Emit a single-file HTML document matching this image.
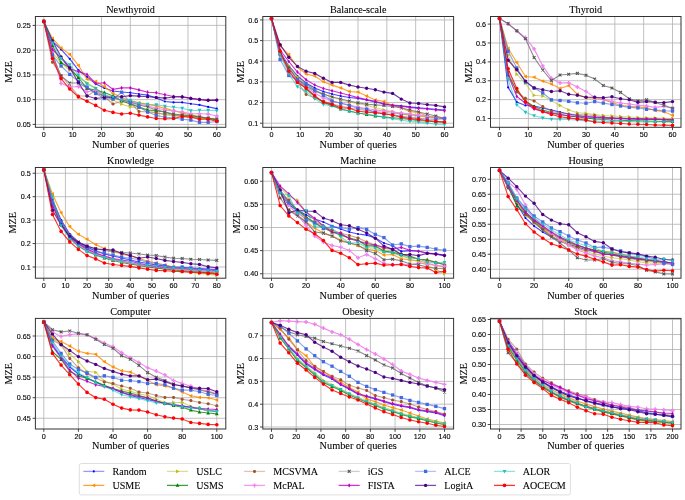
<!DOCTYPE html><html><head><meta charset="utf-8"><style>html,body{margin:0;padding:0;background:#fff;overflow:hidden}svg{display:block;will-change:transform}.s{font-family:"Liberation Sans",sans-serif;font-size:7.2px;fill:#000;stroke:#000;stroke-width:0.12px}.t{font-family:"Liberation Serif",serif;font-size:10.2px;fill:#000;stroke:#000;stroke-width:0.08px}.xl{font-size:10.3px}.lg{font-size:10.05px}</style></head><body>
<svg width="685" height="500" viewBox="0 0 685 500">
<rect width="685" height="500" fill="#fff"/>
<g>
<line x1="43.80" y1="16.5" x2="43.80" y2="127.3" stroke="#b0b0b0" stroke-width="0.8"/>
<line x1="72.63" y1="16.5" x2="72.63" y2="127.3" stroke="#b0b0b0" stroke-width="0.8"/>
<line x1="101.47" y1="16.5" x2="101.47" y2="127.3" stroke="#b0b0b0" stroke-width="0.8"/>
<line x1="130.30" y1="16.5" x2="130.30" y2="127.3" stroke="#b0b0b0" stroke-width="0.8"/>
<line x1="159.13" y1="16.5" x2="159.13" y2="127.3" stroke="#b0b0b0" stroke-width="0.8"/>
<line x1="187.97" y1="16.5" x2="187.97" y2="127.3" stroke="#b0b0b0" stroke-width="0.8"/>
<line x1="216.80" y1="16.5" x2="216.80" y2="127.3" stroke="#b0b0b0" stroke-width="0.8"/>
<line x1="35.4" y1="124.40" x2="225.8" y2="124.40" stroke="#b0b0b0" stroke-width="0.8"/>
<line x1="35.4" y1="99.65" x2="225.8" y2="99.65" stroke="#b0b0b0" stroke-width="0.8"/>
<line x1="35.4" y1="74.90" x2="225.8" y2="74.90" stroke="#b0b0b0" stroke-width="0.8"/>
<line x1="35.4" y1="50.15" x2="225.8" y2="50.15" stroke="#b0b0b0" stroke-width="0.8"/>
<line x1="35.4" y1="25.40" x2="225.8" y2="25.40" stroke="#b0b0b0" stroke-width="0.8"/>
<defs><clipPath id="c0"><rect x="35.4" y="16.5" width="190.4" height="110.8"/></clipPath></defs>
<g clip-path="url(#c0)">
<path d="M43.80 21.40 L52.45 41.50 L61.10 49.40 L69.75 58.80 L78.40 70.00 L87.05 77.00 L95.70 84.00 L104.35 88.00 L113.00 91.00 L121.65 92.00 L130.30 92.70 L138.95 94.00 L147.60 95.10 L156.25 98.00 L164.90 101.50 L173.55 102.40 L182.20 102.40 L190.85 103.80 L199.50 104.90 L208.15 106.90 L216.80 108.60" fill="none" stroke="#0000ff" stroke-opacity="0.7" stroke-width="1.15"/>
<circle cx="43.80" cy="21.40" r="1.10" fill="#0000ff"/>
<circle cx="52.45" cy="41.50" r="1.10" fill="#0000ff"/>
<circle cx="61.10" cy="49.40" r="1.10" fill="#0000ff"/>
<circle cx="69.75" cy="58.80" r="1.10" fill="#0000ff"/>
<circle cx="78.40" cy="70.00" r="1.10" fill="#0000ff"/>
<circle cx="87.05" cy="77.00" r="1.10" fill="#0000ff"/>
<circle cx="95.70" cy="84.00" r="1.10" fill="#0000ff"/>
<circle cx="104.35" cy="88.00" r="1.10" fill="#0000ff"/>
<circle cx="113.00" cy="91.00" r="1.10" fill="#0000ff"/>
<circle cx="121.65" cy="92.00" r="1.10" fill="#0000ff"/>
<circle cx="130.30" cy="92.70" r="1.10" fill="#0000ff"/>
<circle cx="138.95" cy="94.00" r="1.10" fill="#0000ff"/>
<circle cx="147.60" cy="95.10" r="1.10" fill="#0000ff"/>
<circle cx="156.25" cy="98.00" r="1.10" fill="#0000ff"/>
<circle cx="164.90" cy="101.50" r="1.10" fill="#0000ff"/>
<circle cx="173.55" cy="102.40" r="1.10" fill="#0000ff"/>
<circle cx="182.20" cy="102.40" r="1.10" fill="#0000ff"/>
<circle cx="190.85" cy="103.80" r="1.10" fill="#0000ff"/>
<circle cx="199.50" cy="104.90" r="1.10" fill="#0000ff"/>
<circle cx="208.15" cy="106.90" r="1.10" fill="#0000ff"/>
<circle cx="216.80" cy="108.60" r="1.10" fill="#0000ff"/>
<path d="M43.80 21.40 L52.45 38.50 L61.10 48.00 L69.75 54.40 L78.40 65.40 L87.05 79.20 L95.70 81.50 L104.35 86.50 L113.00 93.50 L121.65 97.25 L130.30 101.00 L138.95 102.67 L147.60 104.33 L156.25 106.00 L164.90 108.33 L173.55 110.67 L182.20 113.00 L190.85 114.75 L199.50 116.50 L208.15 118.25 L216.80 120.00" fill="none" stroke="#ff8c00" stroke-opacity="0.8" stroke-width="1.15"/>
<polygon points="41.70,21.40 45.27,19.51 45.27,23.29" fill="#ff8c00"/>
<polygon points="50.35,38.50 53.92,36.61 53.92,40.39" fill="#ff8c00"/>
<polygon points="59.00,48.00 62.57,46.11 62.57,49.89" fill="#ff8c00"/>
<polygon points="67.65,54.40 71.22,52.51 71.22,56.29" fill="#ff8c00"/>
<polygon points="76.30,65.40 79.87,63.51 79.87,67.29" fill="#ff8c00"/>
<polygon points="84.95,79.20 88.52,77.31 88.52,81.09" fill="#ff8c00"/>
<polygon points="93.60,81.50 97.17,79.61 97.17,83.39" fill="#ff8c00"/>
<polygon points="102.25,86.50 105.82,84.61 105.82,88.39" fill="#ff8c00"/>
<polygon points="110.90,93.50 114.47,91.61 114.47,95.39" fill="#ff8c00"/>
<polygon points="119.55,97.25 123.12,95.36 123.12,99.14" fill="#ff8c00"/>
<polygon points="128.20,101.00 131.77,99.11 131.77,102.89" fill="#ff8c00"/>
<polygon points="136.85,102.67 140.42,100.78 140.42,104.56" fill="#ff8c00"/>
<polygon points="145.50,104.33 149.07,102.44 149.07,106.22" fill="#ff8c00"/>
<polygon points="154.15,106.00 157.72,104.11 157.72,107.89" fill="#ff8c00"/>
<polygon points="162.80,108.33 166.37,106.44 166.37,110.22" fill="#ff8c00"/>
<polygon points="171.45,110.67 175.02,108.78 175.02,112.56" fill="#ff8c00"/>
<polygon points="180.10,113.00 183.67,111.11 183.67,114.89" fill="#ff8c00"/>
<polygon points="188.75,114.75 192.32,112.86 192.32,116.64" fill="#ff8c00"/>
<polygon points="197.40,116.50 200.97,114.61 200.97,118.39" fill="#ff8c00"/>
<polygon points="206.05,118.25 209.62,116.36 209.62,120.14" fill="#ff8c00"/>
<polygon points="214.70,120.00 218.27,118.11 218.27,121.89" fill="#ff8c00"/>
<path d="M43.80 21.40 L52.45 52.70 L61.10 63.00 L69.75 70.00 L78.40 77.00 L87.05 83.00 L95.70 88.00 L104.35 95.00 L113.00 100.00 L121.65 104.20 L130.30 106.90 L138.95 108.00 L147.60 110.00 L156.25 113.00 L164.90 115.00 L173.55 116.00 L182.20 117.00 L190.85 117.50 L199.50 118.00 L208.15 119.00 L216.80 120.00" fill="none" stroke="#bcbd22" stroke-opacity="0.6" stroke-width="1.15"/>
<polygon points="45.90,21.40 42.33,19.51 42.33,23.29" fill="#bcbd22"/>
<polygon points="54.55,52.70 50.98,50.81 50.98,54.59" fill="#bcbd22"/>
<polygon points="63.20,63.00 59.63,61.11 59.63,64.89" fill="#bcbd22"/>
<polygon points="71.85,70.00 68.28,68.11 68.28,71.89" fill="#bcbd22"/>
<polygon points="80.50,77.00 76.93,75.11 76.93,78.89" fill="#bcbd22"/>
<polygon points="89.15,83.00 85.58,81.11 85.58,84.89" fill="#bcbd22"/>
<polygon points="97.80,88.00 94.23,86.11 94.23,89.89" fill="#bcbd22"/>
<polygon points="106.45,95.00 102.88,93.11 102.88,96.89" fill="#bcbd22"/>
<polygon points="115.10,100.00 111.53,98.11 111.53,101.89" fill="#bcbd22"/>
<polygon points="123.75,104.20 120.18,102.31 120.18,106.09" fill="#bcbd22"/>
<polygon points="132.40,106.90 128.83,105.01 128.83,108.79" fill="#bcbd22"/>
<polygon points="141.05,108.00 137.48,106.11 137.48,109.89" fill="#bcbd22"/>
<polygon points="149.70,110.00 146.13,108.11 146.13,111.89" fill="#bcbd22"/>
<polygon points="158.35,113.00 154.78,111.11 154.78,114.89" fill="#bcbd22"/>
<polygon points="167.00,115.00 163.43,113.11 163.43,116.89" fill="#bcbd22"/>
<polygon points="175.65,116.00 172.08,114.11 172.08,117.89" fill="#bcbd22"/>
<polygon points="184.30,117.00 180.73,115.11 180.73,118.89" fill="#bcbd22"/>
<polygon points="192.95,117.50 189.38,115.61 189.38,119.39" fill="#bcbd22"/>
<polygon points="201.60,118.00 198.03,116.11 198.03,119.89" fill="#bcbd22"/>
<polygon points="210.25,119.00 206.68,117.11 206.68,120.89" fill="#bcbd22"/>
<polygon points="218.90,120.00 215.33,118.11 215.33,121.89" fill="#bcbd22"/>
<path d="M43.80 21.40 L52.45 45.50 L61.10 62.50 L69.75 68.00 L78.40 77.50 L87.05 88.50 L95.70 90.00 L104.35 92.50 L113.00 96.00 L121.65 101.00 L130.30 104.00 L138.95 107.00 L147.60 110.00 L156.25 110.60 L164.90 112.00 L173.55 114.70 L182.20 115.00 L190.85 115.50 L199.50 117.10 L208.15 118.00 L216.80 119.60" fill="none" stroke="#008000" stroke-opacity="0.75" stroke-width="1.15"/>
<polygon points="43.80,19.30 45.69,22.87 41.91,22.87" fill="#008000"/>
<polygon points="52.45,43.40 54.34,46.97 50.56,46.97" fill="#008000"/>
<polygon points="61.10,60.40 62.99,63.97 59.21,63.97" fill="#008000"/>
<polygon points="69.75,65.90 71.64,69.47 67.86,69.47" fill="#008000"/>
<polygon points="78.40,75.40 80.29,78.97 76.51,78.97" fill="#008000"/>
<polygon points="87.05,86.40 88.94,89.97 85.16,89.97" fill="#008000"/>
<polygon points="95.70,87.90 97.59,91.47 93.81,91.47" fill="#008000"/>
<polygon points="104.35,90.40 106.24,93.97 102.46,93.97" fill="#008000"/>
<polygon points="113.00,93.90 114.89,97.47 111.11,97.47" fill="#008000"/>
<polygon points="121.65,98.90 123.54,102.47 119.76,102.47" fill="#008000"/>
<polygon points="130.30,101.90 132.19,105.47 128.41,105.47" fill="#008000"/>
<polygon points="138.95,104.90 140.84,108.47 137.06,108.47" fill="#008000"/>
<polygon points="147.60,107.90 149.49,111.47 145.71,111.47" fill="#008000"/>
<polygon points="156.25,108.50 158.14,112.07 154.36,112.07" fill="#008000"/>
<polygon points="164.90,109.90 166.79,113.47 163.01,113.47" fill="#008000"/>
<polygon points="173.55,112.60 175.44,116.17 171.66,116.17" fill="#008000"/>
<polygon points="182.20,112.90 184.09,116.47 180.31,116.47" fill="#008000"/>
<polygon points="190.85,113.40 192.74,116.97 188.96,116.97" fill="#008000"/>
<polygon points="199.50,115.00 201.39,118.57 197.61,118.57" fill="#008000"/>
<polygon points="208.15,115.90 210.04,119.47 206.26,119.47" fill="#008000"/>
<polygon points="216.80,117.50 218.69,121.07 214.91,121.07" fill="#008000"/>
<path d="M43.80 21.40 L52.45 62.20 L61.10 75.50 L69.75 86.00 L78.40 96.00 L87.05 96.00 L95.70 90.50 L104.35 97.00 L113.00 104.00 L121.65 101.00 L130.30 103.00 L138.95 111.40 L147.60 112.00 L156.25 113.00 L164.90 114.00 L173.55 115.00 L182.20 116.00 L190.85 117.00 L199.50 118.00 L208.15 119.00 L216.80 120.00" fill="none" stroke="#a0522d" stroke-opacity="0.5" stroke-width="1.15"/>
<polygon points="45.28,22.01 44.41,22.88 43.19,22.88 42.32,22.01 42.32,20.79 43.19,19.92 44.41,19.92 45.28,20.79" fill="#a0522d"/>
<polygon points="53.93,62.81 53.06,63.68 51.84,63.68 50.97,62.81 50.97,61.59 51.84,60.72 53.06,60.72 53.93,61.59" fill="#a0522d"/>
<polygon points="62.58,76.11 61.71,76.98 60.49,76.98 59.62,76.11 59.62,74.89 60.49,74.02 61.71,74.02 62.58,74.89" fill="#a0522d"/>
<polygon points="71.23,86.61 70.36,87.48 69.14,87.48 68.27,86.61 68.27,85.39 69.14,84.52 70.36,84.52 71.23,85.39" fill="#a0522d"/>
<polygon points="79.88,96.61 79.01,97.48 77.79,97.48 76.92,96.61 76.92,95.39 77.79,94.52 79.01,94.52 79.88,95.39" fill="#a0522d"/>
<polygon points="88.53,96.61 87.66,97.48 86.44,97.48 85.57,96.61 85.57,95.39 86.44,94.52 87.66,94.52 88.53,95.39" fill="#a0522d"/>
<polygon points="97.18,91.11 96.31,91.98 95.09,91.98 94.22,91.11 94.22,89.89 95.09,89.02 96.31,89.02 97.18,89.89" fill="#a0522d"/>
<polygon points="105.83,97.61 104.96,98.48 103.74,98.48 102.87,97.61 102.87,96.39 103.74,95.52 104.96,95.52 105.83,96.39" fill="#a0522d"/>
<polygon points="114.48,104.61 113.61,105.48 112.39,105.48 111.52,104.61 111.52,103.39 112.39,102.52 113.61,102.52 114.48,103.39" fill="#a0522d"/>
<polygon points="123.13,101.61 122.26,102.48 121.04,102.48 120.17,101.61 120.17,100.39 121.04,99.52 122.26,99.52 123.13,100.39" fill="#a0522d"/>
<polygon points="131.78,103.61 130.91,104.48 129.69,104.48 128.82,103.61 128.82,102.39 129.69,101.52 130.91,101.52 131.78,102.39" fill="#a0522d"/>
<polygon points="140.43,112.01 139.56,112.88 138.34,112.88 137.47,112.01 137.47,110.79 138.34,109.92 139.56,109.92 140.43,110.79" fill="#a0522d"/>
<polygon points="149.08,112.61 148.21,113.48 146.99,113.48 146.12,112.61 146.12,111.39 146.99,110.52 148.21,110.52 149.08,111.39" fill="#a0522d"/>
<polygon points="157.73,113.61 156.86,114.48 155.64,114.48 154.77,113.61 154.77,112.39 155.64,111.52 156.86,111.52 157.73,112.39" fill="#a0522d"/>
<polygon points="166.38,114.61 165.51,115.48 164.29,115.48 163.42,114.61 163.42,113.39 164.29,112.52 165.51,112.52 166.38,113.39" fill="#a0522d"/>
<polygon points="175.03,115.61 174.16,116.48 172.94,116.48 172.07,115.61 172.07,114.39 172.94,113.52 174.16,113.52 175.03,114.39" fill="#a0522d"/>
<polygon points="183.68,116.61 182.81,117.48 181.59,117.48 180.72,116.61 180.72,115.39 181.59,114.52 182.81,114.52 183.68,115.39" fill="#a0522d"/>
<polygon points="192.33,117.61 191.46,118.48 190.24,118.48 189.37,117.61 189.37,116.39 190.24,115.52 191.46,115.52 192.33,116.39" fill="#a0522d"/>
<polygon points="200.98,118.61 200.11,119.48 198.89,119.48 198.02,118.61 198.02,117.39 198.89,116.52 200.11,116.52 200.98,117.39" fill="#a0522d"/>
<polygon points="209.63,119.61 208.76,120.48 207.54,120.48 206.67,119.61 206.67,118.39 207.54,117.52 208.76,117.52 209.63,118.39" fill="#a0522d"/>
<polygon points="218.28,120.61 217.41,121.48 216.19,121.48 215.32,120.61 215.32,119.39 216.19,118.52 217.41,118.52 218.28,119.39" fill="#a0522d"/>
<path d="M43.80 21.40 L52.45 52.00 L61.10 83.40 L69.75 87.00 L78.40 86.50 L87.05 91.80 L95.70 90.00 L104.35 95.00 L113.00 98.00 L121.65 100.00 L130.30 102.00 L138.95 104.00 L147.60 106.00 L156.25 108.00 L164.90 110.00 L173.55 111.00 L182.20 112.00 L190.85 113.70 L199.50 113.70 L208.15 114.00 L216.80 116.00" fill="none" stroke="#ee82ee" stroke-opacity="0.9" stroke-width="1.15"/>
<polygon points="43.08,19.40 44.52,19.40 44.52,20.68 45.80,20.68 45.80,22.12 44.52,22.12 44.52,23.40 43.08,23.40 43.08,22.12 41.80,22.12 41.80,20.68 43.08,20.68" fill="#ee82ee"/>
<polygon points="51.73,50.00 53.17,50.00 53.17,51.28 54.45,51.28 54.45,52.72 53.17,52.72 53.17,54.00 51.73,54.00 51.73,52.72 50.45,52.72 50.45,51.28 51.73,51.28" fill="#ee82ee"/>
<polygon points="60.38,81.40 61.82,81.40 61.82,82.68 63.10,82.68 63.10,84.12 61.82,84.12 61.82,85.40 60.38,85.40 60.38,84.12 59.10,84.12 59.10,82.68 60.38,82.68" fill="#ee82ee"/>
<polygon points="69.03,85.00 70.47,85.00 70.47,86.28 71.75,86.28 71.75,87.72 70.47,87.72 70.47,89.00 69.03,89.00 69.03,87.72 67.75,87.72 67.75,86.28 69.03,86.28" fill="#ee82ee"/>
<polygon points="77.68,84.50 79.12,84.50 79.12,85.78 80.40,85.78 80.40,87.22 79.12,87.22 79.12,88.50 77.68,88.50 77.68,87.22 76.40,87.22 76.40,85.78 77.68,85.78" fill="#ee82ee"/>
<polygon points="86.33,89.80 87.77,89.80 87.77,91.08 89.05,91.08 89.05,92.52 87.77,92.52 87.77,93.80 86.33,93.80 86.33,92.52 85.05,92.52 85.05,91.08 86.33,91.08" fill="#ee82ee"/>
<polygon points="94.98,88.00 96.42,88.00 96.42,89.28 97.70,89.28 97.70,90.72 96.42,90.72 96.42,92.00 94.98,92.00 94.98,90.72 93.70,90.72 93.70,89.28 94.98,89.28" fill="#ee82ee"/>
<polygon points="103.63,93.00 105.07,93.00 105.07,94.28 106.35,94.28 106.35,95.72 105.07,95.72 105.07,97.00 103.63,97.00 103.63,95.72 102.35,95.72 102.35,94.28 103.63,94.28" fill="#ee82ee"/>
<polygon points="112.28,96.00 113.72,96.00 113.72,97.28 115.00,97.28 115.00,98.72 113.72,98.72 113.72,100.00 112.28,100.00 112.28,98.72 111.00,98.72 111.00,97.28 112.28,97.28" fill="#ee82ee"/>
<polygon points="120.93,98.00 122.37,98.00 122.37,99.28 123.65,99.28 123.65,100.72 122.37,100.72 122.37,102.00 120.93,102.00 120.93,100.72 119.65,100.72 119.65,99.28 120.93,99.28" fill="#ee82ee"/>
<polygon points="129.58,100.00 131.02,100.00 131.02,101.28 132.30,101.28 132.30,102.72 131.02,102.72 131.02,104.00 129.58,104.00 129.58,102.72 128.30,102.72 128.30,101.28 129.58,101.28" fill="#ee82ee"/>
<polygon points="138.23,102.00 139.67,102.00 139.67,103.28 140.95,103.28 140.95,104.72 139.67,104.72 139.67,106.00 138.23,106.00 138.23,104.72 136.95,104.72 136.95,103.28 138.23,103.28" fill="#ee82ee"/>
<polygon points="146.88,104.00 148.32,104.00 148.32,105.28 149.60,105.28 149.60,106.72 148.32,106.72 148.32,108.00 146.88,108.00 146.88,106.72 145.60,106.72 145.60,105.28 146.88,105.28" fill="#ee82ee"/>
<polygon points="155.53,106.00 156.97,106.00 156.97,107.28 158.25,107.28 158.25,108.72 156.97,108.72 156.97,110.00 155.53,110.00 155.53,108.72 154.25,108.72 154.25,107.28 155.53,107.28" fill="#ee82ee"/>
<polygon points="164.18,108.00 165.62,108.00 165.62,109.28 166.90,109.28 166.90,110.72 165.62,110.72 165.62,112.00 164.18,112.00 164.18,110.72 162.90,110.72 162.90,109.28 164.18,109.28" fill="#ee82ee"/>
<polygon points="172.83,109.00 174.27,109.00 174.27,110.28 175.55,110.28 175.55,111.72 174.27,111.72 174.27,113.00 172.83,113.00 172.83,111.72 171.55,111.72 171.55,110.28 172.83,110.28" fill="#ee82ee"/>
<polygon points="181.48,110.00 182.92,110.00 182.92,111.28 184.20,111.28 184.20,112.72 182.92,112.72 182.92,114.00 181.48,114.00 181.48,112.72 180.20,112.72 180.20,111.28 181.48,111.28" fill="#ee82ee"/>
<polygon points="190.13,111.70 191.57,111.70 191.57,112.98 192.85,112.98 192.85,114.42 191.57,114.42 191.57,115.70 190.13,115.70 190.13,114.42 188.85,114.42 188.85,112.98 190.13,112.98" fill="#ee82ee"/>
<polygon points="198.78,111.70 200.22,111.70 200.22,112.98 201.50,112.98 201.50,114.42 200.22,114.42 200.22,115.70 198.78,115.70 198.78,114.42 197.50,114.42 197.50,112.98 198.78,112.98" fill="#ee82ee"/>
<polygon points="207.43,112.00 208.87,112.00 208.87,113.28 210.15,113.28 210.15,114.72 208.87,114.72 208.87,116.00 207.43,116.00 207.43,114.72 206.15,114.72 206.15,113.28 207.43,113.28" fill="#ee82ee"/>
<polygon points="216.08,114.00 217.52,114.00 217.52,115.28 218.80,115.28 218.80,116.72 217.52,116.72 217.52,118.00 216.08,118.00 216.08,116.72 214.80,116.72 214.80,115.28 216.08,115.28" fill="#ee82ee"/>
<path d="M43.80 21.40 L52.45 55.00 L61.10 76.00 L69.75 83.00 L78.40 83.00 L87.05 88.00 L95.70 93.00 L104.35 96.00 L113.00 98.00 L121.65 100.00 L130.30 102.00 L138.95 105.00 L147.60 107.00 L156.25 110.00 L164.90 112.00 L173.55 114.00 L182.20 115.00 L190.85 116.00 L199.50 117.00 L208.15 118.00 L216.80 119.00" fill="none" stroke="#707070" stroke-opacity="0.8" stroke-width="1.15"/>
<path d="M42.38 19.97L45.22 22.82M42.38 22.82L45.22 19.97" stroke="#555555" stroke-width="1.1"/>
<path d="M51.02 53.58L53.87 56.42M51.02 56.42L53.87 53.58" stroke="#555555" stroke-width="1.1"/>
<path d="M59.67 74.58L62.52 77.42M59.67 77.42L62.52 74.58" stroke="#555555" stroke-width="1.1"/>
<path d="M68.33 81.58L71.17 84.42M68.33 84.42L71.17 81.58" stroke="#555555" stroke-width="1.1"/>
<path d="M76.98 81.58L79.83 84.42M76.98 84.42L79.83 81.58" stroke="#555555" stroke-width="1.1"/>
<path d="M85.62 86.58L88.47 89.42M85.62 89.42L88.47 86.58" stroke="#555555" stroke-width="1.1"/>
<path d="M94.27 91.58L97.12 94.42M94.27 94.42L97.12 91.58" stroke="#555555" stroke-width="1.1"/>
<path d="M102.92 94.58L105.77 97.42M102.92 97.42L105.77 94.58" stroke="#555555" stroke-width="1.1"/>
<path d="M111.58 96.58L114.42 99.42M111.58 99.42L114.42 96.58" stroke="#555555" stroke-width="1.1"/>
<path d="M120.22 98.58L123.07 101.42M120.22 101.42L123.07 98.58" stroke="#555555" stroke-width="1.1"/>
<path d="M128.88 100.58L131.73 103.42M128.88 103.42L131.73 100.58" stroke="#555555" stroke-width="1.1"/>
<path d="M137.52 103.58L140.38 106.42M137.52 106.42L140.38 103.58" stroke="#555555" stroke-width="1.1"/>
<path d="M146.17 105.58L149.03 108.42M146.17 108.42L149.03 105.58" stroke="#555555" stroke-width="1.1"/>
<path d="M154.82 108.58L157.68 111.42M154.82 111.42L157.68 108.58" stroke="#555555" stroke-width="1.1"/>
<path d="M163.47 110.58L166.32 113.42M163.47 113.42L166.32 110.58" stroke="#555555" stroke-width="1.1"/>
<path d="M172.12 112.58L174.98 115.42M172.12 115.42L174.98 112.58" stroke="#555555" stroke-width="1.1"/>
<path d="M180.77 113.58L183.62 116.42M180.77 116.42L183.62 113.58" stroke="#555555" stroke-width="1.1"/>
<path d="M189.43 114.58L192.28 117.42M189.43 117.42L192.28 114.58" stroke="#555555" stroke-width="1.1"/>
<path d="M198.07 115.58L200.93 118.42M198.07 118.42L200.93 115.58" stroke="#555555" stroke-width="1.1"/>
<path d="M206.72 116.58L209.57 119.42M206.72 119.42L209.57 116.58" stroke="#555555" stroke-width="1.1"/>
<path d="M215.38 117.58L218.23 120.42M215.38 120.42L218.23 117.58" stroke="#555555" stroke-width="1.1"/>
<path d="M43.80 21.40 L52.45 49.40 L61.10 58.00 L69.75 68.80 L78.40 71.60 L87.05 74.50 L95.70 83.50 L104.35 82.80 L113.00 89.40 L121.65 87.90 L130.30 87.90 L138.95 89.90 L147.60 92.20 L156.25 92.70 L164.90 94.70 L173.55 96.50 L182.20 96.50 L190.85 98.40 L199.50 99.50 L208.15 100.30 L216.80 100.10" fill="none" stroke="#c000c0" stroke-opacity="0.8" stroke-width="1.15"/>
<polygon points="43.80,19.30 45.06,21.40 43.80,23.50 42.54,21.40" fill="#c000c0"/>
<polygon points="52.45,47.30 53.71,49.40 52.45,51.50 51.19,49.40" fill="#c000c0"/>
<polygon points="61.10,55.90 62.36,58.00 61.10,60.10 59.84,58.00" fill="#c000c0"/>
<polygon points="69.75,66.70 71.01,68.80 69.75,70.90 68.49,68.80" fill="#c000c0"/>
<polygon points="78.40,69.50 79.66,71.60 78.40,73.70 77.14,71.60" fill="#c000c0"/>
<polygon points="87.05,72.40 88.31,74.50 87.05,76.60 85.79,74.50" fill="#c000c0"/>
<polygon points="95.70,81.40 96.96,83.50 95.70,85.60 94.44,83.50" fill="#c000c0"/>
<polygon points="104.35,80.70 105.61,82.80 104.35,84.90 103.09,82.80" fill="#c000c0"/>
<polygon points="113.00,87.30 114.26,89.40 113.00,91.50 111.74,89.40" fill="#c000c0"/>
<polygon points="121.65,85.80 122.91,87.90 121.65,90.00 120.39,87.90" fill="#c000c0"/>
<polygon points="130.30,85.80 131.56,87.90 130.30,90.00 129.04,87.90" fill="#c000c0"/>
<polygon points="138.95,87.80 140.21,89.90 138.95,92.00 137.69,89.90" fill="#c000c0"/>
<polygon points="147.60,90.10 148.86,92.20 147.60,94.30 146.34,92.20" fill="#c000c0"/>
<polygon points="156.25,90.60 157.51,92.70 156.25,94.80 154.99,92.70" fill="#c000c0"/>
<polygon points="164.90,92.60 166.16,94.70 164.90,96.80 163.64,94.70" fill="#c000c0"/>
<polygon points="173.55,94.40 174.81,96.50 173.55,98.60 172.29,96.50" fill="#c000c0"/>
<polygon points="182.20,94.40 183.46,96.50 182.20,98.60 180.94,96.50" fill="#c000c0"/>
<polygon points="190.85,96.30 192.11,98.40 190.85,100.50 189.59,98.40" fill="#c000c0"/>
<polygon points="199.50,97.40 200.76,99.50 199.50,101.60 198.24,99.50" fill="#c000c0"/>
<polygon points="208.15,98.20 209.41,100.30 208.15,102.40 206.89,100.30" fill="#c000c0"/>
<polygon points="216.80,98.00 218.06,100.10 216.80,102.20 215.54,100.10" fill="#c000c0"/>
<path d="M43.80 21.40 L52.45 55.00 L61.10 66.00 L69.75 74.40 L78.40 81.20 L87.05 87.00 L95.70 93.50 L104.35 98.50 L113.00 99.00 L121.65 92.20 L130.30 102.90 L138.95 107.00 L147.60 112.00 L156.25 115.50 L164.90 117.00 L173.55 118.00 L182.20 119.20 L190.85 120.10 L199.50 122.30 L208.15 122.30 L216.80 121.50" fill="none" stroke="#4169e1" stroke-opacity="0.6" stroke-width="1.15"/>
<rect x="42.15" y="19.75" width="3.30" height="3.30" fill="#4169e1"/>
<rect x="50.80" y="53.35" width="3.30" height="3.30" fill="#4169e1"/>
<rect x="59.45" y="64.35" width="3.30" height="3.30" fill="#4169e1"/>
<rect x="68.10" y="72.75" width="3.30" height="3.30" fill="#4169e1"/>
<rect x="76.75" y="79.55" width="3.30" height="3.30" fill="#4169e1"/>
<rect x="85.40" y="85.35" width="3.30" height="3.30" fill="#4169e1"/>
<rect x="94.05" y="91.85" width="3.30" height="3.30" fill="#4169e1"/>
<rect x="102.70" y="96.85" width="3.30" height="3.30" fill="#4169e1"/>
<rect x="111.35" y="97.35" width="3.30" height="3.30" fill="#4169e1"/>
<rect x="120.00" y="90.55" width="3.30" height="3.30" fill="#4169e1"/>
<rect x="128.65" y="101.25" width="3.30" height="3.30" fill="#4169e1"/>
<rect x="137.30" y="105.35" width="3.30" height="3.30" fill="#4169e1"/>
<rect x="145.95" y="110.35" width="3.30" height="3.30" fill="#4169e1"/>
<rect x="154.60" y="113.85" width="3.30" height="3.30" fill="#4169e1"/>
<rect x="163.25" y="115.35" width="3.30" height="3.30" fill="#4169e1"/>
<rect x="171.90" y="116.35" width="3.30" height="3.30" fill="#4169e1"/>
<rect x="180.55" y="117.55" width="3.30" height="3.30" fill="#4169e1"/>
<rect x="189.20" y="118.45" width="3.30" height="3.30" fill="#4169e1"/>
<rect x="197.85" y="120.65" width="3.30" height="3.30" fill="#4169e1"/>
<rect x="206.50" y="120.65" width="3.30" height="3.30" fill="#4169e1"/>
<rect x="215.15" y="119.85" width="3.30" height="3.30" fill="#4169e1"/>
<path d="M43.80 21.40 L52.45 40.80 L61.10 57.00 L69.75 67.50 L78.40 82.50 L87.05 96.00 L95.70 98.50 L104.35 97.50 L113.00 97.00 L121.65 96.70 L130.30 95.60 L138.95 96.10 L147.60 96.70 L156.25 97.40 L164.90 98.10 L173.55 97.00 L182.20 97.00 L190.85 98.40 L199.50 99.50 L208.15 100.30 L216.80 100.10" fill="none" stroke="#4b0082" stroke-opacity="0.75" stroke-width="1.15"/>
<circle cx="43.80" cy="21.40" r="1.70" fill="#4b0082"/>
<circle cx="52.45" cy="40.80" r="1.70" fill="#4b0082"/>
<circle cx="61.10" cy="57.00" r="1.70" fill="#4b0082"/>
<circle cx="69.75" cy="67.50" r="1.70" fill="#4b0082"/>
<circle cx="78.40" cy="82.50" r="1.70" fill="#4b0082"/>
<circle cx="87.05" cy="96.00" r="1.70" fill="#4b0082"/>
<circle cx="95.70" cy="98.50" r="1.70" fill="#4b0082"/>
<circle cx="104.35" cy="97.50" r="1.70" fill="#4b0082"/>
<circle cx="113.00" cy="97.00" r="1.70" fill="#4b0082"/>
<circle cx="121.65" cy="96.70" r="1.70" fill="#4b0082"/>
<circle cx="130.30" cy="95.60" r="1.70" fill="#4b0082"/>
<circle cx="138.95" cy="96.10" r="1.70" fill="#4b0082"/>
<circle cx="147.60" cy="96.70" r="1.70" fill="#4b0082"/>
<circle cx="156.25" cy="97.40" r="1.70" fill="#4b0082"/>
<circle cx="164.90" cy="98.10" r="1.70" fill="#4b0082"/>
<circle cx="173.55" cy="97.00" r="1.70" fill="#4b0082"/>
<circle cx="182.20" cy="97.00" r="1.70" fill="#4b0082"/>
<circle cx="190.85" cy="98.40" r="1.70" fill="#4b0082"/>
<circle cx="199.50" cy="99.50" r="1.70" fill="#4b0082"/>
<circle cx="208.15" cy="100.30" r="1.70" fill="#4b0082"/>
<circle cx="216.80" cy="100.10" r="1.70" fill="#4b0082"/>
<path d="M43.80 21.40 L52.45 43.00 L61.10 58.40 L69.75 64.60 L78.40 75.00 L87.05 84.00 L95.70 88.50 L104.35 95.00 L113.00 97.00 L121.65 100.10 L130.30 100.10 L138.95 103.50 L147.60 104.20 L156.25 104.60 L164.90 106.30 L173.55 107.30 L182.20 108.30 L190.85 110.60 L199.50 110.30 L208.15 110.30 L216.80 110.60" fill="none" stroke="#00c0c0" stroke-opacity="0.5" stroke-width="1.15"/>
<polygon points="43.80,23.50 45.69,19.93 41.91,19.93" fill="#20c0c0"/>
<polygon points="52.45,45.10 54.34,41.53 50.56,41.53" fill="#20c0c0"/>
<polygon points="61.10,60.50 62.99,56.93 59.21,56.93" fill="#20c0c0"/>
<polygon points="69.75,66.70 71.64,63.13 67.86,63.13" fill="#20c0c0"/>
<polygon points="78.40,77.10 80.29,73.53 76.51,73.53" fill="#20c0c0"/>
<polygon points="87.05,86.10 88.94,82.53 85.16,82.53" fill="#20c0c0"/>
<polygon points="95.70,90.60 97.59,87.03 93.81,87.03" fill="#20c0c0"/>
<polygon points="104.35,97.10 106.24,93.53 102.46,93.53" fill="#20c0c0"/>
<polygon points="113.00,99.10 114.89,95.53 111.11,95.53" fill="#20c0c0"/>
<polygon points="121.65,102.20 123.54,98.63 119.76,98.63" fill="#20c0c0"/>
<polygon points="130.30,102.20 132.19,98.63 128.41,98.63" fill="#20c0c0"/>
<polygon points="138.95,105.60 140.84,102.03 137.06,102.03" fill="#20c0c0"/>
<polygon points="147.60,106.30 149.49,102.73 145.71,102.73" fill="#20c0c0"/>
<polygon points="156.25,106.70 158.14,103.13 154.36,103.13" fill="#20c0c0"/>
<polygon points="164.90,108.40 166.79,104.83 163.01,104.83" fill="#20c0c0"/>
<polygon points="173.55,109.40 175.44,105.83 171.66,105.83" fill="#20c0c0"/>
<polygon points="182.20,110.40 184.09,106.83 180.31,106.83" fill="#20c0c0"/>
<polygon points="190.85,112.70 192.74,109.13 188.96,109.13" fill="#20c0c0"/>
<polygon points="199.50,112.40 201.39,108.83 197.61,108.83" fill="#20c0c0"/>
<polygon points="208.15,112.40 210.04,108.83 206.26,108.83" fill="#20c0c0"/>
<polygon points="216.80,112.70 218.69,109.13 214.91,109.13" fill="#20c0c0"/>
<path d="M43.80 21.40 L52.45 58.50 L61.10 78.60 L69.75 89.00 L78.40 97.00 L87.05 101.30 L95.70 105.40 L104.35 110.20 L113.00 112.40 L121.65 114.00 L130.30 113.30 L138.95 115.10 L147.60 116.90 L156.25 118.50 L164.90 118.80 L173.55 118.50 L182.20 116.50 L190.85 117.10 L199.50 119.20 L208.15 119.20 L216.80 121.20" fill="none" stroke="#ff0000" stroke-opacity="0.8" stroke-width="1.15"/>
<circle cx="43.80" cy="21.40" r="1.80" fill="#ff0000"/>
<circle cx="52.45" cy="58.50" r="1.80" fill="#ff0000"/>
<circle cx="61.10" cy="78.60" r="1.80" fill="#ff0000"/>
<circle cx="69.75" cy="89.00" r="1.80" fill="#ff0000"/>
<circle cx="78.40" cy="97.00" r="1.80" fill="#ff0000"/>
<circle cx="87.05" cy="101.30" r="1.80" fill="#ff0000"/>
<circle cx="95.70" cy="105.40" r="1.80" fill="#ff0000"/>
<circle cx="104.35" cy="110.20" r="1.80" fill="#ff0000"/>
<circle cx="113.00" cy="112.40" r="1.80" fill="#ff0000"/>
<circle cx="121.65" cy="114.00" r="1.80" fill="#ff0000"/>
<circle cx="130.30" cy="113.30" r="1.80" fill="#ff0000"/>
<circle cx="138.95" cy="115.10" r="1.80" fill="#ff0000"/>
<circle cx="147.60" cy="116.90" r="1.80" fill="#ff0000"/>
<circle cx="156.25" cy="118.50" r="1.80" fill="#ff0000"/>
<circle cx="164.90" cy="118.80" r="1.80" fill="#ff0000"/>
<circle cx="173.55" cy="118.50" r="1.80" fill="#ff0000"/>
<circle cx="182.20" cy="116.50" r="1.80" fill="#ff0000"/>
<circle cx="190.85" cy="117.10" r="1.80" fill="#ff0000"/>
<circle cx="199.50" cy="119.20" r="1.80" fill="#ff0000"/>
<circle cx="208.15" cy="119.20" r="1.80" fill="#ff0000"/>
<circle cx="216.80" cy="121.20" r="1.80" fill="#ff0000"/>
</g>
<rect x="35.4" y="16.5" width="190.40" height="110.80" fill="none" stroke="#333" stroke-width="1"/>
<line x1="43.80" y1="127.3" x2="43.80" y2="130.10" stroke="#333" stroke-width="0.9"/>
<text class="s" x="43.80" y="136.90" text-anchor="middle">0</text>
<line x1="72.63" y1="127.3" x2="72.63" y2="130.10" stroke="#333" stroke-width="0.9"/>
<text class="s" x="72.63" y="136.90" text-anchor="middle">10</text>
<line x1="101.47" y1="127.3" x2="101.47" y2="130.10" stroke="#333" stroke-width="0.9"/>
<text class="s" x="101.47" y="136.90" text-anchor="middle">20</text>
<line x1="130.30" y1="127.3" x2="130.30" y2="130.10" stroke="#333" stroke-width="0.9"/>
<text class="s" x="130.30" y="136.90" text-anchor="middle">30</text>
<line x1="159.13" y1="127.3" x2="159.13" y2="130.10" stroke="#333" stroke-width="0.9"/>
<text class="s" x="159.13" y="136.90" text-anchor="middle">40</text>
<line x1="187.97" y1="127.3" x2="187.97" y2="130.10" stroke="#333" stroke-width="0.9"/>
<text class="s" x="187.97" y="136.90" text-anchor="middle">50</text>
<line x1="216.80" y1="127.3" x2="216.80" y2="130.10" stroke="#333" stroke-width="0.9"/>
<text class="s" x="216.80" y="136.90" text-anchor="middle">60</text>
<line x1="32.60" y1="124.40" x2="35.4" y2="124.40" stroke="#333" stroke-width="0.9"/>
<text class="s" x="30.80" y="126.95" text-anchor="end">0.05</text>
<line x1="32.60" y1="99.65" x2="35.4" y2="99.65" stroke="#333" stroke-width="0.9"/>
<text class="s" x="30.80" y="102.20" text-anchor="end">0.10</text>
<line x1="32.60" y1="74.90" x2="35.4" y2="74.90" stroke="#333" stroke-width="0.9"/>
<text class="s" x="30.80" y="77.45" text-anchor="end">0.15</text>
<line x1="32.60" y1="50.15" x2="35.4" y2="50.15" stroke="#333" stroke-width="0.9"/>
<text class="s" x="30.80" y="52.70" text-anchor="end">0.20</text>
<line x1="32.60" y1="25.40" x2="35.4" y2="25.40" stroke="#333" stroke-width="0.9"/>
<text class="s" x="30.80" y="27.95" text-anchor="end">0.25</text>
<text class="t" x="130.60" y="12.90" text-anchor="middle">Newthyroid</text>
<text class="t xl" x="130.60" y="147.60" text-anchor="middle">Number of queries</text>
<text class="t" x="0" y="0" text-anchor="middle" transform="translate(12.25,71.90) rotate(-90)">MZE</text>
</g>
<g>
<line x1="271.50" y1="16.5" x2="271.50" y2="127.3" stroke="#b0b0b0" stroke-width="0.8"/>
<line x1="300.33" y1="16.5" x2="300.33" y2="127.3" stroke="#b0b0b0" stroke-width="0.8"/>
<line x1="329.17" y1="16.5" x2="329.17" y2="127.3" stroke="#b0b0b0" stroke-width="0.8"/>
<line x1="358.00" y1="16.5" x2="358.00" y2="127.3" stroke="#b0b0b0" stroke-width="0.8"/>
<line x1="386.83" y1="16.5" x2="386.83" y2="127.3" stroke="#b0b0b0" stroke-width="0.8"/>
<line x1="415.67" y1="16.5" x2="415.67" y2="127.3" stroke="#b0b0b0" stroke-width="0.8"/>
<line x1="444.50" y1="16.5" x2="444.50" y2="127.3" stroke="#b0b0b0" stroke-width="0.8"/>
<line x1="262.8" y1="123.20" x2="453.6" y2="123.20" stroke="#b0b0b0" stroke-width="0.8"/>
<line x1="262.8" y1="102.55" x2="453.6" y2="102.55" stroke="#b0b0b0" stroke-width="0.8"/>
<line x1="262.8" y1="81.90" x2="453.6" y2="81.90" stroke="#b0b0b0" stroke-width="0.8"/>
<line x1="262.8" y1="61.25" x2="453.6" y2="61.25" stroke="#b0b0b0" stroke-width="0.8"/>
<line x1="262.8" y1="40.60" x2="453.6" y2="40.60" stroke="#b0b0b0" stroke-width="0.8"/>
<line x1="262.8" y1="19.95" x2="453.6" y2="19.95" stroke="#b0b0b0" stroke-width="0.8"/>
<defs><clipPath id="c1"><rect x="262.8" y="16.5" width="190.8" height="110.8"/></clipPath></defs>
<g clip-path="url(#c1)">
<path d="M271.50 18.60 L280.15 52.00 L288.80 66.00 L297.45 76.00 L306.10 83.00 L314.75 88.00 L323.40 91.50 L332.05 94.00 L340.70 96.00 L349.35 97.50 L358.00 98.40 L366.65 100.00 L375.30 102.00 L383.95 104.00 L392.60 105.00 L401.25 105.90 L409.90 106.90 L418.55 107.70 L427.20 108.50 L435.85 109.30 L444.50 110.00" fill="none" stroke="#0000ff" stroke-opacity="0.7" stroke-width="1.15"/>
<circle cx="271.50" cy="18.60" r="1.10" fill="#0000ff"/>
<circle cx="280.15" cy="52.00" r="1.10" fill="#0000ff"/>
<circle cx="288.80" cy="66.00" r="1.10" fill="#0000ff"/>
<circle cx="297.45" cy="76.00" r="1.10" fill="#0000ff"/>
<circle cx="306.10" cy="83.00" r="1.10" fill="#0000ff"/>
<circle cx="314.75" cy="88.00" r="1.10" fill="#0000ff"/>
<circle cx="323.40" cy="91.50" r="1.10" fill="#0000ff"/>
<circle cx="332.05" cy="94.00" r="1.10" fill="#0000ff"/>
<circle cx="340.70" cy="96.00" r="1.10" fill="#0000ff"/>
<circle cx="349.35" cy="97.50" r="1.10" fill="#0000ff"/>
<circle cx="358.00" cy="98.40" r="1.10" fill="#0000ff"/>
<circle cx="366.65" cy="100.00" r="1.10" fill="#0000ff"/>
<circle cx="375.30" cy="102.00" r="1.10" fill="#0000ff"/>
<circle cx="383.95" cy="104.00" r="1.10" fill="#0000ff"/>
<circle cx="392.60" cy="105.00" r="1.10" fill="#0000ff"/>
<circle cx="401.25" cy="105.90" r="1.10" fill="#0000ff"/>
<circle cx="409.90" cy="106.90" r="1.10" fill="#0000ff"/>
<circle cx="418.55" cy="107.70" r="1.10" fill="#0000ff"/>
<circle cx="427.20" cy="108.50" r="1.10" fill="#0000ff"/>
<circle cx="435.85" cy="109.30" r="1.10" fill="#0000ff"/>
<circle cx="444.50" cy="110.00" r="1.10" fill="#0000ff"/>
<path d="M271.50 18.60 L280.15 46.00 L288.80 54.50 L297.45 67.00 L306.10 74.00 L314.75 76.10 L323.40 81.70 L332.05 85.10 L340.70 87.90 L349.35 91.50 L358.00 92.10 L366.65 96.00 L375.30 99.90 L383.95 101.50 L392.60 105.40 L401.25 107.70 L409.90 111.60 L418.55 112.40 L427.20 116.30 L435.85 117.40 L444.50 118.30" fill="none" stroke="#ff8c00" stroke-opacity="0.8" stroke-width="1.15"/>
<polygon points="269.40,18.60 272.97,16.71 272.97,20.49" fill="#ff8c00"/>
<polygon points="278.05,46.00 281.62,44.11 281.62,47.89" fill="#ff8c00"/>
<polygon points="286.70,54.50 290.27,52.61 290.27,56.39" fill="#ff8c00"/>
<polygon points="295.35,67.00 298.92,65.11 298.92,68.89" fill="#ff8c00"/>
<polygon points="304.00,74.00 307.57,72.11 307.57,75.89" fill="#ff8c00"/>
<polygon points="312.65,76.10 316.22,74.21 316.22,77.99" fill="#ff8c00"/>
<polygon points="321.30,81.70 324.87,79.81 324.87,83.59" fill="#ff8c00"/>
<polygon points="329.95,85.10 333.52,83.21 333.52,86.99" fill="#ff8c00"/>
<polygon points="338.60,87.90 342.17,86.01 342.17,89.79" fill="#ff8c00"/>
<polygon points="347.25,91.50 350.82,89.61 350.82,93.39" fill="#ff8c00"/>
<polygon points="355.90,92.10 359.47,90.21 359.47,93.99" fill="#ff8c00"/>
<polygon points="364.55,96.00 368.12,94.11 368.12,97.89" fill="#ff8c00"/>
<polygon points="373.20,99.90 376.77,98.01 376.77,101.79" fill="#ff8c00"/>
<polygon points="381.85,101.50 385.42,99.61 385.42,103.39" fill="#ff8c00"/>
<polygon points="390.50,105.40 394.07,103.51 394.07,107.29" fill="#ff8c00"/>
<polygon points="399.15,107.70 402.72,105.81 402.72,109.59" fill="#ff8c00"/>
<polygon points="407.80,111.60 411.37,109.71 411.37,113.49" fill="#ff8c00"/>
<polygon points="416.45,112.40 420.02,110.51 420.02,114.29" fill="#ff8c00"/>
<polygon points="425.10,116.30 428.67,114.41 428.67,118.19" fill="#ff8c00"/>
<polygon points="433.75,117.40 437.32,115.51 437.32,119.29" fill="#ff8c00"/>
<polygon points="442.40,118.30 445.97,116.41 445.97,120.19" fill="#ff8c00"/>
<path d="M271.50 18.60 L280.15 54.50 L288.80 66.00 L297.45 77.00 L306.10 84.00 L314.75 90.00 L323.40 94.00 L332.05 97.00 L340.70 100.00 L349.35 102.00 L358.00 103.80 L366.65 105.40 L375.30 107.70 L383.95 110.00 L392.60 111.60 L401.25 114.00 L409.90 115.50 L418.55 116.30 L427.20 117.40 L435.85 118.30 L444.50 118.60" fill="none" stroke="#bcbd22" stroke-opacity="0.6" stroke-width="1.15"/>
<polygon points="273.60,18.60 270.03,16.71 270.03,20.49" fill="#bcbd22"/>
<polygon points="282.25,54.50 278.68,52.61 278.68,56.39" fill="#bcbd22"/>
<polygon points="290.90,66.00 287.33,64.11 287.33,67.89" fill="#bcbd22"/>
<polygon points="299.55,77.00 295.98,75.11 295.98,78.89" fill="#bcbd22"/>
<polygon points="308.20,84.00 304.63,82.11 304.63,85.89" fill="#bcbd22"/>
<polygon points="316.85,90.00 313.28,88.11 313.28,91.89" fill="#bcbd22"/>
<polygon points="325.50,94.00 321.93,92.11 321.93,95.89" fill="#bcbd22"/>
<polygon points="334.15,97.00 330.58,95.11 330.58,98.89" fill="#bcbd22"/>
<polygon points="342.80,100.00 339.23,98.11 339.23,101.89" fill="#bcbd22"/>
<polygon points="351.45,102.00 347.88,100.11 347.88,103.89" fill="#bcbd22"/>
<polygon points="360.10,103.80 356.53,101.91 356.53,105.69" fill="#bcbd22"/>
<polygon points="368.75,105.40 365.18,103.51 365.18,107.29" fill="#bcbd22"/>
<polygon points="377.40,107.70 373.83,105.81 373.83,109.59" fill="#bcbd22"/>
<polygon points="386.05,110.00 382.48,108.11 382.48,111.89" fill="#bcbd22"/>
<polygon points="394.70,111.60 391.13,109.71 391.13,113.49" fill="#bcbd22"/>
<polygon points="403.35,114.00 399.78,112.11 399.78,115.89" fill="#bcbd22"/>
<polygon points="412.00,115.50 408.43,113.61 408.43,117.39" fill="#bcbd22"/>
<polygon points="420.65,116.30 417.08,114.41 417.08,118.19" fill="#bcbd22"/>
<polygon points="429.30,117.40 425.73,115.51 425.73,119.29" fill="#bcbd22"/>
<polygon points="437.95,118.30 434.38,116.41 434.38,120.19" fill="#bcbd22"/>
<polygon points="446.60,118.60 443.03,116.71 443.03,120.49" fill="#bcbd22"/>
<path d="M271.50 18.60 L280.15 53.00 L288.80 67.80 L297.45 80.00 L306.10 89.00 L314.75 96.50 L323.40 102.50 L332.05 105.50 L340.70 109.00 L349.35 111.00 L358.00 113.00 L366.65 114.50 L375.30 116.00 L383.95 117.00 L392.60 117.80 L401.25 118.50 L409.90 119.50 L418.55 120.50 L427.20 121.20 L435.85 121.80 L444.50 122.10" fill="none" stroke="#008000" stroke-opacity="0.75" stroke-width="1.15"/>
<polygon points="271.50,16.50 273.39,20.07 269.61,20.07" fill="#008000"/>
<polygon points="280.15,50.90 282.04,54.47 278.26,54.47" fill="#008000"/>
<polygon points="288.80,65.70 290.69,69.27 286.91,69.27" fill="#008000"/>
<polygon points="297.45,77.90 299.34,81.47 295.56,81.47" fill="#008000"/>
<polygon points="306.10,86.90 307.99,90.47 304.21,90.47" fill="#008000"/>
<polygon points="314.75,94.40 316.64,97.97 312.86,97.97" fill="#008000"/>
<polygon points="323.40,100.40 325.29,103.97 321.51,103.97" fill="#008000"/>
<polygon points="332.05,103.40 333.94,106.97 330.16,106.97" fill="#008000"/>
<polygon points="340.70,106.90 342.59,110.47 338.81,110.47" fill="#008000"/>
<polygon points="349.35,108.90 351.24,112.47 347.46,112.47" fill="#008000"/>
<polygon points="358.00,110.90 359.89,114.47 356.11,114.47" fill="#008000"/>
<polygon points="366.65,112.40 368.54,115.97 364.76,115.97" fill="#008000"/>
<polygon points="375.30,113.90 377.19,117.47 373.41,117.47" fill="#008000"/>
<polygon points="383.95,114.90 385.84,118.47 382.06,118.47" fill="#008000"/>
<polygon points="392.60,115.70 394.49,119.27 390.71,119.27" fill="#008000"/>
<polygon points="401.25,116.40 403.14,119.97 399.36,119.97" fill="#008000"/>
<polygon points="409.90,117.40 411.79,120.97 408.01,120.97" fill="#008000"/>
<polygon points="418.55,118.40 420.44,121.97 416.66,121.97" fill="#008000"/>
<polygon points="427.20,119.10 429.09,122.67 425.31,122.67" fill="#008000"/>
<polygon points="435.85,119.70 437.74,123.27 433.96,123.27" fill="#008000"/>
<polygon points="444.50,120.00 446.39,123.57 442.61,123.57" fill="#008000"/>
<path d="M271.50 18.60 L280.15 55.00 L288.80 70.00 L297.45 82.00 L306.10 94.40 L314.75 98.00 L323.40 101.00 L332.05 104.00 L340.70 106.00 L349.35 108.00 L358.00 109.50 L366.65 110.50 L375.30 111.50 L383.95 112.50 L392.60 113.20 L401.25 114.00 L409.90 114.70 L418.55 115.50 L427.20 116.80 L435.85 117.40 L444.50 118.30" fill="none" stroke="#a0522d" stroke-opacity="0.5" stroke-width="1.15"/>
<polygon points="272.98,19.21 272.11,20.08 270.89,20.08 270.02,19.21 270.02,17.99 270.89,17.12 272.11,17.12 272.98,17.99" fill="#a0522d"/>
<polygon points="281.63,55.61 280.76,56.48 279.54,56.48 278.67,55.61 278.67,54.39 279.54,53.52 280.76,53.52 281.63,54.39" fill="#a0522d"/>
<polygon points="290.28,70.61 289.41,71.48 288.19,71.48 287.32,70.61 287.32,69.39 288.19,68.52 289.41,68.52 290.28,69.39" fill="#a0522d"/>
<polygon points="298.93,82.61 298.06,83.48 296.84,83.48 295.97,82.61 295.97,81.39 296.84,80.52 298.06,80.52 298.93,81.39" fill="#a0522d"/>
<polygon points="307.58,95.01 306.71,95.88 305.49,95.88 304.62,95.01 304.62,93.79 305.49,92.92 306.71,92.92 307.58,93.79" fill="#a0522d"/>
<polygon points="316.23,98.61 315.36,99.48 314.14,99.48 313.27,98.61 313.27,97.39 314.14,96.52 315.36,96.52 316.23,97.39" fill="#a0522d"/>
<polygon points="324.88,101.61 324.01,102.48 322.79,102.48 321.92,101.61 321.92,100.39 322.79,99.52 324.01,99.52 324.88,100.39" fill="#a0522d"/>
<polygon points="333.53,104.61 332.66,105.48 331.44,105.48 330.57,104.61 330.57,103.39 331.44,102.52 332.66,102.52 333.53,103.39" fill="#a0522d"/>
<polygon points="342.18,106.61 341.31,107.48 340.09,107.48 339.22,106.61 339.22,105.39 340.09,104.52 341.31,104.52 342.18,105.39" fill="#a0522d"/>
<polygon points="350.83,108.61 349.96,109.48 348.74,109.48 347.87,108.61 347.87,107.39 348.74,106.52 349.96,106.52 350.83,107.39" fill="#a0522d"/>
<polygon points="359.48,110.11 358.61,110.98 357.39,110.98 356.52,110.11 356.52,108.89 357.39,108.02 358.61,108.02 359.48,108.89" fill="#a0522d"/>
<polygon points="368.13,111.11 367.26,111.98 366.04,111.98 365.17,111.11 365.17,109.89 366.04,109.02 367.26,109.02 368.13,109.89" fill="#a0522d"/>
<polygon points="376.78,112.11 375.91,112.98 374.69,112.98 373.82,112.11 373.82,110.89 374.69,110.02 375.91,110.02 376.78,110.89" fill="#a0522d"/>
<polygon points="385.43,113.11 384.56,113.98 383.34,113.98 382.47,113.11 382.47,111.89 383.34,111.02 384.56,111.02 385.43,111.89" fill="#a0522d"/>
<polygon points="394.08,113.81 393.21,114.68 391.99,114.68 391.12,113.81 391.12,112.59 391.99,111.72 393.21,111.72 394.08,112.59" fill="#a0522d"/>
<polygon points="402.73,114.61 401.86,115.48 400.64,115.48 399.77,114.61 399.77,113.39 400.64,112.52 401.86,112.52 402.73,113.39" fill="#a0522d"/>
<polygon points="411.38,115.31 410.51,116.18 409.29,116.18 408.42,115.31 408.42,114.09 409.29,113.22 410.51,113.22 411.38,114.09" fill="#a0522d"/>
<polygon points="420.03,116.11 419.16,116.98 417.94,116.98 417.07,116.11 417.07,114.89 417.94,114.02 419.16,114.02 420.03,114.89" fill="#a0522d"/>
<polygon points="428.68,117.41 427.81,118.28 426.59,118.28 425.72,117.41 425.72,116.19 426.59,115.32 427.81,115.32 428.68,116.19" fill="#a0522d"/>
<polygon points="437.33,118.01 436.46,118.88 435.24,118.88 434.37,118.01 434.37,116.79 435.24,115.92 436.46,115.92 437.33,116.79" fill="#a0522d"/>
<polygon points="445.98,118.91 445.11,119.78 443.89,119.78 443.02,118.91 443.02,117.69 443.89,116.82 445.11,116.82 445.98,117.69" fill="#a0522d"/>
<path d="M271.50 18.60 L280.15 52.00 L288.80 70.00 L297.45 80.00 L306.10 87.00 L314.75 93.00 L323.40 98.00 L332.05 101.00 L340.70 103.00 L349.35 105.00 L358.00 107.00 L366.65 108.50 L375.30 110.00 L383.95 111.00 L392.60 112.00 L401.25 113.00 L409.90 114.00 L418.55 115.00 L427.20 116.00 L435.85 117.00 L444.50 118.00" fill="none" stroke="#ee82ee" stroke-opacity="0.9" stroke-width="1.15"/>
<polygon points="270.78,16.60 272.22,16.60 272.22,17.88 273.50,17.88 273.50,19.32 272.22,19.32 272.22,20.60 270.78,20.60 270.78,19.32 269.50,19.32 269.50,17.88 270.78,17.88" fill="#ee82ee"/>
<polygon points="279.43,50.00 280.87,50.00 280.87,51.28 282.15,51.28 282.15,52.72 280.87,52.72 280.87,54.00 279.43,54.00 279.43,52.72 278.15,52.72 278.15,51.28 279.43,51.28" fill="#ee82ee"/>
<polygon points="288.08,68.00 289.52,68.00 289.52,69.28 290.80,69.28 290.80,70.72 289.52,70.72 289.52,72.00 288.08,72.00 288.08,70.72 286.80,70.72 286.80,69.28 288.08,69.28" fill="#ee82ee"/>
<polygon points="296.73,78.00 298.17,78.00 298.17,79.28 299.45,79.28 299.45,80.72 298.17,80.72 298.17,82.00 296.73,82.00 296.73,80.72 295.45,80.72 295.45,79.28 296.73,79.28" fill="#ee82ee"/>
<polygon points="305.38,85.00 306.82,85.00 306.82,86.28 308.10,86.28 308.10,87.72 306.82,87.72 306.82,89.00 305.38,89.00 305.38,87.72 304.10,87.72 304.10,86.28 305.38,86.28" fill="#ee82ee"/>
<polygon points="314.03,91.00 315.47,91.00 315.47,92.28 316.75,92.28 316.75,93.72 315.47,93.72 315.47,95.00 314.03,95.00 314.03,93.72 312.75,93.72 312.75,92.28 314.03,92.28" fill="#ee82ee"/>
<polygon points="322.68,96.00 324.12,96.00 324.12,97.28 325.40,97.28 325.40,98.72 324.12,98.72 324.12,100.00 322.68,100.00 322.68,98.72 321.40,98.72 321.40,97.28 322.68,97.28" fill="#ee82ee"/>
<polygon points="331.33,99.00 332.77,99.00 332.77,100.28 334.05,100.28 334.05,101.72 332.77,101.72 332.77,103.00 331.33,103.00 331.33,101.72 330.05,101.72 330.05,100.28 331.33,100.28" fill="#ee82ee"/>
<polygon points="339.98,101.00 341.42,101.00 341.42,102.28 342.70,102.28 342.70,103.72 341.42,103.72 341.42,105.00 339.98,105.00 339.98,103.72 338.70,103.72 338.70,102.28 339.98,102.28" fill="#ee82ee"/>
<polygon points="348.63,103.00 350.07,103.00 350.07,104.28 351.35,104.28 351.35,105.72 350.07,105.72 350.07,107.00 348.63,107.00 348.63,105.72 347.35,105.72 347.35,104.28 348.63,104.28" fill="#ee82ee"/>
<polygon points="357.28,105.00 358.72,105.00 358.72,106.28 360.00,106.28 360.00,107.72 358.72,107.72 358.72,109.00 357.28,109.00 357.28,107.72 356.00,107.72 356.00,106.28 357.28,106.28" fill="#ee82ee"/>
<polygon points="365.93,106.50 367.37,106.50 367.37,107.78 368.65,107.78 368.65,109.22 367.37,109.22 367.37,110.50 365.93,110.50 365.93,109.22 364.65,109.22 364.65,107.78 365.93,107.78" fill="#ee82ee"/>
<polygon points="374.58,108.00 376.02,108.00 376.02,109.28 377.30,109.28 377.30,110.72 376.02,110.72 376.02,112.00 374.58,112.00 374.58,110.72 373.30,110.72 373.30,109.28 374.58,109.28" fill="#ee82ee"/>
<polygon points="383.23,109.00 384.67,109.00 384.67,110.28 385.95,110.28 385.95,111.72 384.67,111.72 384.67,113.00 383.23,113.00 383.23,111.72 381.95,111.72 381.95,110.28 383.23,110.28" fill="#ee82ee"/>
<polygon points="391.88,110.00 393.32,110.00 393.32,111.28 394.60,111.28 394.60,112.72 393.32,112.72 393.32,114.00 391.88,114.00 391.88,112.72 390.60,112.72 390.60,111.28 391.88,111.28" fill="#ee82ee"/>
<polygon points="400.53,111.00 401.97,111.00 401.97,112.28 403.25,112.28 403.25,113.72 401.97,113.72 401.97,115.00 400.53,115.00 400.53,113.72 399.25,113.72 399.25,112.28 400.53,112.28" fill="#ee82ee"/>
<polygon points="409.18,112.00 410.62,112.00 410.62,113.28 411.90,113.28 411.90,114.72 410.62,114.72 410.62,116.00 409.18,116.00 409.18,114.72 407.90,114.72 407.90,113.28 409.18,113.28" fill="#ee82ee"/>
<polygon points="417.83,113.00 419.27,113.00 419.27,114.28 420.55,114.28 420.55,115.72 419.27,115.72 419.27,117.00 417.83,117.00 417.83,115.72 416.55,115.72 416.55,114.28 417.83,114.28" fill="#ee82ee"/>
<polygon points="426.48,114.00 427.92,114.00 427.92,115.28 429.20,115.28 429.20,116.72 427.92,116.72 427.92,118.00 426.48,118.00 426.48,116.72 425.20,116.72 425.20,115.28 426.48,115.28" fill="#ee82ee"/>
<polygon points="435.13,115.00 436.57,115.00 436.57,116.28 437.85,116.28 437.85,117.72 436.57,117.72 436.57,119.00 435.13,119.00 435.13,117.72 433.85,117.72 433.85,116.28 435.13,116.28" fill="#ee82ee"/>
<polygon points="443.78,116.00 445.22,116.00 445.22,117.28 446.50,117.28 446.50,118.72 445.22,118.72 445.22,120.00 443.78,120.00 443.78,118.72 442.50,118.72 442.50,117.28 443.78,117.28" fill="#ee82ee"/>
<path d="M271.50 18.60 L280.15 53.00 L288.80 68.00 L297.45 79.00 L306.10 86.00 L314.75 91.00 L323.40 94.00 L332.05 97.00 L340.70 99.00 L349.35 101.00 L358.00 102.70 L366.65 104.30 L375.30 104.90 L383.95 105.50 L392.60 106.50 L401.25 108.00 L409.90 110.00 L418.55 112.00 L427.20 114.00 L435.85 116.00 L444.50 118.60" fill="none" stroke="#707070" stroke-opacity="0.8" stroke-width="1.15"/>
<path d="M270.07 17.18L272.93 20.03M270.07 20.03L272.93 17.18" stroke="#555555" stroke-width="1.1"/>
<path d="M278.72 51.58L281.57 54.42M278.72 54.42L281.57 51.58" stroke="#555555" stroke-width="1.1"/>
<path d="M287.38 66.58L290.23 69.42M287.38 69.42L290.23 66.58" stroke="#555555" stroke-width="1.1"/>
<path d="M296.02 77.58L298.88 80.42M296.02 80.42L298.88 77.58" stroke="#555555" stroke-width="1.1"/>
<path d="M304.68 84.58L307.53 87.42M304.68 87.42L307.53 84.58" stroke="#555555" stroke-width="1.1"/>
<path d="M313.32 89.58L316.18 92.42M313.32 92.42L316.18 89.58" stroke="#555555" stroke-width="1.1"/>
<path d="M321.97 92.58L324.82 95.42M321.97 95.42L324.82 92.58" stroke="#555555" stroke-width="1.1"/>
<path d="M330.62 95.58L333.48 98.42M330.62 98.42L333.48 95.58" stroke="#555555" stroke-width="1.1"/>
<path d="M339.27 97.58L342.12 100.42M339.27 100.42L342.12 97.58" stroke="#555555" stroke-width="1.1"/>
<path d="M347.93 99.58L350.78 102.42M347.93 102.42L350.78 99.58" stroke="#555555" stroke-width="1.1"/>
<path d="M356.57 101.28L359.43 104.12M356.57 104.12L359.43 101.28" stroke="#555555" stroke-width="1.1"/>
<path d="M365.22 102.88L368.07 105.72M365.22 105.72L368.07 102.88" stroke="#555555" stroke-width="1.1"/>
<path d="M373.88 103.48L376.73 106.33M373.88 106.33L376.73 103.48" stroke="#555555" stroke-width="1.1"/>
<path d="M382.52 104.08L385.38 106.92M382.52 106.92L385.38 104.08" stroke="#555555" stroke-width="1.1"/>
<path d="M391.18 105.08L394.03 107.92M391.18 107.92L394.03 105.08" stroke="#555555" stroke-width="1.1"/>
<path d="M399.82 106.58L402.68 109.42M399.82 109.42L402.68 106.58" stroke="#555555" stroke-width="1.1"/>
<path d="M408.47 108.58L411.32 111.42M408.47 111.42L411.32 108.58" stroke="#555555" stroke-width="1.1"/>
<path d="M417.12 110.58L419.98 113.42M417.12 113.42L419.98 110.58" stroke="#555555" stroke-width="1.1"/>
<path d="M425.77 112.58L428.62 115.42M425.77 115.42L428.62 112.58" stroke="#555555" stroke-width="1.1"/>
<path d="M434.43 114.58L437.28 117.42M434.43 117.42L437.28 114.58" stroke="#555555" stroke-width="1.1"/>
<path d="M443.07 117.17L445.93 120.02M443.07 120.02L445.93 117.17" stroke="#555555" stroke-width="1.1"/>
<path d="M271.50 18.60 L280.15 50.00 L288.80 61.50 L297.45 72.00 L306.10 79.70 L314.75 85.00 L323.40 88.50 L332.05 90.80 L340.70 93.00 L349.35 95.30 L358.00 97.60 L366.65 99.60 L375.30 101.20 L383.95 103.80 L392.60 105.40 L401.25 106.50 L409.90 107.40 L418.55 108.50 L427.20 109.00 L435.85 110.00 L444.50 110.80" fill="none" stroke="#c000c0" stroke-opacity="0.8" stroke-width="1.15"/>
<polygon points="271.50,16.50 272.76,18.60 271.50,20.70 270.24,18.60" fill="#c000c0"/>
<polygon points="280.15,47.90 281.41,50.00 280.15,52.10 278.89,50.00" fill="#c000c0"/>
<polygon points="288.80,59.40 290.06,61.50 288.80,63.60 287.54,61.50" fill="#c000c0"/>
<polygon points="297.45,69.90 298.71,72.00 297.45,74.10 296.19,72.00" fill="#c000c0"/>
<polygon points="306.10,77.60 307.36,79.70 306.10,81.80 304.84,79.70" fill="#c000c0"/>
<polygon points="314.75,82.90 316.01,85.00 314.75,87.10 313.49,85.00" fill="#c000c0"/>
<polygon points="323.40,86.40 324.66,88.50 323.40,90.60 322.14,88.50" fill="#c000c0"/>
<polygon points="332.05,88.70 333.31,90.80 332.05,92.90 330.79,90.80" fill="#c000c0"/>
<polygon points="340.70,90.90 341.96,93.00 340.70,95.10 339.44,93.00" fill="#c000c0"/>
<polygon points="349.35,93.20 350.61,95.30 349.35,97.40 348.09,95.30" fill="#c000c0"/>
<polygon points="358.00,95.50 359.26,97.60 358.00,99.70 356.74,97.60" fill="#c000c0"/>
<polygon points="366.65,97.50 367.91,99.60 366.65,101.70 365.39,99.60" fill="#c000c0"/>
<polygon points="375.30,99.10 376.56,101.20 375.30,103.30 374.04,101.20" fill="#c000c0"/>
<polygon points="383.95,101.70 385.21,103.80 383.95,105.90 382.69,103.80" fill="#c000c0"/>
<polygon points="392.60,103.30 393.86,105.40 392.60,107.50 391.34,105.40" fill="#c000c0"/>
<polygon points="401.25,104.40 402.51,106.50 401.25,108.60 399.99,106.50" fill="#c000c0"/>
<polygon points="409.90,105.30 411.16,107.40 409.90,109.50 408.64,107.40" fill="#c000c0"/>
<polygon points="418.55,106.40 419.81,108.50 418.55,110.60 417.29,108.50" fill="#c000c0"/>
<polygon points="427.20,106.90 428.46,109.00 427.20,111.10 425.94,109.00" fill="#c000c0"/>
<polygon points="435.85,107.90 437.11,110.00 435.85,112.10 434.59,110.00" fill="#c000c0"/>
<polygon points="444.50,108.70 445.76,110.80 444.50,112.90 443.24,110.80" fill="#c000c0"/>
<path d="M271.50 18.60 L280.15 59.40 L288.80 75.50 L297.45 80.00 L306.10 83.90 L314.75 90.00 L323.40 95.30 L332.05 101.00 L340.70 103.20 L349.35 105.50 L358.00 108.50 L366.65 109.30 L375.30 112.40 L383.95 114.00 L392.60 114.70 L401.25 116.30 L409.90 117.40 L418.55 118.30 L427.20 119.00 L435.85 119.40 L444.50 118.60" fill="none" stroke="#4169e1" stroke-opacity="0.6" stroke-width="1.15"/>
<rect x="269.85" y="16.95" width="3.30" height="3.30" fill="#4169e1"/>
<rect x="278.50" y="57.75" width="3.30" height="3.30" fill="#4169e1"/>
<rect x="287.15" y="73.85" width="3.30" height="3.30" fill="#4169e1"/>
<rect x="295.80" y="78.35" width="3.30" height="3.30" fill="#4169e1"/>
<rect x="304.45" y="82.25" width="3.30" height="3.30" fill="#4169e1"/>
<rect x="313.10" y="88.35" width="3.30" height="3.30" fill="#4169e1"/>
<rect x="321.75" y="93.65" width="3.30" height="3.30" fill="#4169e1"/>
<rect x="330.40" y="99.35" width="3.30" height="3.30" fill="#4169e1"/>
<rect x="339.05" y="101.55" width="3.30" height="3.30" fill="#4169e1"/>
<rect x="347.70" y="103.85" width="3.30" height="3.30" fill="#4169e1"/>
<rect x="356.35" y="106.85" width="3.30" height="3.30" fill="#4169e1"/>
<rect x="365.00" y="107.65" width="3.30" height="3.30" fill="#4169e1"/>
<rect x="373.65" y="110.75" width="3.30" height="3.30" fill="#4169e1"/>
<rect x="382.30" y="112.35" width="3.30" height="3.30" fill="#4169e1"/>
<rect x="390.95" y="113.05" width="3.30" height="3.30" fill="#4169e1"/>
<rect x="399.60" y="114.65" width="3.30" height="3.30" fill="#4169e1"/>
<rect x="408.25" y="115.75" width="3.30" height="3.30" fill="#4169e1"/>
<rect x="416.90" y="116.65" width="3.30" height="3.30" fill="#4169e1"/>
<rect x="425.55" y="117.35" width="3.30" height="3.30" fill="#4169e1"/>
<rect x="434.20" y="117.75" width="3.30" height="3.30" fill="#4169e1"/>
<rect x="442.85" y="116.95" width="3.30" height="3.30" fill="#4169e1"/>
<path d="M271.50 18.60 L280.15 44.70 L288.80 57.30 L297.45 66.40 L306.10 71.30 L314.75 73.40 L323.40 78.30 L332.05 82.40 L340.70 82.40 L349.35 85.10 L358.00 87.00 L366.65 88.20 L375.30 89.80 L383.95 92.10 L392.60 93.40 L401.25 99.10 L409.90 103.00 L418.55 103.50 L427.20 104.60 L435.85 105.40 L444.50 106.90" fill="none" stroke="#4b0082" stroke-opacity="0.75" stroke-width="1.15"/>
<circle cx="271.50" cy="18.60" r="1.70" fill="#4b0082"/>
<circle cx="280.15" cy="44.70" r="1.70" fill="#4b0082"/>
<circle cx="288.80" cy="57.30" r="1.70" fill="#4b0082"/>
<circle cx="297.45" cy="66.40" r="1.70" fill="#4b0082"/>
<circle cx="306.10" cy="71.30" r="1.70" fill="#4b0082"/>
<circle cx="314.75" cy="73.40" r="1.70" fill="#4b0082"/>
<circle cx="323.40" cy="78.30" r="1.70" fill="#4b0082"/>
<circle cx="332.05" cy="82.40" r="1.70" fill="#4b0082"/>
<circle cx="340.70" cy="82.40" r="1.70" fill="#4b0082"/>
<circle cx="349.35" cy="85.10" r="1.70" fill="#4b0082"/>
<circle cx="358.00" cy="87.00" r="1.70" fill="#4b0082"/>
<circle cx="366.65" cy="88.20" r="1.70" fill="#4b0082"/>
<circle cx="375.30" cy="89.80" r="1.70" fill="#4b0082"/>
<circle cx="383.95" cy="92.10" r="1.70" fill="#4b0082"/>
<circle cx="392.60" cy="93.40" r="1.70" fill="#4b0082"/>
<circle cx="401.25" cy="99.10" r="1.70" fill="#4b0082"/>
<circle cx="409.90" cy="103.00" r="1.70" fill="#4b0082"/>
<circle cx="418.55" cy="103.50" r="1.70" fill="#4b0082"/>
<circle cx="427.20" cy="104.60" r="1.70" fill="#4b0082"/>
<circle cx="435.85" cy="105.40" r="1.70" fill="#4b0082"/>
<circle cx="444.50" cy="106.90" r="1.70" fill="#4b0082"/>
<path d="M271.50 18.60 L280.15 54.50 L288.80 74.00 L297.45 86.70 L306.10 91.60 L314.75 98.60 L323.40 104.40 L332.05 106.00 L340.70 108.90 L349.35 111.20 L358.00 113.20 L366.65 114.00 L375.30 115.50 L383.95 117.40 L392.60 118.60 L401.25 120.20 L409.90 121.40 L418.55 122.10 L427.20 123.30 L435.85 124.30 L444.50 124.60" fill="none" stroke="#00c0c0" stroke-opacity="0.5" stroke-width="1.15"/>
<polygon points="271.50,20.70 273.39,17.13 269.61,17.13" fill="#20c0c0"/>
<polygon points="280.15,56.60 282.04,53.03 278.26,53.03" fill="#20c0c0"/>
<polygon points="288.80,76.10 290.69,72.53 286.91,72.53" fill="#20c0c0"/>
<polygon points="297.45,88.80 299.34,85.23 295.56,85.23" fill="#20c0c0"/>
<polygon points="306.10,93.70 307.99,90.13 304.21,90.13" fill="#20c0c0"/>
<polygon points="314.75,100.70 316.64,97.13 312.86,97.13" fill="#20c0c0"/>
<polygon points="323.40,106.50 325.29,102.93 321.51,102.93" fill="#20c0c0"/>
<polygon points="332.05,108.10 333.94,104.53 330.16,104.53" fill="#20c0c0"/>
<polygon points="340.70,111.00 342.59,107.43 338.81,107.43" fill="#20c0c0"/>
<polygon points="349.35,113.30 351.24,109.73 347.46,109.73" fill="#20c0c0"/>
<polygon points="358.00,115.30 359.89,111.73 356.11,111.73" fill="#20c0c0"/>
<polygon points="366.65,116.10 368.54,112.53 364.76,112.53" fill="#20c0c0"/>
<polygon points="375.30,117.60 377.19,114.03 373.41,114.03" fill="#20c0c0"/>
<polygon points="383.95,119.50 385.84,115.93 382.06,115.93" fill="#20c0c0"/>
<polygon points="392.60,120.70 394.49,117.13 390.71,117.13" fill="#20c0c0"/>
<polygon points="401.25,122.30 403.14,118.73 399.36,118.73" fill="#20c0c0"/>
<polygon points="409.90,123.50 411.79,119.93 408.01,119.93" fill="#20c0c0"/>
<polygon points="418.55,124.20 420.44,120.63 416.66,120.63" fill="#20c0c0"/>
<polygon points="427.20,125.40 429.09,121.83 425.31,121.83" fill="#20c0c0"/>
<polygon points="435.85,126.40 437.74,122.83 433.96,122.83" fill="#20c0c0"/>
<polygon points="444.50,126.70 446.39,123.13 442.61,123.13" fill="#20c0c0"/>
<path d="M271.50 18.60 L280.15 51.30 L288.80 71.30 L297.45 82.50 L306.10 88.10 L314.75 95.80 L323.40 102.10 L332.05 104.40 L340.70 107.80 L349.35 108.20 L358.00 111.20 L366.65 112.10 L375.30 112.70 L383.95 113.70 L392.60 115.20 L401.25 117.10 L409.90 118.60 L418.55 119.40 L427.20 120.50 L435.85 121.40 L444.50 122.10" fill="none" stroke="#ff0000" stroke-opacity="0.8" stroke-width="1.15"/>
<circle cx="271.50" cy="18.60" r="1.80" fill="#ff0000"/>
<circle cx="280.15" cy="51.30" r="1.80" fill="#ff0000"/>
<circle cx="288.80" cy="71.30" r="1.80" fill="#ff0000"/>
<circle cx="297.45" cy="82.50" r="1.80" fill="#ff0000"/>
<circle cx="306.10" cy="88.10" r="1.80" fill="#ff0000"/>
<circle cx="314.75" cy="95.80" r="1.80" fill="#ff0000"/>
<circle cx="323.40" cy="102.10" r="1.80" fill="#ff0000"/>
<circle cx="332.05" cy="104.40" r="1.80" fill="#ff0000"/>
<circle cx="340.70" cy="107.80" r="1.80" fill="#ff0000"/>
<circle cx="349.35" cy="108.20" r="1.80" fill="#ff0000"/>
<circle cx="358.00" cy="111.20" r="1.80" fill="#ff0000"/>
<circle cx="366.65" cy="112.10" r="1.80" fill="#ff0000"/>
<circle cx="375.30" cy="112.70" r="1.80" fill="#ff0000"/>
<circle cx="383.95" cy="113.70" r="1.80" fill="#ff0000"/>
<circle cx="392.60" cy="115.20" r="1.80" fill="#ff0000"/>
<circle cx="401.25" cy="117.10" r="1.80" fill="#ff0000"/>
<circle cx="409.90" cy="118.60" r="1.80" fill="#ff0000"/>
<circle cx="418.55" cy="119.40" r="1.80" fill="#ff0000"/>
<circle cx="427.20" cy="120.50" r="1.80" fill="#ff0000"/>
<circle cx="435.85" cy="121.40" r="1.80" fill="#ff0000"/>
<circle cx="444.50" cy="122.10" r="1.80" fill="#ff0000"/>
</g>
<rect x="262.8" y="16.5" width="190.80" height="110.80" fill="none" stroke="#333" stroke-width="1"/>
<line x1="271.50" y1="127.3" x2="271.50" y2="130.10" stroke="#333" stroke-width="0.9"/>
<text class="s" x="271.50" y="136.90" text-anchor="middle">0</text>
<line x1="300.33" y1="127.3" x2="300.33" y2="130.10" stroke="#333" stroke-width="0.9"/>
<text class="s" x="300.33" y="136.90" text-anchor="middle">10</text>
<line x1="329.17" y1="127.3" x2="329.17" y2="130.10" stroke="#333" stroke-width="0.9"/>
<text class="s" x="329.17" y="136.90" text-anchor="middle">20</text>
<line x1="358.00" y1="127.3" x2="358.00" y2="130.10" stroke="#333" stroke-width="0.9"/>
<text class="s" x="358.00" y="136.90" text-anchor="middle">30</text>
<line x1="386.83" y1="127.3" x2="386.83" y2="130.10" stroke="#333" stroke-width="0.9"/>
<text class="s" x="386.83" y="136.90" text-anchor="middle">40</text>
<line x1="415.67" y1="127.3" x2="415.67" y2="130.10" stroke="#333" stroke-width="0.9"/>
<text class="s" x="415.67" y="136.90" text-anchor="middle">50</text>
<line x1="444.50" y1="127.3" x2="444.50" y2="130.10" stroke="#333" stroke-width="0.9"/>
<text class="s" x="444.50" y="136.90" text-anchor="middle">60</text>
<line x1="260.00" y1="123.20" x2="262.8" y2="123.20" stroke="#333" stroke-width="0.9"/>
<text class="s" x="258.20" y="125.75" text-anchor="end">0.1</text>
<line x1="260.00" y1="102.55" x2="262.8" y2="102.55" stroke="#333" stroke-width="0.9"/>
<text class="s" x="258.20" y="105.10" text-anchor="end">0.2</text>
<line x1="260.00" y1="81.90" x2="262.8" y2="81.90" stroke="#333" stroke-width="0.9"/>
<text class="s" x="258.20" y="84.45" text-anchor="end">0.3</text>
<line x1="260.00" y1="61.25" x2="262.8" y2="61.25" stroke="#333" stroke-width="0.9"/>
<text class="s" x="258.20" y="63.80" text-anchor="end">0.4</text>
<line x1="260.00" y1="40.60" x2="262.8" y2="40.60" stroke="#333" stroke-width="0.9"/>
<text class="s" x="258.20" y="43.15" text-anchor="end">0.5</text>
<line x1="260.00" y1="19.95" x2="262.8" y2="19.95" stroke="#333" stroke-width="0.9"/>
<text class="s" x="258.20" y="22.50" text-anchor="end">0.6</text>
<text class="t" x="358.20" y="12.90" text-anchor="middle">Balance-scale</text>
<text class="t xl" x="358.20" y="147.60" text-anchor="middle">Number of queries</text>
<text class="t" x="0" y="0" text-anchor="middle" transform="translate(243.85,71.90) rotate(-90)">MZE</text>
</g>
<g>
<line x1="499.50" y1="16.5" x2="499.50" y2="127.3" stroke="#b0b0b0" stroke-width="0.8"/>
<line x1="528.33" y1="16.5" x2="528.33" y2="127.3" stroke="#b0b0b0" stroke-width="0.8"/>
<line x1="557.17" y1="16.5" x2="557.17" y2="127.3" stroke="#b0b0b0" stroke-width="0.8"/>
<line x1="586.00" y1="16.5" x2="586.00" y2="127.3" stroke="#b0b0b0" stroke-width="0.8"/>
<line x1="614.83" y1="16.5" x2="614.83" y2="127.3" stroke="#b0b0b0" stroke-width="0.8"/>
<line x1="643.67" y1="16.5" x2="643.67" y2="127.3" stroke="#b0b0b0" stroke-width="0.8"/>
<line x1="672.50" y1="16.5" x2="672.50" y2="127.3" stroke="#b0b0b0" stroke-width="0.8"/>
<line x1="490.5" y1="118.50" x2="681.0" y2="118.50" stroke="#b0b0b0" stroke-width="0.8"/>
<line x1="490.5" y1="99.62" x2="681.0" y2="99.62" stroke="#b0b0b0" stroke-width="0.8"/>
<line x1="490.5" y1="80.74" x2="681.0" y2="80.74" stroke="#b0b0b0" stroke-width="0.8"/>
<line x1="490.5" y1="61.86" x2="681.0" y2="61.86" stroke="#b0b0b0" stroke-width="0.8"/>
<line x1="490.5" y1="42.98" x2="681.0" y2="42.98" stroke="#b0b0b0" stroke-width="0.8"/>
<line x1="490.5" y1="24.10" x2="681.0" y2="24.10" stroke="#b0b0b0" stroke-width="0.8"/>
<defs><clipPath id="c2"><rect x="490.5" y="16.5" width="190.5" height="110.8"/></clipPath></defs>
<g clip-path="url(#c2)">
<path d="M499.50 18.40 L508.15 87.40 L516.80 102.10 L525.45 105.50 L534.10 106.00 L542.75 108.00 L551.40 110.00 L560.05 112.00 L568.70 114.00 L577.35 115.50 L586.00 116.50 L594.65 117.00 L603.30 117.50 L611.95 118.00 L620.60 118.30 L629.25 118.60 L637.90 118.80 L646.55 119.00 L655.20 119.20 L663.85 119.50 L672.50 119.80" fill="none" stroke="#0000ff" stroke-opacity="0.7" stroke-width="1.15"/>
<circle cx="499.50" cy="18.40" r="1.10" fill="#0000ff"/>
<circle cx="508.15" cy="87.40" r="1.10" fill="#0000ff"/>
<circle cx="516.80" cy="102.10" r="1.10" fill="#0000ff"/>
<circle cx="525.45" cy="105.50" r="1.10" fill="#0000ff"/>
<circle cx="534.10" cy="106.00" r="1.10" fill="#0000ff"/>
<circle cx="542.75" cy="108.00" r="1.10" fill="#0000ff"/>
<circle cx="551.40" cy="110.00" r="1.10" fill="#0000ff"/>
<circle cx="560.05" cy="112.00" r="1.10" fill="#0000ff"/>
<circle cx="568.70" cy="114.00" r="1.10" fill="#0000ff"/>
<circle cx="577.35" cy="115.50" r="1.10" fill="#0000ff"/>
<circle cx="586.00" cy="116.50" r="1.10" fill="#0000ff"/>
<circle cx="594.65" cy="117.00" r="1.10" fill="#0000ff"/>
<circle cx="603.30" cy="117.50" r="1.10" fill="#0000ff"/>
<circle cx="611.95" cy="118.00" r="1.10" fill="#0000ff"/>
<circle cx="620.60" cy="118.30" r="1.10" fill="#0000ff"/>
<circle cx="629.25" cy="118.60" r="1.10" fill="#0000ff"/>
<circle cx="637.90" cy="118.80" r="1.10" fill="#0000ff"/>
<circle cx="646.55" cy="119.00" r="1.10" fill="#0000ff"/>
<circle cx="655.20" cy="119.20" r="1.10" fill="#0000ff"/>
<circle cx="663.85" cy="119.50" r="1.10" fill="#0000ff"/>
<circle cx="672.50" cy="119.80" r="1.10" fill="#0000ff"/>
<path d="M499.50 18.40 L508.15 48.50 L516.80 62.50 L525.45 76.50 L534.10 77.20 L542.75 81.10 L551.40 84.00 L560.05 88.50 L568.70 85.60 L577.35 94.20 L586.00 97.70 L594.65 98.20 L603.30 99.40 L611.95 102.60 L620.60 105.30 L629.25 106.40 L637.90 106.70 L646.55 107.90 L655.20 110.40 L663.85 111.80 L672.50 115.20" fill="none" stroke="#ff8c00" stroke-opacity="0.8" stroke-width="1.15"/>
<polygon points="497.40,18.40 500.97,16.51 500.97,20.29" fill="#ff8c00"/>
<polygon points="506.05,48.50 509.62,46.61 509.62,50.39" fill="#ff8c00"/>
<polygon points="514.70,62.50 518.27,60.61 518.27,64.39" fill="#ff8c00"/>
<polygon points="523.35,76.50 526.92,74.61 526.92,78.39" fill="#ff8c00"/>
<polygon points="532.00,77.20 535.57,75.31 535.57,79.09" fill="#ff8c00"/>
<polygon points="540.65,81.10 544.22,79.21 544.22,82.99" fill="#ff8c00"/>
<polygon points="549.30,84.00 552.87,82.11 552.87,85.89" fill="#ff8c00"/>
<polygon points="557.95,88.50 561.52,86.61 561.52,90.39" fill="#ff8c00"/>
<polygon points="566.60,85.60 570.17,83.71 570.17,87.49" fill="#ff8c00"/>
<polygon points="575.25,94.20 578.82,92.31 578.82,96.09" fill="#ff8c00"/>
<polygon points="583.90,97.70 587.47,95.81 587.47,99.59" fill="#ff8c00"/>
<polygon points="592.55,98.20 596.12,96.31 596.12,100.09" fill="#ff8c00"/>
<polygon points="601.20,99.40 604.77,97.51 604.77,101.29" fill="#ff8c00"/>
<polygon points="609.85,102.60 613.42,100.71 613.42,104.49" fill="#ff8c00"/>
<polygon points="618.50,105.30 622.07,103.41 622.07,107.19" fill="#ff8c00"/>
<polygon points="627.15,106.40 630.72,104.51 630.72,108.29" fill="#ff8c00"/>
<polygon points="635.80,106.70 639.37,104.81 639.37,108.59" fill="#ff8c00"/>
<polygon points="644.45,107.90 648.02,106.01 648.02,109.79" fill="#ff8c00"/>
<polygon points="653.10,110.40 656.67,108.51 656.67,112.29" fill="#ff8c00"/>
<polygon points="661.75,111.80 665.32,109.91 665.32,113.69" fill="#ff8c00"/>
<polygon points="670.40,115.20 673.97,113.31 673.97,117.09" fill="#ff8c00"/>
<path d="M499.50 18.40 L508.15 55.00 L516.80 74.30 L525.45 83.30 L534.10 95.30 L542.75 96.00 L551.40 100.50 L560.05 105.50 L568.70 110.00 L577.35 112.70 L586.00 113.40 L594.65 114.50 L603.30 115.50 L611.95 116.00 L620.60 116.50 L629.25 117.00 L637.90 117.50 L646.55 117.80 L655.20 118.00 L663.85 118.30 L672.50 118.50" fill="none" stroke="#bcbd22" stroke-opacity="0.6" stroke-width="1.15"/>
<polygon points="501.60,18.40 498.03,16.51 498.03,20.29" fill="#bcbd22"/>
<polygon points="510.25,55.00 506.68,53.11 506.68,56.89" fill="#bcbd22"/>
<polygon points="518.90,74.30 515.33,72.41 515.33,76.19" fill="#bcbd22"/>
<polygon points="527.55,83.30 523.98,81.41 523.98,85.19" fill="#bcbd22"/>
<polygon points="536.20,95.30 532.63,93.41 532.63,97.19" fill="#bcbd22"/>
<polygon points="544.85,96.00 541.28,94.11 541.28,97.89" fill="#bcbd22"/>
<polygon points="553.50,100.50 549.93,98.61 549.93,102.39" fill="#bcbd22"/>
<polygon points="562.15,105.50 558.58,103.61 558.58,107.39" fill="#bcbd22"/>
<polygon points="570.80,110.00 567.23,108.11 567.23,111.89" fill="#bcbd22"/>
<polygon points="579.45,112.70 575.88,110.81 575.88,114.59" fill="#bcbd22"/>
<polygon points="588.10,113.40 584.53,111.51 584.53,115.29" fill="#bcbd22"/>
<polygon points="596.75,114.50 593.18,112.61 593.18,116.39" fill="#bcbd22"/>
<polygon points="605.40,115.50 601.83,113.61 601.83,117.39" fill="#bcbd22"/>
<polygon points="614.05,116.00 610.48,114.11 610.48,117.89" fill="#bcbd22"/>
<polygon points="622.70,116.50 619.13,114.61 619.13,118.39" fill="#bcbd22"/>
<polygon points="631.35,117.00 627.78,115.11 627.78,118.89" fill="#bcbd22"/>
<polygon points="640.00,117.50 636.43,115.61 636.43,119.39" fill="#bcbd22"/>
<polygon points="648.65,117.80 645.08,115.91 645.08,119.69" fill="#bcbd22"/>
<polygon points="657.30,118.00 653.73,116.11 653.73,119.89" fill="#bcbd22"/>
<polygon points="665.95,118.30 662.38,116.41 662.38,120.19" fill="#bcbd22"/>
<polygon points="674.60,118.50 671.03,116.61 671.03,120.39" fill="#bcbd22"/>
<path d="M499.50 18.40 L508.15 75.00 L516.80 90.80 L525.45 101.00 L534.10 106.60 L542.75 110.00 L551.40 112.50 L560.05 114.50 L568.70 116.00 L577.35 117.00 L586.00 118.00 L594.65 119.00 L603.30 119.50 L611.95 120.00 L620.60 120.30 L629.25 120.60 L637.90 120.80 L646.55 121.00 L655.20 121.20 L663.85 121.50 L672.50 121.60" fill="none" stroke="#008000" stroke-opacity="0.75" stroke-width="1.15"/>
<polygon points="499.50,16.30 501.39,19.87 497.61,19.87" fill="#008000"/>
<polygon points="508.15,72.90 510.04,76.47 506.26,76.47" fill="#008000"/>
<polygon points="516.80,88.70 518.69,92.27 514.91,92.27" fill="#008000"/>
<polygon points="525.45,98.90 527.34,102.47 523.56,102.47" fill="#008000"/>
<polygon points="534.10,104.50 535.99,108.07 532.21,108.07" fill="#008000"/>
<polygon points="542.75,107.90 544.64,111.47 540.86,111.47" fill="#008000"/>
<polygon points="551.40,110.40 553.29,113.97 549.51,113.97" fill="#008000"/>
<polygon points="560.05,112.40 561.94,115.97 558.16,115.97" fill="#008000"/>
<polygon points="568.70,113.90 570.59,117.47 566.81,117.47" fill="#008000"/>
<polygon points="577.35,114.90 579.24,118.47 575.46,118.47" fill="#008000"/>
<polygon points="586.00,115.90 587.89,119.47 584.11,119.47" fill="#008000"/>
<polygon points="594.65,116.90 596.54,120.47 592.76,120.47" fill="#008000"/>
<polygon points="603.30,117.40 605.19,120.97 601.41,120.97" fill="#008000"/>
<polygon points="611.95,117.90 613.84,121.47 610.06,121.47" fill="#008000"/>
<polygon points="620.60,118.20 622.49,121.77 618.71,121.77" fill="#008000"/>
<polygon points="629.25,118.50 631.14,122.07 627.36,122.07" fill="#008000"/>
<polygon points="637.90,118.70 639.79,122.27 636.01,122.27" fill="#008000"/>
<polygon points="646.55,118.90 648.44,122.47 644.66,122.47" fill="#008000"/>
<polygon points="655.20,119.10 657.09,122.67 653.31,122.67" fill="#008000"/>
<polygon points="663.85,119.40 665.74,122.97 661.96,122.97" fill="#008000"/>
<polygon points="672.50,119.50 674.39,123.07 670.61,123.07" fill="#008000"/>
<path d="M499.50 18.40 L508.15 72.00 L516.80 92.00 L525.45 98.30 L534.10 101.00 L542.75 106.60 L551.40 111.20 L560.05 113.00 L568.70 114.00 L577.35 114.50 L586.00 115.00 L594.65 115.50 L603.30 117.00 L611.95 117.70 L620.60 118.10 L629.25 118.70 L637.90 119.10 L646.55 119.10 L655.20 118.70 L663.85 119.90 L672.50 120.60" fill="none" stroke="#a0522d" stroke-opacity="0.5" stroke-width="1.15"/>
<polygon points="500.98,19.01 500.11,19.88 498.89,19.88 498.02,19.01 498.02,17.79 498.89,16.92 500.11,16.92 500.98,17.79" fill="#a0522d"/>
<polygon points="509.63,72.61 508.76,73.48 507.54,73.48 506.67,72.61 506.67,71.39 507.54,70.52 508.76,70.52 509.63,71.39" fill="#a0522d"/>
<polygon points="518.28,92.61 517.41,93.48 516.19,93.48 515.32,92.61 515.32,91.39 516.19,90.52 517.41,90.52 518.28,91.39" fill="#a0522d"/>
<polygon points="526.93,98.91 526.06,99.78 524.84,99.78 523.97,98.91 523.97,97.69 524.84,96.82 526.06,96.82 526.93,97.69" fill="#a0522d"/>
<polygon points="535.58,101.61 534.71,102.48 533.49,102.48 532.62,101.61 532.62,100.39 533.49,99.52 534.71,99.52 535.58,100.39" fill="#a0522d"/>
<polygon points="544.23,107.21 543.36,108.08 542.14,108.08 541.27,107.21 541.27,105.99 542.14,105.12 543.36,105.12 544.23,105.99" fill="#a0522d"/>
<polygon points="552.88,111.81 552.01,112.68 550.79,112.68 549.92,111.81 549.92,110.59 550.79,109.72 552.01,109.72 552.88,110.59" fill="#a0522d"/>
<polygon points="561.53,113.61 560.66,114.48 559.44,114.48 558.57,113.61 558.57,112.39 559.44,111.52 560.66,111.52 561.53,112.39" fill="#a0522d"/>
<polygon points="570.18,114.61 569.31,115.48 568.09,115.48 567.22,114.61 567.22,113.39 568.09,112.52 569.31,112.52 570.18,113.39" fill="#a0522d"/>
<polygon points="578.83,115.11 577.96,115.98 576.74,115.98 575.87,115.11 575.87,113.89 576.74,113.02 577.96,113.02 578.83,113.89" fill="#a0522d"/>
<polygon points="587.48,115.61 586.61,116.48 585.39,116.48 584.52,115.61 584.52,114.39 585.39,113.52 586.61,113.52 587.48,114.39" fill="#a0522d"/>
<polygon points="596.13,116.11 595.26,116.98 594.04,116.98 593.17,116.11 593.17,114.89 594.04,114.02 595.26,114.02 596.13,114.89" fill="#a0522d"/>
<polygon points="604.78,117.61 603.91,118.48 602.69,118.48 601.82,117.61 601.82,116.39 602.69,115.52 603.91,115.52 604.78,116.39" fill="#a0522d"/>
<polygon points="613.43,118.31 612.56,119.18 611.34,119.18 610.47,118.31 610.47,117.09 611.34,116.22 612.56,116.22 613.43,117.09" fill="#a0522d"/>
<polygon points="622.08,118.71 621.21,119.58 619.99,119.58 619.12,118.71 619.12,117.49 619.99,116.62 621.21,116.62 622.08,117.49" fill="#a0522d"/>
<polygon points="630.73,119.31 629.86,120.18 628.64,120.18 627.77,119.31 627.77,118.09 628.64,117.22 629.86,117.22 630.73,118.09" fill="#a0522d"/>
<polygon points="639.38,119.71 638.51,120.58 637.29,120.58 636.42,119.71 636.42,118.49 637.29,117.62 638.51,117.62 639.38,118.49" fill="#a0522d"/>
<polygon points="648.03,119.71 647.16,120.58 645.94,120.58 645.07,119.71 645.07,118.49 645.94,117.62 647.16,117.62 648.03,118.49" fill="#a0522d"/>
<polygon points="656.68,119.31 655.81,120.18 654.59,120.18 653.72,119.31 653.72,118.09 654.59,117.22 655.81,117.22 656.68,118.09" fill="#a0522d"/>
<polygon points="665.33,120.51 664.46,121.38 663.24,121.38 662.37,120.51 662.37,119.29 663.24,118.42 664.46,118.42 665.33,119.29" fill="#a0522d"/>
<polygon points="673.98,121.21 673.11,122.08 671.89,122.08 671.02,121.21 671.02,119.99 671.89,119.12 673.11,119.12 673.98,119.99" fill="#a0522d"/>
<path d="M499.50 18.40 L508.15 24.00 L516.80 31.00 L525.45 37.60 L534.10 48.90 L542.75 65.90 L551.40 78.30 L560.05 82.90 L568.70 82.90 L577.35 87.00 L586.00 91.40 L594.65 97.50 L603.30 99.40 L611.95 101.50 L620.60 103.00 L629.25 104.00 L637.90 105.30 L646.55 106.00 L655.20 107.40 L663.85 106.40 L672.50 108.20" fill="none" stroke="#ee82ee" stroke-opacity="0.9" stroke-width="1.15"/>
<polygon points="498.78,16.40 500.22,16.40 500.22,17.68 501.50,17.68 501.50,19.12 500.22,19.12 500.22,20.40 498.78,20.40 498.78,19.12 497.50,19.12 497.50,17.68 498.78,17.68" fill="#ee82ee"/>
<polygon points="507.43,22.00 508.87,22.00 508.87,23.28 510.15,23.28 510.15,24.72 508.87,24.72 508.87,26.00 507.43,26.00 507.43,24.72 506.15,24.72 506.15,23.28 507.43,23.28" fill="#ee82ee"/>
<polygon points="516.08,29.00 517.52,29.00 517.52,30.28 518.80,30.28 518.80,31.72 517.52,31.72 517.52,33.00 516.08,33.00 516.08,31.72 514.80,31.72 514.80,30.28 516.08,30.28" fill="#ee82ee"/>
<polygon points="524.73,35.60 526.17,35.60 526.17,36.88 527.45,36.88 527.45,38.32 526.17,38.32 526.17,39.60 524.73,39.60 524.73,38.32 523.45,38.32 523.45,36.88 524.73,36.88" fill="#ee82ee"/>
<polygon points="533.38,46.90 534.82,46.90 534.82,48.18 536.10,48.18 536.10,49.62 534.82,49.62 534.82,50.90 533.38,50.90 533.38,49.62 532.10,49.62 532.10,48.18 533.38,48.18" fill="#ee82ee"/>
<polygon points="542.03,63.90 543.47,63.90 543.47,65.18 544.75,65.18 544.75,66.62 543.47,66.62 543.47,67.90 542.03,67.90 542.03,66.62 540.75,66.62 540.75,65.18 542.03,65.18" fill="#ee82ee"/>
<polygon points="550.68,76.30 552.12,76.30 552.12,77.58 553.40,77.58 553.40,79.02 552.12,79.02 552.12,80.30 550.68,80.30 550.68,79.02 549.40,79.02 549.40,77.58 550.68,77.58" fill="#ee82ee"/>
<polygon points="559.33,80.90 560.77,80.90 560.77,82.18 562.05,82.18 562.05,83.62 560.77,83.62 560.77,84.90 559.33,84.90 559.33,83.62 558.05,83.62 558.05,82.18 559.33,82.18" fill="#ee82ee"/>
<polygon points="567.98,80.90 569.42,80.90 569.42,82.18 570.70,82.18 570.70,83.62 569.42,83.62 569.42,84.90 567.98,84.90 567.98,83.62 566.70,83.62 566.70,82.18 567.98,82.18" fill="#ee82ee"/>
<polygon points="576.63,85.00 578.07,85.00 578.07,86.28 579.35,86.28 579.35,87.72 578.07,87.72 578.07,89.00 576.63,89.00 576.63,87.72 575.35,87.72 575.35,86.28 576.63,86.28" fill="#ee82ee"/>
<polygon points="585.28,89.40 586.72,89.40 586.72,90.68 588.00,90.68 588.00,92.12 586.72,92.12 586.72,93.40 585.28,93.40 585.28,92.12 584.00,92.12 584.00,90.68 585.28,90.68" fill="#ee82ee"/>
<polygon points="593.93,95.50 595.37,95.50 595.37,96.78 596.65,96.78 596.65,98.22 595.37,98.22 595.37,99.50 593.93,99.50 593.93,98.22 592.65,98.22 592.65,96.78 593.93,96.78" fill="#ee82ee"/>
<polygon points="602.58,97.40 604.02,97.40 604.02,98.68 605.30,98.68 605.30,100.12 604.02,100.12 604.02,101.40 602.58,101.40 602.58,100.12 601.30,100.12 601.30,98.68 602.58,98.68" fill="#ee82ee"/>
<polygon points="611.23,99.50 612.67,99.50 612.67,100.78 613.95,100.78 613.95,102.22 612.67,102.22 612.67,103.50 611.23,103.50 611.23,102.22 609.95,102.22 609.95,100.78 611.23,100.78" fill="#ee82ee"/>
<polygon points="619.88,101.00 621.32,101.00 621.32,102.28 622.60,102.28 622.60,103.72 621.32,103.72 621.32,105.00 619.88,105.00 619.88,103.72 618.60,103.72 618.60,102.28 619.88,102.28" fill="#ee82ee"/>
<polygon points="628.53,102.00 629.97,102.00 629.97,103.28 631.25,103.28 631.25,104.72 629.97,104.72 629.97,106.00 628.53,106.00 628.53,104.72 627.25,104.72 627.25,103.28 628.53,103.28" fill="#ee82ee"/>
<polygon points="637.18,103.30 638.62,103.30 638.62,104.58 639.90,104.58 639.90,106.02 638.62,106.02 638.62,107.30 637.18,107.30 637.18,106.02 635.90,106.02 635.90,104.58 637.18,104.58" fill="#ee82ee"/>
<polygon points="645.83,104.00 647.27,104.00 647.27,105.28 648.55,105.28 648.55,106.72 647.27,106.72 647.27,108.00 645.83,108.00 645.83,106.72 644.55,106.72 644.55,105.28 645.83,105.28" fill="#ee82ee"/>
<polygon points="654.48,105.40 655.92,105.40 655.92,106.68 657.20,106.68 657.20,108.12 655.92,108.12 655.92,109.40 654.48,109.40 654.48,108.12 653.20,108.12 653.20,106.68 654.48,106.68" fill="#ee82ee"/>
<polygon points="663.13,104.40 664.57,104.40 664.57,105.68 665.85,105.68 665.85,107.12 664.57,107.12 664.57,108.40 663.13,108.40 663.13,107.12 661.85,107.12 661.85,105.68 663.13,105.68" fill="#ee82ee"/>
<polygon points="671.78,106.20 673.22,106.20 673.22,107.48 674.50,107.48 674.50,108.92 673.22,108.92 673.22,110.20 671.78,110.20 671.78,108.92 670.50,108.92 670.50,107.48 671.78,107.48" fill="#ee82ee"/>
<path d="M499.50 18.40 L508.15 23.60 L516.80 30.80 L525.45 38.80 L534.10 57.50 L542.75 70.00 L551.40 80.60 L560.05 75.00 L568.70 74.30 L577.35 73.40 L586.00 75.30 L594.65 79.00 L603.30 85.50 L611.95 88.00 L620.60 92.40 L629.25 98.70 L637.90 100.90 L646.55 99.70 L655.20 102.50 L663.85 105.30 L672.50 108.20" fill="none" stroke="#707070" stroke-opacity="0.8" stroke-width="1.15"/>
<path d="M498.07 16.97L500.93 19.82M498.07 19.82L500.93 16.97" stroke="#555555" stroke-width="1.1"/>
<path d="M506.72 22.18L509.57 25.03M506.72 25.03L509.57 22.18" stroke="#555555" stroke-width="1.1"/>
<path d="M515.38 29.38L518.22 32.23M515.38 32.23L518.22 29.38" stroke="#555555" stroke-width="1.1"/>
<path d="M524.03 37.38L526.88 40.22M524.03 40.22L526.88 37.38" stroke="#555555" stroke-width="1.1"/>
<path d="M532.68 56.08L535.52 58.92M532.68 58.92L535.52 56.08" stroke="#555555" stroke-width="1.1"/>
<path d="M541.33 68.58L544.17 71.42M541.33 71.42L544.17 68.58" stroke="#555555" stroke-width="1.1"/>
<path d="M549.98 79.17L552.82 82.02M549.98 82.02L552.82 79.17" stroke="#555555" stroke-width="1.1"/>
<path d="M558.62 73.58L561.47 76.42M558.62 76.42L561.47 73.58" stroke="#555555" stroke-width="1.1"/>
<path d="M567.28 72.88L570.12 75.72M567.28 75.72L570.12 72.88" stroke="#555555" stroke-width="1.1"/>
<path d="M575.93 71.98L578.77 74.83M575.93 74.83L578.77 71.98" stroke="#555555" stroke-width="1.1"/>
<path d="M584.58 73.88L587.42 76.72M584.58 76.72L587.42 73.88" stroke="#555555" stroke-width="1.1"/>
<path d="M593.23 77.58L596.07 80.42M593.23 80.42L596.07 77.58" stroke="#555555" stroke-width="1.1"/>
<path d="M601.88 84.08L604.72 86.92M601.88 86.92L604.72 84.08" stroke="#555555" stroke-width="1.1"/>
<path d="M610.53 86.58L613.38 89.42M610.53 89.42L613.38 86.58" stroke="#555555" stroke-width="1.1"/>
<path d="M619.18 90.98L622.02 93.83M619.18 93.83L622.02 90.98" stroke="#555555" stroke-width="1.1"/>
<path d="M627.83 97.28L630.67 100.12M627.83 100.12L630.67 97.28" stroke="#555555" stroke-width="1.1"/>
<path d="M636.48 99.48L639.32 102.33M636.48 102.33L639.32 99.48" stroke="#555555" stroke-width="1.1"/>
<path d="M645.12 98.28L647.97 101.12M645.12 101.12L647.97 98.28" stroke="#555555" stroke-width="1.1"/>
<path d="M653.78 101.08L656.62 103.92M653.78 103.92L656.62 101.08" stroke="#555555" stroke-width="1.1"/>
<path d="M662.43 103.88L665.27 106.72M662.43 106.72L665.27 103.88" stroke="#555555" stroke-width="1.1"/>
<path d="M671.08 106.78L673.92 109.62M671.08 109.62L673.92 106.78" stroke="#555555" stroke-width="1.1"/>
<path d="M499.50 18.40 L508.15 75.00 L516.80 96.40 L525.45 103.20 L534.10 108.90 L542.75 111.50 L551.40 113.40 L560.05 114.50 L568.70 115.70 L577.35 116.50 L586.00 117.00 L594.65 117.50 L603.30 118.00 L611.95 118.40 L620.60 118.80 L629.25 119.00 L637.90 119.20 L646.55 119.40 L655.20 119.50 L663.85 119.70 L672.50 119.90" fill="none" stroke="#c000c0" stroke-opacity="0.8" stroke-width="1.15"/>
<polygon points="499.50,16.30 500.76,18.40 499.50,20.50 498.24,18.40" fill="#c000c0"/>
<polygon points="508.15,72.90 509.41,75.00 508.15,77.10 506.89,75.00" fill="#c000c0"/>
<polygon points="516.80,94.30 518.06,96.40 516.80,98.50 515.54,96.40" fill="#c000c0"/>
<polygon points="525.45,101.10 526.71,103.20 525.45,105.30 524.19,103.20" fill="#c000c0"/>
<polygon points="534.10,106.80 535.36,108.90 534.10,111.00 532.84,108.90" fill="#c000c0"/>
<polygon points="542.75,109.40 544.01,111.50 542.75,113.60 541.49,111.50" fill="#c000c0"/>
<polygon points="551.40,111.30 552.66,113.40 551.40,115.50 550.14,113.40" fill="#c000c0"/>
<polygon points="560.05,112.40 561.31,114.50 560.05,116.60 558.79,114.50" fill="#c000c0"/>
<polygon points="568.70,113.60 569.96,115.70 568.70,117.80 567.44,115.70" fill="#c000c0"/>
<polygon points="577.35,114.40 578.61,116.50 577.35,118.60 576.09,116.50" fill="#c000c0"/>
<polygon points="586.00,114.90 587.26,117.00 586.00,119.10 584.74,117.00" fill="#c000c0"/>
<polygon points="594.65,115.40 595.91,117.50 594.65,119.60 593.39,117.50" fill="#c000c0"/>
<polygon points="603.30,115.90 604.56,118.00 603.30,120.10 602.04,118.00" fill="#c000c0"/>
<polygon points="611.95,116.30 613.21,118.40 611.95,120.50 610.69,118.40" fill="#c000c0"/>
<polygon points="620.60,116.70 621.86,118.80 620.60,120.90 619.34,118.80" fill="#c000c0"/>
<polygon points="629.25,116.90 630.51,119.00 629.25,121.10 627.99,119.00" fill="#c000c0"/>
<polygon points="637.90,117.10 639.16,119.20 637.90,121.30 636.64,119.20" fill="#c000c0"/>
<polygon points="646.55,117.30 647.81,119.40 646.55,121.50 645.29,119.40" fill="#c000c0"/>
<polygon points="655.20,117.40 656.46,119.50 655.20,121.60 653.94,119.50" fill="#c000c0"/>
<polygon points="663.85,117.60 665.11,119.70 663.85,121.80 662.59,119.70" fill="#c000c0"/>
<polygon points="672.50,117.80 673.76,119.90 672.50,122.00 671.24,119.90" fill="#c000c0"/>
<path d="M499.50 18.40 L508.15 51.20 L516.80 68.00 L525.45 82.00 L534.10 88.00 L542.75 93.00 L551.40 99.80 L560.05 100.50 L568.70 101.40 L577.35 102.80 L586.00 103.20 L594.65 101.60 L603.30 103.10 L611.95 104.50 L620.60 106.00 L629.25 107.40 L637.90 107.90 L646.55 109.30 L655.20 109.80 L663.85 110.80 L672.50 111.10" fill="none" stroke="#4169e1" stroke-opacity="0.6" stroke-width="1.15"/>
<rect x="497.85" y="16.75" width="3.30" height="3.30" fill="#4169e1"/>
<rect x="506.50" y="49.55" width="3.30" height="3.30" fill="#4169e1"/>
<rect x="515.15" y="66.35" width="3.30" height="3.30" fill="#4169e1"/>
<rect x="523.80" y="80.35" width="3.30" height="3.30" fill="#4169e1"/>
<rect x="532.45" y="86.35" width="3.30" height="3.30" fill="#4169e1"/>
<rect x="541.10" y="91.35" width="3.30" height="3.30" fill="#4169e1"/>
<rect x="549.75" y="98.15" width="3.30" height="3.30" fill="#4169e1"/>
<rect x="558.40" y="98.85" width="3.30" height="3.30" fill="#4169e1"/>
<rect x="567.05" y="99.75" width="3.30" height="3.30" fill="#4169e1"/>
<rect x="575.70" y="101.15" width="3.30" height="3.30" fill="#4169e1"/>
<rect x="584.35" y="101.55" width="3.30" height="3.30" fill="#4169e1"/>
<rect x="593.00" y="99.95" width="3.30" height="3.30" fill="#4169e1"/>
<rect x="601.65" y="101.45" width="3.30" height="3.30" fill="#4169e1"/>
<rect x="610.30" y="102.85" width="3.30" height="3.30" fill="#4169e1"/>
<rect x="618.95" y="104.35" width="3.30" height="3.30" fill="#4169e1"/>
<rect x="627.60" y="105.75" width="3.30" height="3.30" fill="#4169e1"/>
<rect x="636.25" y="106.25" width="3.30" height="3.30" fill="#4169e1"/>
<rect x="644.90" y="107.65" width="3.30" height="3.30" fill="#4169e1"/>
<rect x="653.55" y="108.15" width="3.30" height="3.30" fill="#4169e1"/>
<rect x="662.20" y="109.15" width="3.30" height="3.30" fill="#4169e1"/>
<rect x="670.85" y="109.45" width="3.30" height="3.30" fill="#4169e1"/>
<path d="M499.50 18.40 L508.15 60.20 L516.80 69.80 L525.45 81.10 L534.10 87.90 L542.75 89.70 L551.40 91.50 L560.05 90.80 L568.70 94.20 L577.35 95.30 L586.00 97.20 L594.65 97.20 L603.30 97.70 L611.95 96.80 L620.60 98.70 L629.25 99.70 L637.90 102.30 L646.55 101.60 L655.20 102.30 L663.85 102.60 L672.50 101.60" fill="none" stroke="#4b0082" stroke-opacity="0.75" stroke-width="1.15"/>
<circle cx="499.50" cy="18.40" r="1.70" fill="#4b0082"/>
<circle cx="508.15" cy="60.20" r="1.70" fill="#4b0082"/>
<circle cx="516.80" cy="69.80" r="1.70" fill="#4b0082"/>
<circle cx="525.45" cy="81.10" r="1.70" fill="#4b0082"/>
<circle cx="534.10" cy="87.90" r="1.70" fill="#4b0082"/>
<circle cx="542.75" cy="89.70" r="1.70" fill="#4b0082"/>
<circle cx="551.40" cy="91.50" r="1.70" fill="#4b0082"/>
<circle cx="560.05" cy="90.80" r="1.70" fill="#4b0082"/>
<circle cx="568.70" cy="94.20" r="1.70" fill="#4b0082"/>
<circle cx="577.35" cy="95.30" r="1.70" fill="#4b0082"/>
<circle cx="586.00" cy="97.20" r="1.70" fill="#4b0082"/>
<circle cx="594.65" cy="97.20" r="1.70" fill="#4b0082"/>
<circle cx="603.30" cy="97.70" r="1.70" fill="#4b0082"/>
<circle cx="611.95" cy="96.80" r="1.70" fill="#4b0082"/>
<circle cx="620.60" cy="98.70" r="1.70" fill="#4b0082"/>
<circle cx="629.25" cy="99.70" r="1.70" fill="#4b0082"/>
<circle cx="637.90" cy="102.30" r="1.70" fill="#4b0082"/>
<circle cx="646.55" cy="101.60" r="1.70" fill="#4b0082"/>
<circle cx="655.20" cy="102.30" r="1.70" fill="#4b0082"/>
<circle cx="663.85" cy="102.60" r="1.70" fill="#4b0082"/>
<circle cx="672.50" cy="101.60" r="1.70" fill="#4b0082"/>
<path d="M499.50 18.40 L508.15 79.50 L516.80 105.00 L525.45 112.30 L534.10 115.70 L542.75 117.90 L551.40 119.10 L560.05 119.50 L568.70 119.50 L577.35 120.20 L586.00 121.00 L594.65 121.00 L603.30 121.20 L611.95 121.40 L620.60 121.50 L629.25 121.60 L637.90 121.80 L646.55 121.80 L655.20 122.00 L663.85 122.00 L672.50 122.00" fill="none" stroke="#00c0c0" stroke-opacity="0.5" stroke-width="1.15"/>
<polygon points="499.50,20.50 501.39,16.93 497.61,16.93" fill="#20c0c0"/>
<polygon points="508.15,81.60 510.04,78.03 506.26,78.03" fill="#20c0c0"/>
<polygon points="516.80,107.10 518.69,103.53 514.91,103.53" fill="#20c0c0"/>
<polygon points="525.45,114.40 527.34,110.83 523.56,110.83" fill="#20c0c0"/>
<polygon points="534.10,117.80 535.99,114.23 532.21,114.23" fill="#20c0c0"/>
<polygon points="542.75,120.00 544.64,116.43 540.86,116.43" fill="#20c0c0"/>
<polygon points="551.40,121.20 553.29,117.63 549.51,117.63" fill="#20c0c0"/>
<polygon points="560.05,121.60 561.94,118.03 558.16,118.03" fill="#20c0c0"/>
<polygon points="568.70,121.60 570.59,118.03 566.81,118.03" fill="#20c0c0"/>
<polygon points="577.35,122.30 579.24,118.73 575.46,118.73" fill="#20c0c0"/>
<polygon points="586.00,123.10 587.89,119.53 584.11,119.53" fill="#20c0c0"/>
<polygon points="594.65,123.10 596.54,119.53 592.76,119.53" fill="#20c0c0"/>
<polygon points="603.30,123.30 605.19,119.73 601.41,119.73" fill="#20c0c0"/>
<polygon points="611.95,123.50 613.84,119.93 610.06,119.93" fill="#20c0c0"/>
<polygon points="620.60,123.60 622.49,120.03 618.71,120.03" fill="#20c0c0"/>
<polygon points="629.25,123.70 631.14,120.13 627.36,120.13" fill="#20c0c0"/>
<polygon points="637.90,123.90 639.79,120.33 636.01,120.33" fill="#20c0c0"/>
<polygon points="646.55,123.90 648.44,120.33 644.66,120.33" fill="#20c0c0"/>
<polygon points="655.20,124.10 657.09,120.53 653.31,120.53" fill="#20c0c0"/>
<polygon points="663.85,124.10 665.74,120.53 661.96,120.53" fill="#20c0c0"/>
<polygon points="672.50,124.10 674.39,120.53 670.61,120.53" fill="#20c0c0"/>
<path d="M499.50 18.40 L508.15 68.80 L516.80 88.50 L525.45 101.70 L534.10 107.80 L542.75 111.80 L551.40 114.50 L560.05 116.80 L568.70 117.90 L577.35 119.10 L586.00 120.10 L594.65 122.00 L603.30 122.50 L611.95 123.00 L620.60 123.50 L629.25 124.00 L637.90 124.20 L646.55 124.50 L655.20 125.00 L663.85 125.10 L672.50 125.40" fill="none" stroke="#ff0000" stroke-opacity="0.8" stroke-width="1.15"/>
<circle cx="499.50" cy="18.40" r="1.80" fill="#ff0000"/>
<circle cx="508.15" cy="68.80" r="1.80" fill="#ff0000"/>
<circle cx="516.80" cy="88.50" r="1.80" fill="#ff0000"/>
<circle cx="525.45" cy="101.70" r="1.80" fill="#ff0000"/>
<circle cx="534.10" cy="107.80" r="1.80" fill="#ff0000"/>
<circle cx="542.75" cy="111.80" r="1.80" fill="#ff0000"/>
<circle cx="551.40" cy="114.50" r="1.80" fill="#ff0000"/>
<circle cx="560.05" cy="116.80" r="1.80" fill="#ff0000"/>
<circle cx="568.70" cy="117.90" r="1.80" fill="#ff0000"/>
<circle cx="577.35" cy="119.10" r="1.80" fill="#ff0000"/>
<circle cx="586.00" cy="120.10" r="1.80" fill="#ff0000"/>
<circle cx="594.65" cy="122.00" r="1.80" fill="#ff0000"/>
<circle cx="603.30" cy="122.50" r="1.80" fill="#ff0000"/>
<circle cx="611.95" cy="123.00" r="1.80" fill="#ff0000"/>
<circle cx="620.60" cy="123.50" r="1.80" fill="#ff0000"/>
<circle cx="629.25" cy="124.00" r="1.80" fill="#ff0000"/>
<circle cx="637.90" cy="124.20" r="1.80" fill="#ff0000"/>
<circle cx="646.55" cy="124.50" r="1.80" fill="#ff0000"/>
<circle cx="655.20" cy="125.00" r="1.80" fill="#ff0000"/>
<circle cx="663.85" cy="125.10" r="1.80" fill="#ff0000"/>
<circle cx="672.50" cy="125.40" r="1.80" fill="#ff0000"/>
</g>
<rect x="490.5" y="16.5" width="190.50" height="110.80" fill="none" stroke="#333" stroke-width="1"/>
<line x1="499.50" y1="127.3" x2="499.50" y2="130.10" stroke="#333" stroke-width="0.9"/>
<text class="s" x="499.50" y="136.90" text-anchor="middle">0</text>
<line x1="528.33" y1="127.3" x2="528.33" y2="130.10" stroke="#333" stroke-width="0.9"/>
<text class="s" x="528.33" y="136.90" text-anchor="middle">10</text>
<line x1="557.17" y1="127.3" x2="557.17" y2="130.10" stroke="#333" stroke-width="0.9"/>
<text class="s" x="557.17" y="136.90" text-anchor="middle">20</text>
<line x1="586.00" y1="127.3" x2="586.00" y2="130.10" stroke="#333" stroke-width="0.9"/>
<text class="s" x="586.00" y="136.90" text-anchor="middle">30</text>
<line x1="614.83" y1="127.3" x2="614.83" y2="130.10" stroke="#333" stroke-width="0.9"/>
<text class="s" x="614.83" y="136.90" text-anchor="middle">40</text>
<line x1="643.67" y1="127.3" x2="643.67" y2="130.10" stroke="#333" stroke-width="0.9"/>
<text class="s" x="643.67" y="136.90" text-anchor="middle">50</text>
<line x1="672.50" y1="127.3" x2="672.50" y2="130.10" stroke="#333" stroke-width="0.9"/>
<text class="s" x="672.50" y="136.90" text-anchor="middle">60</text>
<line x1="487.70" y1="118.50" x2="490.5" y2="118.50" stroke="#333" stroke-width="0.9"/>
<text class="s" x="485.90" y="121.05" text-anchor="end">0.1</text>
<line x1="487.70" y1="99.62" x2="490.5" y2="99.62" stroke="#333" stroke-width="0.9"/>
<text class="s" x="485.90" y="102.17" text-anchor="end">0.2</text>
<line x1="487.70" y1="80.74" x2="490.5" y2="80.74" stroke="#333" stroke-width="0.9"/>
<text class="s" x="485.90" y="83.29" text-anchor="end">0.3</text>
<line x1="487.70" y1="61.86" x2="490.5" y2="61.86" stroke="#333" stroke-width="0.9"/>
<text class="s" x="485.90" y="64.41" text-anchor="end">0.4</text>
<line x1="487.70" y1="42.98" x2="490.5" y2="42.98" stroke="#333" stroke-width="0.9"/>
<text class="s" x="485.90" y="45.53" text-anchor="end">0.5</text>
<line x1="487.70" y1="24.10" x2="490.5" y2="24.10" stroke="#333" stroke-width="0.9"/>
<text class="s" x="485.90" y="26.65" text-anchor="end">0.6</text>
<text class="t" x="585.75" y="12.90" text-anchor="middle">Thyroid</text>
<text class="t xl" x="585.75" y="147.60" text-anchor="middle">Number of queries</text>
<text class="t" x="0" y="0" text-anchor="middle" transform="translate(471.55,71.90) rotate(-90)">MZE</text>
</g>
<g>
<line x1="43.80" y1="167.5" x2="43.80" y2="278.2" stroke="#b0b0b0" stroke-width="0.8"/>
<line x1="65.42" y1="167.5" x2="65.42" y2="278.2" stroke="#b0b0b0" stroke-width="0.8"/>
<line x1="87.05" y1="167.5" x2="87.05" y2="278.2" stroke="#b0b0b0" stroke-width="0.8"/>
<line x1="108.67" y1="167.5" x2="108.67" y2="278.2" stroke="#b0b0b0" stroke-width="0.8"/>
<line x1="130.30" y1="167.5" x2="130.30" y2="278.2" stroke="#b0b0b0" stroke-width="0.8"/>
<line x1="151.93" y1="167.5" x2="151.93" y2="278.2" stroke="#b0b0b0" stroke-width="0.8"/>
<line x1="173.55" y1="167.5" x2="173.55" y2="278.2" stroke="#b0b0b0" stroke-width="0.8"/>
<line x1="195.18" y1="167.5" x2="195.18" y2="278.2" stroke="#b0b0b0" stroke-width="0.8"/>
<line x1="216.80" y1="167.5" x2="216.80" y2="278.2" stroke="#b0b0b0" stroke-width="0.8"/>
<line x1="35.4" y1="267.00" x2="225.8" y2="267.00" stroke="#b0b0b0" stroke-width="0.8"/>
<line x1="35.4" y1="243.56" x2="225.8" y2="243.56" stroke="#b0b0b0" stroke-width="0.8"/>
<line x1="35.4" y1="220.12" x2="225.8" y2="220.12" stroke="#b0b0b0" stroke-width="0.8"/>
<line x1="35.4" y1="196.69" x2="225.8" y2="196.69" stroke="#b0b0b0" stroke-width="0.8"/>
<line x1="35.4" y1="173.25" x2="225.8" y2="173.25" stroke="#b0b0b0" stroke-width="0.8"/>
<defs><clipPath id="c3"><rect x="35.4" y="167.5" width="190.4" height="110.69999999999999"/></clipPath></defs>
<g clip-path="url(#c3)">
<path d="M43.80 169.70 L52.45 200.00 L61.10 220.00 L69.75 234.00 L78.40 242.00 L87.05 247.00 L95.70 251.00 L104.35 254.00 L113.00 256.00 L121.65 258.00 L130.30 260.00 L138.95 262.00 L147.60 263.50 L156.25 265.00 L164.90 266.00 L173.55 267.00 L182.20 267.50 L190.85 268.00 L199.50 268.50 L208.15 269.00 L216.80 269.50" fill="none" stroke="#0000ff" stroke-opacity="0.7" stroke-width="1.15"/>
<circle cx="43.80" cy="169.70" r="1.10" fill="#0000ff"/>
<circle cx="52.45" cy="200.00" r="1.10" fill="#0000ff"/>
<circle cx="61.10" cy="220.00" r="1.10" fill="#0000ff"/>
<circle cx="69.75" cy="234.00" r="1.10" fill="#0000ff"/>
<circle cx="78.40" cy="242.00" r="1.10" fill="#0000ff"/>
<circle cx="87.05" cy="247.00" r="1.10" fill="#0000ff"/>
<circle cx="95.70" cy="251.00" r="1.10" fill="#0000ff"/>
<circle cx="104.35" cy="254.00" r="1.10" fill="#0000ff"/>
<circle cx="113.00" cy="256.00" r="1.10" fill="#0000ff"/>
<circle cx="121.65" cy="258.00" r="1.10" fill="#0000ff"/>
<circle cx="130.30" cy="260.00" r="1.10" fill="#0000ff"/>
<circle cx="138.95" cy="262.00" r="1.10" fill="#0000ff"/>
<circle cx="147.60" cy="263.50" r="1.10" fill="#0000ff"/>
<circle cx="156.25" cy="265.00" r="1.10" fill="#0000ff"/>
<circle cx="164.90" cy="266.00" r="1.10" fill="#0000ff"/>
<circle cx="173.55" cy="267.00" r="1.10" fill="#0000ff"/>
<circle cx="182.20" cy="267.50" r="1.10" fill="#0000ff"/>
<circle cx="190.85" cy="268.00" r="1.10" fill="#0000ff"/>
<circle cx="199.50" cy="268.50" r="1.10" fill="#0000ff"/>
<circle cx="208.15" cy="269.00" r="1.10" fill="#0000ff"/>
<circle cx="216.80" cy="269.50" r="1.10" fill="#0000ff"/>
<path d="M43.80 169.70 L52.45 194.00 L61.10 212.70 L69.75 226.60 L78.40 234.30 L87.05 239.20 L95.70 244.60 L104.35 248.50 L113.00 251.50 L121.65 254.00 L130.30 256.00 L138.95 258.50 L147.60 261.00 L156.25 263.00 L164.90 265.00 L173.55 267.00 L182.20 268.50 L190.85 270.00 L199.50 271.50 L208.15 272.50 L216.80 273.50" fill="none" stroke="#ff8c00" stroke-opacity="0.8" stroke-width="1.15"/>
<polygon points="41.70,169.70 45.27,167.81 45.27,171.59" fill="#ff8c00"/>
<polygon points="50.35,194.00 53.92,192.11 53.92,195.89" fill="#ff8c00"/>
<polygon points="59.00,212.70 62.57,210.81 62.57,214.59" fill="#ff8c00"/>
<polygon points="67.65,226.60 71.22,224.71 71.22,228.49" fill="#ff8c00"/>
<polygon points="76.30,234.30 79.87,232.41 79.87,236.19" fill="#ff8c00"/>
<polygon points="84.95,239.20 88.52,237.31 88.52,241.09" fill="#ff8c00"/>
<polygon points="93.60,244.60 97.17,242.71 97.17,246.49" fill="#ff8c00"/>
<polygon points="102.25,248.50 105.82,246.61 105.82,250.39" fill="#ff8c00"/>
<polygon points="110.90,251.50 114.47,249.61 114.47,253.39" fill="#ff8c00"/>
<polygon points="119.55,254.00 123.12,252.11 123.12,255.89" fill="#ff8c00"/>
<polygon points="128.20,256.00 131.77,254.11 131.77,257.89" fill="#ff8c00"/>
<polygon points="136.85,258.50 140.42,256.61 140.42,260.39" fill="#ff8c00"/>
<polygon points="145.50,261.00 149.07,259.11 149.07,262.89" fill="#ff8c00"/>
<polygon points="154.15,263.00 157.72,261.11 157.72,264.89" fill="#ff8c00"/>
<polygon points="162.80,265.00 166.37,263.11 166.37,266.89" fill="#ff8c00"/>
<polygon points="171.45,267.00 175.02,265.11 175.02,268.89" fill="#ff8c00"/>
<polygon points="180.10,268.50 183.67,266.61 183.67,270.39" fill="#ff8c00"/>
<polygon points="188.75,270.00 192.32,268.11 192.32,271.89" fill="#ff8c00"/>
<polygon points="197.40,271.50 200.97,269.61 200.97,273.39" fill="#ff8c00"/>
<polygon points="206.05,272.50 209.62,270.61 209.62,274.39" fill="#ff8c00"/>
<polygon points="214.70,273.50 218.27,271.61 218.27,275.39" fill="#ff8c00"/>
<path d="M43.80 169.70 L52.45 202.00 L61.10 222.00 L69.75 236.00 L78.40 244.00 L87.05 250.00 L95.70 254.00 L104.35 257.00 L113.00 259.50 L121.65 261.50 L130.30 263.50 L138.95 265.00 L147.60 266.50 L156.25 268.00 L164.90 269.50 L173.55 270.50 L182.20 271.50 L190.85 272.50 L199.50 273.50 L208.15 274.50 L216.80 275.30" fill="none" stroke="#bcbd22" stroke-opacity="0.6" stroke-width="1.15"/>
<polygon points="45.90,169.70 42.33,167.81 42.33,171.59" fill="#bcbd22"/>
<polygon points="54.55,202.00 50.98,200.11 50.98,203.89" fill="#bcbd22"/>
<polygon points="63.20,222.00 59.63,220.11 59.63,223.89" fill="#bcbd22"/>
<polygon points="71.85,236.00 68.28,234.11 68.28,237.89" fill="#bcbd22"/>
<polygon points="80.50,244.00 76.93,242.11 76.93,245.89" fill="#bcbd22"/>
<polygon points="89.15,250.00 85.58,248.11 85.58,251.89" fill="#bcbd22"/>
<polygon points="97.80,254.00 94.23,252.11 94.23,255.89" fill="#bcbd22"/>
<polygon points="106.45,257.00 102.88,255.11 102.88,258.89" fill="#bcbd22"/>
<polygon points="115.10,259.50 111.53,257.61 111.53,261.39" fill="#bcbd22"/>
<polygon points="123.75,261.50 120.18,259.61 120.18,263.39" fill="#bcbd22"/>
<polygon points="132.40,263.50 128.83,261.61 128.83,265.39" fill="#bcbd22"/>
<polygon points="141.05,265.00 137.48,263.11 137.48,266.89" fill="#bcbd22"/>
<polygon points="149.70,266.50 146.13,264.61 146.13,268.39" fill="#bcbd22"/>
<polygon points="158.35,268.00 154.78,266.11 154.78,269.89" fill="#bcbd22"/>
<polygon points="167.00,269.50 163.43,267.61 163.43,271.39" fill="#bcbd22"/>
<polygon points="175.65,270.50 172.08,268.61 172.08,272.39" fill="#bcbd22"/>
<polygon points="184.30,271.50 180.73,269.61 180.73,273.39" fill="#bcbd22"/>
<polygon points="192.95,272.50 189.38,270.61 189.38,274.39" fill="#bcbd22"/>
<polygon points="201.60,273.50 198.03,271.61 198.03,275.39" fill="#bcbd22"/>
<polygon points="210.25,274.50 206.68,272.61 206.68,276.39" fill="#bcbd22"/>
<polygon points="218.90,275.30 215.33,273.41 215.33,277.19" fill="#bcbd22"/>
<path d="M43.80 169.70 L52.45 204.00 L61.10 224.00 L69.75 238.00 L78.40 246.00 L87.05 251.00 L95.70 255.00 L104.35 258.00 L113.00 260.50 L121.65 262.50 L130.30 264.00 L138.95 265.50 L147.60 267.00 L156.25 268.00 L164.90 269.00 L173.55 270.00 L182.20 270.80 L190.85 271.50 L199.50 272.20 L208.15 272.80 L216.80 273.50" fill="none" stroke="#008000" stroke-opacity="0.75" stroke-width="1.15"/>
<polygon points="43.80,167.60 45.69,171.17 41.91,171.17" fill="#008000"/>
<polygon points="52.45,201.90 54.34,205.47 50.56,205.47" fill="#008000"/>
<polygon points="61.10,221.90 62.99,225.47 59.21,225.47" fill="#008000"/>
<polygon points="69.75,235.90 71.64,239.47 67.86,239.47" fill="#008000"/>
<polygon points="78.40,243.90 80.29,247.47 76.51,247.47" fill="#008000"/>
<polygon points="87.05,248.90 88.94,252.47 85.16,252.47" fill="#008000"/>
<polygon points="95.70,252.90 97.59,256.47 93.81,256.47" fill="#008000"/>
<polygon points="104.35,255.90 106.24,259.47 102.46,259.47" fill="#008000"/>
<polygon points="113.00,258.40 114.89,261.97 111.11,261.97" fill="#008000"/>
<polygon points="121.65,260.40 123.54,263.97 119.76,263.97" fill="#008000"/>
<polygon points="130.30,261.90 132.19,265.47 128.41,265.47" fill="#008000"/>
<polygon points="138.95,263.40 140.84,266.97 137.06,266.97" fill="#008000"/>
<polygon points="147.60,264.90 149.49,268.47 145.71,268.47" fill="#008000"/>
<polygon points="156.25,265.90 158.14,269.47 154.36,269.47" fill="#008000"/>
<polygon points="164.90,266.90 166.79,270.47 163.01,270.47" fill="#008000"/>
<polygon points="173.55,267.90 175.44,271.47 171.66,271.47" fill="#008000"/>
<polygon points="182.20,268.70 184.09,272.27 180.31,272.27" fill="#008000"/>
<polygon points="190.85,269.40 192.74,272.97 188.96,272.97" fill="#008000"/>
<polygon points="199.50,270.10 201.39,273.67 197.61,273.67" fill="#008000"/>
<polygon points="208.15,270.70 210.04,274.27 206.26,274.27" fill="#008000"/>
<polygon points="216.80,271.40 218.69,274.97 214.91,274.97" fill="#008000"/>
<path d="M43.80 169.70 L52.45 207.00 L61.10 225.00 L69.75 236.00 L78.40 243.00 L87.05 249.00 L95.70 253.00 L104.35 256.50 L113.00 259.00 L121.65 261.00 L130.30 263.00 L138.95 264.50 L147.60 266.00 L156.25 267.30 L164.90 268.30 L173.55 269.20 L182.20 270.00 L190.85 270.80 L199.50 271.50 L208.15 272.20 L216.80 272.80" fill="none" stroke="#a0522d" stroke-opacity="0.5" stroke-width="1.15"/>
<polygon points="45.28,170.31 44.41,171.18 43.19,171.18 42.32,170.31 42.32,169.09 43.19,168.22 44.41,168.22 45.28,169.09" fill="#a0522d"/>
<polygon points="53.93,207.61 53.06,208.48 51.84,208.48 50.97,207.61 50.97,206.39 51.84,205.52 53.06,205.52 53.93,206.39" fill="#a0522d"/>
<polygon points="62.58,225.61 61.71,226.48 60.49,226.48 59.62,225.61 59.62,224.39 60.49,223.52 61.71,223.52 62.58,224.39" fill="#a0522d"/>
<polygon points="71.23,236.61 70.36,237.48 69.14,237.48 68.27,236.61 68.27,235.39 69.14,234.52 70.36,234.52 71.23,235.39" fill="#a0522d"/>
<polygon points="79.88,243.61 79.01,244.48 77.79,244.48 76.92,243.61 76.92,242.39 77.79,241.52 79.01,241.52 79.88,242.39" fill="#a0522d"/>
<polygon points="88.53,249.61 87.66,250.48 86.44,250.48 85.57,249.61 85.57,248.39 86.44,247.52 87.66,247.52 88.53,248.39" fill="#a0522d"/>
<polygon points="97.18,253.61 96.31,254.48 95.09,254.48 94.22,253.61 94.22,252.39 95.09,251.52 96.31,251.52 97.18,252.39" fill="#a0522d"/>
<polygon points="105.83,257.11 104.96,257.98 103.74,257.98 102.87,257.11 102.87,255.89 103.74,255.02 104.96,255.02 105.83,255.89" fill="#a0522d"/>
<polygon points="114.48,259.61 113.61,260.48 112.39,260.48 111.52,259.61 111.52,258.39 112.39,257.52 113.61,257.52 114.48,258.39" fill="#a0522d"/>
<polygon points="123.13,261.61 122.26,262.48 121.04,262.48 120.17,261.61 120.17,260.39 121.04,259.52 122.26,259.52 123.13,260.39" fill="#a0522d"/>
<polygon points="131.78,263.61 130.91,264.48 129.69,264.48 128.82,263.61 128.82,262.39 129.69,261.52 130.91,261.52 131.78,262.39" fill="#a0522d"/>
<polygon points="140.43,265.11 139.56,265.98 138.34,265.98 137.47,265.11 137.47,263.89 138.34,263.02 139.56,263.02 140.43,263.89" fill="#a0522d"/>
<polygon points="149.08,266.61 148.21,267.48 146.99,267.48 146.12,266.61 146.12,265.39 146.99,264.52 148.21,264.52 149.08,265.39" fill="#a0522d"/>
<polygon points="157.73,267.91 156.86,268.78 155.64,268.78 154.77,267.91 154.77,266.69 155.64,265.82 156.86,265.82 157.73,266.69" fill="#a0522d"/>
<polygon points="166.38,268.91 165.51,269.78 164.29,269.78 163.42,268.91 163.42,267.69 164.29,266.82 165.51,266.82 166.38,267.69" fill="#a0522d"/>
<polygon points="175.03,269.81 174.16,270.68 172.94,270.68 172.07,269.81 172.07,268.59 172.94,267.72 174.16,267.72 175.03,268.59" fill="#a0522d"/>
<polygon points="183.68,270.61 182.81,271.48 181.59,271.48 180.72,270.61 180.72,269.39 181.59,268.52 182.81,268.52 183.68,269.39" fill="#a0522d"/>
<polygon points="192.33,271.41 191.46,272.28 190.24,272.28 189.37,271.41 189.37,270.19 190.24,269.32 191.46,269.32 192.33,270.19" fill="#a0522d"/>
<polygon points="200.98,272.11 200.11,272.98 198.89,272.98 198.02,272.11 198.02,270.89 198.89,270.02 200.11,270.02 200.98,270.89" fill="#a0522d"/>
<polygon points="209.63,272.81 208.76,273.68 207.54,273.68 206.67,272.81 206.67,271.59 207.54,270.72 208.76,270.72 209.63,271.59" fill="#a0522d"/>
<polygon points="218.28,273.41 217.41,274.28 216.19,274.28 215.32,273.41 215.32,272.19 216.19,271.32 217.41,271.32 218.28,272.19" fill="#a0522d"/>
<path d="M43.80 169.70 L52.45 203.00 L61.10 223.00 L69.75 237.00 L78.40 245.00 L87.05 250.00 L95.70 254.00 L104.35 257.00 L113.00 259.50 L121.65 261.50 L130.30 263.00 L138.95 264.50 L147.60 266.00 L156.25 267.00 L164.90 268.00 L173.55 268.80 L182.20 269.50 L190.85 270.20 L199.50 270.80 L208.15 271.30 L216.80 271.80" fill="none" stroke="#ee82ee" stroke-opacity="0.9" stroke-width="1.15"/>
<polygon points="43.08,167.70 44.52,167.70 44.52,168.98 45.80,168.98 45.80,170.42 44.52,170.42 44.52,171.70 43.08,171.70 43.08,170.42 41.80,170.42 41.80,168.98 43.08,168.98" fill="#ee82ee"/>
<polygon points="51.73,201.00 53.17,201.00 53.17,202.28 54.45,202.28 54.45,203.72 53.17,203.72 53.17,205.00 51.73,205.00 51.73,203.72 50.45,203.72 50.45,202.28 51.73,202.28" fill="#ee82ee"/>
<polygon points="60.38,221.00 61.82,221.00 61.82,222.28 63.10,222.28 63.10,223.72 61.82,223.72 61.82,225.00 60.38,225.00 60.38,223.72 59.10,223.72 59.10,222.28 60.38,222.28" fill="#ee82ee"/>
<polygon points="69.03,235.00 70.47,235.00 70.47,236.28 71.75,236.28 71.75,237.72 70.47,237.72 70.47,239.00 69.03,239.00 69.03,237.72 67.75,237.72 67.75,236.28 69.03,236.28" fill="#ee82ee"/>
<polygon points="77.68,243.00 79.12,243.00 79.12,244.28 80.40,244.28 80.40,245.72 79.12,245.72 79.12,247.00 77.68,247.00 77.68,245.72 76.40,245.72 76.40,244.28 77.68,244.28" fill="#ee82ee"/>
<polygon points="86.33,248.00 87.77,248.00 87.77,249.28 89.05,249.28 89.05,250.72 87.77,250.72 87.77,252.00 86.33,252.00 86.33,250.72 85.05,250.72 85.05,249.28 86.33,249.28" fill="#ee82ee"/>
<polygon points="94.98,252.00 96.42,252.00 96.42,253.28 97.70,253.28 97.70,254.72 96.42,254.72 96.42,256.00 94.98,256.00 94.98,254.72 93.70,254.72 93.70,253.28 94.98,253.28" fill="#ee82ee"/>
<polygon points="103.63,255.00 105.07,255.00 105.07,256.28 106.35,256.28 106.35,257.72 105.07,257.72 105.07,259.00 103.63,259.00 103.63,257.72 102.35,257.72 102.35,256.28 103.63,256.28" fill="#ee82ee"/>
<polygon points="112.28,257.50 113.72,257.50 113.72,258.78 115.00,258.78 115.00,260.22 113.72,260.22 113.72,261.50 112.28,261.50 112.28,260.22 111.00,260.22 111.00,258.78 112.28,258.78" fill="#ee82ee"/>
<polygon points="120.93,259.50 122.37,259.50 122.37,260.78 123.65,260.78 123.65,262.22 122.37,262.22 122.37,263.50 120.93,263.50 120.93,262.22 119.65,262.22 119.65,260.78 120.93,260.78" fill="#ee82ee"/>
<polygon points="129.58,261.00 131.02,261.00 131.02,262.28 132.30,262.28 132.30,263.72 131.02,263.72 131.02,265.00 129.58,265.00 129.58,263.72 128.30,263.72 128.30,262.28 129.58,262.28" fill="#ee82ee"/>
<polygon points="138.23,262.50 139.67,262.50 139.67,263.78 140.95,263.78 140.95,265.22 139.67,265.22 139.67,266.50 138.23,266.50 138.23,265.22 136.95,265.22 136.95,263.78 138.23,263.78" fill="#ee82ee"/>
<polygon points="146.88,264.00 148.32,264.00 148.32,265.28 149.60,265.28 149.60,266.72 148.32,266.72 148.32,268.00 146.88,268.00 146.88,266.72 145.60,266.72 145.60,265.28 146.88,265.28" fill="#ee82ee"/>
<polygon points="155.53,265.00 156.97,265.00 156.97,266.28 158.25,266.28 158.25,267.72 156.97,267.72 156.97,269.00 155.53,269.00 155.53,267.72 154.25,267.72 154.25,266.28 155.53,266.28" fill="#ee82ee"/>
<polygon points="164.18,266.00 165.62,266.00 165.62,267.28 166.90,267.28 166.90,268.72 165.62,268.72 165.62,270.00 164.18,270.00 164.18,268.72 162.90,268.72 162.90,267.28 164.18,267.28" fill="#ee82ee"/>
<polygon points="172.83,266.80 174.27,266.80 174.27,268.08 175.55,268.08 175.55,269.52 174.27,269.52 174.27,270.80 172.83,270.80 172.83,269.52 171.55,269.52 171.55,268.08 172.83,268.08" fill="#ee82ee"/>
<polygon points="181.48,267.50 182.92,267.50 182.92,268.78 184.20,268.78 184.20,270.22 182.92,270.22 182.92,271.50 181.48,271.50 181.48,270.22 180.20,270.22 180.20,268.78 181.48,268.78" fill="#ee82ee"/>
<polygon points="190.13,268.20 191.57,268.20 191.57,269.48 192.85,269.48 192.85,270.92 191.57,270.92 191.57,272.20 190.13,272.20 190.13,270.92 188.85,270.92 188.85,269.48 190.13,269.48" fill="#ee82ee"/>
<polygon points="198.78,268.80 200.22,268.80 200.22,270.08 201.50,270.08 201.50,271.52 200.22,271.52 200.22,272.80 198.78,272.80 198.78,271.52 197.50,271.52 197.50,270.08 198.78,270.08" fill="#ee82ee"/>
<polygon points="207.43,269.30 208.87,269.30 208.87,270.58 210.15,270.58 210.15,272.02 208.87,272.02 208.87,273.30 207.43,273.30 207.43,272.02 206.15,272.02 206.15,270.58 207.43,270.58" fill="#ee82ee"/>
<polygon points="216.08,269.80 217.52,269.80 217.52,271.08 218.80,271.08 218.80,272.52 217.52,272.52 217.52,273.80 216.08,273.80 216.08,272.52 214.80,272.52 214.80,271.08 216.08,271.08" fill="#ee82ee"/>
<path d="M43.80 169.70 L52.45 200.00 L61.10 222.00 L69.75 235.00 L78.40 242.00 L87.05 246.00 L95.70 248.50 L104.35 250.50 L113.00 251.50 L121.65 252.50 L130.30 253.00 L138.95 254.00 L147.60 255.00 L156.25 255.50 L164.90 257.10 L173.55 258.20 L182.20 258.50 L190.85 259.20 L199.50 259.50 L208.15 260.00 L216.80 260.40" fill="none" stroke="#707070" stroke-opacity="0.8" stroke-width="1.15"/>
<path d="M42.38 168.27L45.22 171.12M42.38 171.12L45.22 168.27" stroke="#555555" stroke-width="1.1"/>
<path d="M51.02 198.57L53.87 201.43M51.02 201.43L53.87 198.57" stroke="#555555" stroke-width="1.1"/>
<path d="M59.67 220.57L62.52 223.43M59.67 223.43L62.52 220.57" stroke="#555555" stroke-width="1.1"/>
<path d="M68.33 233.57L71.17 236.43M68.33 236.43L71.17 233.57" stroke="#555555" stroke-width="1.1"/>
<path d="M76.98 240.57L79.83 243.43M76.98 243.43L79.83 240.57" stroke="#555555" stroke-width="1.1"/>
<path d="M85.62 244.57L88.47 247.43M85.62 247.43L88.47 244.57" stroke="#555555" stroke-width="1.1"/>
<path d="M94.27 247.07L97.12 249.93M94.27 249.93L97.12 247.07" stroke="#555555" stroke-width="1.1"/>
<path d="M102.92 249.07L105.77 251.93M102.92 251.93L105.77 249.07" stroke="#555555" stroke-width="1.1"/>
<path d="M111.58 250.07L114.42 252.93M111.58 252.93L114.42 250.07" stroke="#555555" stroke-width="1.1"/>
<path d="M120.22 251.07L123.07 253.93M120.22 253.93L123.07 251.07" stroke="#555555" stroke-width="1.1"/>
<path d="M128.88 251.57L131.73 254.43M128.88 254.43L131.73 251.57" stroke="#555555" stroke-width="1.1"/>
<path d="M137.52 252.57L140.38 255.43M137.52 255.43L140.38 252.57" stroke="#555555" stroke-width="1.1"/>
<path d="M146.17 253.57L149.03 256.43M146.17 256.43L149.03 253.57" stroke="#555555" stroke-width="1.1"/>
<path d="M154.82 254.07L157.68 256.93M154.82 256.93L157.68 254.07" stroke="#555555" stroke-width="1.1"/>
<path d="M163.47 255.68L166.32 258.53M163.47 258.53L166.32 255.68" stroke="#555555" stroke-width="1.1"/>
<path d="M172.12 256.77L174.98 259.62M172.12 259.62L174.98 256.77" stroke="#555555" stroke-width="1.1"/>
<path d="M180.77 257.07L183.62 259.93M180.77 259.93L183.62 257.07" stroke="#555555" stroke-width="1.1"/>
<path d="M189.43 257.77L192.28 260.62M189.43 260.62L192.28 257.77" stroke="#555555" stroke-width="1.1"/>
<path d="M198.07 258.07L200.93 260.93M198.07 260.93L200.93 258.07" stroke="#555555" stroke-width="1.1"/>
<path d="M206.72 258.57L209.57 261.43M206.72 261.43L209.57 258.57" stroke="#555555" stroke-width="1.1"/>
<path d="M215.38 258.97L218.23 261.82M215.38 261.82L218.23 258.97" stroke="#555555" stroke-width="1.1"/>
<path d="M43.80 169.70 L52.45 205.00 L61.10 224.00 L69.75 237.00 L78.40 244.00 L87.05 249.00 L95.70 253.00 L104.35 256.00 L113.00 258.50 L121.65 260.00 L130.30 261.20 L138.95 263.30 L147.60 265.30 L156.25 266.40 L164.90 267.40 L173.55 268.00 L182.20 268.50 L190.85 269.00 L199.50 269.50 L208.15 270.00 L216.80 270.50" fill="none" stroke="#c000c0" stroke-opacity="0.8" stroke-width="1.15"/>
<polygon points="43.80,167.60 45.06,169.70 43.80,171.80 42.54,169.70" fill="#c000c0"/>
<polygon points="52.45,202.90 53.71,205.00 52.45,207.10 51.19,205.00" fill="#c000c0"/>
<polygon points="61.10,221.90 62.36,224.00 61.10,226.10 59.84,224.00" fill="#c000c0"/>
<polygon points="69.75,234.90 71.01,237.00 69.75,239.10 68.49,237.00" fill="#c000c0"/>
<polygon points="78.40,241.90 79.66,244.00 78.40,246.10 77.14,244.00" fill="#c000c0"/>
<polygon points="87.05,246.90 88.31,249.00 87.05,251.10 85.79,249.00" fill="#c000c0"/>
<polygon points="95.70,250.90 96.96,253.00 95.70,255.10 94.44,253.00" fill="#c000c0"/>
<polygon points="104.35,253.90 105.61,256.00 104.35,258.10 103.09,256.00" fill="#c000c0"/>
<polygon points="113.00,256.40 114.26,258.50 113.00,260.60 111.74,258.50" fill="#c000c0"/>
<polygon points="121.65,257.90 122.91,260.00 121.65,262.10 120.39,260.00" fill="#c000c0"/>
<polygon points="130.30,259.10 131.56,261.20 130.30,263.30 129.04,261.20" fill="#c000c0"/>
<polygon points="138.95,261.20 140.21,263.30 138.95,265.40 137.69,263.30" fill="#c000c0"/>
<polygon points="147.60,263.20 148.86,265.30 147.60,267.40 146.34,265.30" fill="#c000c0"/>
<polygon points="156.25,264.30 157.51,266.40 156.25,268.50 154.99,266.40" fill="#c000c0"/>
<polygon points="164.90,265.30 166.16,267.40 164.90,269.50 163.64,267.40" fill="#c000c0"/>
<polygon points="173.55,265.90 174.81,268.00 173.55,270.10 172.29,268.00" fill="#c000c0"/>
<polygon points="182.20,266.40 183.46,268.50 182.20,270.60 180.94,268.50" fill="#c000c0"/>
<polygon points="190.85,266.90 192.11,269.00 190.85,271.10 189.59,269.00" fill="#c000c0"/>
<polygon points="199.50,267.40 200.76,269.50 199.50,271.60 198.24,269.50" fill="#c000c0"/>
<polygon points="208.15,267.90 209.41,270.00 208.15,272.10 206.89,270.00" fill="#c000c0"/>
<polygon points="216.80,268.40 218.06,270.50 216.80,272.60 215.54,270.50" fill="#c000c0"/>
<path d="M43.80 169.70 L52.45 203.00 L61.10 222.00 L69.75 236.00 L78.40 243.00 L87.05 248.00 L95.70 251.00 L104.35 253.00 L113.00 255.00 L121.65 257.00 L130.30 258.20 L138.95 259.50 L147.60 262.40 L156.25 263.50 L164.90 265.60 L173.55 267.40 L182.20 267.00 L190.85 268.00 L199.50 269.30 L208.15 269.80 L216.80 270.40" fill="none" stroke="#4169e1" stroke-opacity="0.6" stroke-width="1.15"/>
<rect x="42.15" y="168.05" width="3.30" height="3.30" fill="#4169e1"/>
<rect x="50.80" y="201.35" width="3.30" height="3.30" fill="#4169e1"/>
<rect x="59.45" y="220.35" width="3.30" height="3.30" fill="#4169e1"/>
<rect x="68.10" y="234.35" width="3.30" height="3.30" fill="#4169e1"/>
<rect x="76.75" y="241.35" width="3.30" height="3.30" fill="#4169e1"/>
<rect x="85.40" y="246.35" width="3.30" height="3.30" fill="#4169e1"/>
<rect x="94.05" y="249.35" width="3.30" height="3.30" fill="#4169e1"/>
<rect x="102.70" y="251.35" width="3.30" height="3.30" fill="#4169e1"/>
<rect x="111.35" y="253.35" width="3.30" height="3.30" fill="#4169e1"/>
<rect x="120.00" y="255.35" width="3.30" height="3.30" fill="#4169e1"/>
<rect x="128.65" y="256.55" width="3.30" height="3.30" fill="#4169e1"/>
<rect x="137.30" y="257.85" width="3.30" height="3.30" fill="#4169e1"/>
<rect x="145.95" y="260.75" width="3.30" height="3.30" fill="#4169e1"/>
<rect x="154.60" y="261.85" width="3.30" height="3.30" fill="#4169e1"/>
<rect x="163.25" y="263.95" width="3.30" height="3.30" fill="#4169e1"/>
<rect x="171.90" y="265.75" width="3.30" height="3.30" fill="#4169e1"/>
<rect x="180.55" y="265.35" width="3.30" height="3.30" fill="#4169e1"/>
<rect x="189.20" y="266.35" width="3.30" height="3.30" fill="#4169e1"/>
<rect x="197.85" y="267.65" width="3.30" height="3.30" fill="#4169e1"/>
<rect x="206.50" y="268.15" width="3.30" height="3.30" fill="#4169e1"/>
<rect x="215.15" y="268.75" width="3.30" height="3.30" fill="#4169e1"/>
<path d="M43.80 169.70 L52.45 210.30 L61.10 225.00 L69.75 236.50 L78.40 242.50 L87.05 246.20 L95.70 249.00 L104.35 249.50 L113.00 250.00 L121.65 253.30 L130.30 255.50 L138.95 258.20 L147.60 257.00 L156.25 258.50 L164.90 260.40 L173.55 261.50 L182.20 262.40 L190.85 263.80 L199.50 264.40 L208.15 266.80 L216.80 267.90" fill="none" stroke="#4b0082" stroke-opacity="0.75" stroke-width="1.15"/>
<circle cx="43.80" cy="169.70" r="1.70" fill="#4b0082"/>
<circle cx="52.45" cy="210.30" r="1.70" fill="#4b0082"/>
<circle cx="61.10" cy="225.00" r="1.70" fill="#4b0082"/>
<circle cx="69.75" cy="236.50" r="1.70" fill="#4b0082"/>
<circle cx="78.40" cy="242.50" r="1.70" fill="#4b0082"/>
<circle cx="87.05" cy="246.20" r="1.70" fill="#4b0082"/>
<circle cx="95.70" cy="249.00" r="1.70" fill="#4b0082"/>
<circle cx="104.35" cy="249.50" r="1.70" fill="#4b0082"/>
<circle cx="113.00" cy="250.00" r="1.70" fill="#4b0082"/>
<circle cx="121.65" cy="253.30" r="1.70" fill="#4b0082"/>
<circle cx="130.30" cy="255.50" r="1.70" fill="#4b0082"/>
<circle cx="138.95" cy="258.20" r="1.70" fill="#4b0082"/>
<circle cx="147.60" cy="257.00" r="1.70" fill="#4b0082"/>
<circle cx="156.25" cy="258.50" r="1.70" fill="#4b0082"/>
<circle cx="164.90" cy="260.40" r="1.70" fill="#4b0082"/>
<circle cx="173.55" cy="261.50" r="1.70" fill="#4b0082"/>
<circle cx="182.20" cy="262.40" r="1.70" fill="#4b0082"/>
<circle cx="190.85" cy="263.80" r="1.70" fill="#4b0082"/>
<circle cx="199.50" cy="264.40" r="1.70" fill="#4b0082"/>
<circle cx="208.15" cy="266.80" r="1.70" fill="#4b0082"/>
<circle cx="216.80" cy="267.90" r="1.70" fill="#4b0082"/>
<path d="M43.80 169.70 L52.45 196.80 L61.10 225.70 L69.75 239.20 L78.40 246.40 L87.05 251.80 L95.70 255.00 L104.35 257.50 L113.00 259.50 L121.65 261.00 L130.30 262.50 L138.95 264.00 L147.60 265.50 L156.25 266.50 L164.90 267.50 L173.55 268.30 L182.20 269.00 L190.85 269.80 L199.50 270.50 L208.15 271.00 L216.80 271.50" fill="none" stroke="#00c0c0" stroke-opacity="0.5" stroke-width="1.15"/>
<polygon points="43.80,171.80 45.69,168.23 41.91,168.23" fill="#20c0c0"/>
<polygon points="52.45,198.90 54.34,195.33 50.56,195.33" fill="#20c0c0"/>
<polygon points="61.10,227.80 62.99,224.23 59.21,224.23" fill="#20c0c0"/>
<polygon points="69.75,241.30 71.64,237.73 67.86,237.73" fill="#20c0c0"/>
<polygon points="78.40,248.50 80.29,244.93 76.51,244.93" fill="#20c0c0"/>
<polygon points="87.05,253.90 88.94,250.33 85.16,250.33" fill="#20c0c0"/>
<polygon points="95.70,257.10 97.59,253.53 93.81,253.53" fill="#20c0c0"/>
<polygon points="104.35,259.60 106.24,256.03 102.46,256.03" fill="#20c0c0"/>
<polygon points="113.00,261.60 114.89,258.03 111.11,258.03" fill="#20c0c0"/>
<polygon points="121.65,263.10 123.54,259.53 119.76,259.53" fill="#20c0c0"/>
<polygon points="130.30,264.60 132.19,261.03 128.41,261.03" fill="#20c0c0"/>
<polygon points="138.95,266.10 140.84,262.53 137.06,262.53" fill="#20c0c0"/>
<polygon points="147.60,267.60 149.49,264.03 145.71,264.03" fill="#20c0c0"/>
<polygon points="156.25,268.60 158.14,265.03 154.36,265.03" fill="#20c0c0"/>
<polygon points="164.90,269.60 166.79,266.03 163.01,266.03" fill="#20c0c0"/>
<polygon points="173.55,270.40 175.44,266.83 171.66,266.83" fill="#20c0c0"/>
<polygon points="182.20,271.10 184.09,267.53 180.31,267.53" fill="#20c0c0"/>
<polygon points="190.85,271.90 192.74,268.33 188.96,268.33" fill="#20c0c0"/>
<polygon points="199.50,272.60 201.39,269.03 197.61,269.03" fill="#20c0c0"/>
<polygon points="208.15,273.10 210.04,269.53 206.26,269.53" fill="#20c0c0"/>
<polygon points="216.80,273.60 218.69,270.03 214.91,270.03" fill="#20c0c0"/>
<path d="M43.80 169.70 L52.45 214.50 L61.10 231.40 L69.75 241.90 L78.40 249.40 L87.05 255.60 L95.70 258.90 L104.35 263.00 L113.00 264.50 L121.65 265.50 L130.30 266.40 L138.95 267.90 L147.60 269.30 L156.25 270.40 L164.90 270.80 L173.55 271.30 L182.20 271.60 L190.85 272.30 L199.50 272.80 L208.15 273.40 L216.80 274.30" fill="none" stroke="#ff0000" stroke-opacity="0.8" stroke-width="1.15"/>
<circle cx="43.80" cy="169.70" r="1.80" fill="#ff0000"/>
<circle cx="52.45" cy="214.50" r="1.80" fill="#ff0000"/>
<circle cx="61.10" cy="231.40" r="1.80" fill="#ff0000"/>
<circle cx="69.75" cy="241.90" r="1.80" fill="#ff0000"/>
<circle cx="78.40" cy="249.40" r="1.80" fill="#ff0000"/>
<circle cx="87.05" cy="255.60" r="1.80" fill="#ff0000"/>
<circle cx="95.70" cy="258.90" r="1.80" fill="#ff0000"/>
<circle cx="104.35" cy="263.00" r="1.80" fill="#ff0000"/>
<circle cx="113.00" cy="264.50" r="1.80" fill="#ff0000"/>
<circle cx="121.65" cy="265.50" r="1.80" fill="#ff0000"/>
<circle cx="130.30" cy="266.40" r="1.80" fill="#ff0000"/>
<circle cx="138.95" cy="267.90" r="1.80" fill="#ff0000"/>
<circle cx="147.60" cy="269.30" r="1.80" fill="#ff0000"/>
<circle cx="156.25" cy="270.40" r="1.80" fill="#ff0000"/>
<circle cx="164.90" cy="270.80" r="1.80" fill="#ff0000"/>
<circle cx="173.55" cy="271.30" r="1.80" fill="#ff0000"/>
<circle cx="182.20" cy="271.60" r="1.80" fill="#ff0000"/>
<circle cx="190.85" cy="272.30" r="1.80" fill="#ff0000"/>
<circle cx="199.50" cy="272.80" r="1.80" fill="#ff0000"/>
<circle cx="208.15" cy="273.40" r="1.80" fill="#ff0000"/>
<circle cx="216.80" cy="274.30" r="1.80" fill="#ff0000"/>
</g>
<rect x="35.4" y="167.5" width="190.40" height="110.70" fill="none" stroke="#333" stroke-width="1"/>
<line x1="43.80" y1="278.2" x2="43.80" y2="281.00" stroke="#333" stroke-width="0.9"/>
<text class="s" x="43.80" y="287.80" text-anchor="middle">0</text>
<line x1="65.42" y1="278.2" x2="65.42" y2="281.00" stroke="#333" stroke-width="0.9"/>
<text class="s" x="65.42" y="287.80" text-anchor="middle">10</text>
<line x1="87.05" y1="278.2" x2="87.05" y2="281.00" stroke="#333" stroke-width="0.9"/>
<text class="s" x="87.05" y="287.80" text-anchor="middle">20</text>
<line x1="108.67" y1="278.2" x2="108.67" y2="281.00" stroke="#333" stroke-width="0.9"/>
<text class="s" x="108.67" y="287.80" text-anchor="middle">30</text>
<line x1="130.30" y1="278.2" x2="130.30" y2="281.00" stroke="#333" stroke-width="0.9"/>
<text class="s" x="130.30" y="287.80" text-anchor="middle">40</text>
<line x1="151.93" y1="278.2" x2="151.93" y2="281.00" stroke="#333" stroke-width="0.9"/>
<text class="s" x="151.93" y="287.80" text-anchor="middle">50</text>
<line x1="173.55" y1="278.2" x2="173.55" y2="281.00" stroke="#333" stroke-width="0.9"/>
<text class="s" x="173.55" y="287.80" text-anchor="middle">60</text>
<line x1="195.18" y1="278.2" x2="195.18" y2="281.00" stroke="#333" stroke-width="0.9"/>
<text class="s" x="195.18" y="287.80" text-anchor="middle">70</text>
<line x1="216.80" y1="278.2" x2="216.80" y2="281.00" stroke="#333" stroke-width="0.9"/>
<text class="s" x="216.80" y="287.80" text-anchor="middle">80</text>
<line x1="32.60" y1="267.00" x2="35.4" y2="267.00" stroke="#333" stroke-width="0.9"/>
<text class="s" x="30.80" y="269.55" text-anchor="end">0.1</text>
<line x1="32.60" y1="243.56" x2="35.4" y2="243.56" stroke="#333" stroke-width="0.9"/>
<text class="s" x="30.80" y="246.11" text-anchor="end">0.2</text>
<line x1="32.60" y1="220.12" x2="35.4" y2="220.12" stroke="#333" stroke-width="0.9"/>
<text class="s" x="30.80" y="222.68" text-anchor="end">0.3</text>
<line x1="32.60" y1="196.69" x2="35.4" y2="196.69" stroke="#333" stroke-width="0.9"/>
<text class="s" x="30.80" y="199.24" text-anchor="end">0.4</text>
<line x1="32.60" y1="173.25" x2="35.4" y2="173.25" stroke="#333" stroke-width="0.9"/>
<text class="s" x="30.80" y="175.80" text-anchor="end">0.5</text>
<text class="t" x="130.60" y="163.90" text-anchor="middle">Knowledge</text>
<text class="t xl" x="130.60" y="298.50" text-anchor="middle">Number of queries</text>
<text class="t" x="0" y="0" text-anchor="middle" transform="translate(16.45,222.85) rotate(-90)">MZE</text>
</g>
<g>
<line x1="271.50" y1="167.5" x2="271.50" y2="278.2" stroke="#b0b0b0" stroke-width="0.8"/>
<line x1="306.10" y1="167.5" x2="306.10" y2="278.2" stroke="#b0b0b0" stroke-width="0.8"/>
<line x1="340.70" y1="167.5" x2="340.70" y2="278.2" stroke="#b0b0b0" stroke-width="0.8"/>
<line x1="375.30" y1="167.5" x2="375.30" y2="278.2" stroke="#b0b0b0" stroke-width="0.8"/>
<line x1="409.90" y1="167.5" x2="409.90" y2="278.2" stroke="#b0b0b0" stroke-width="0.8"/>
<line x1="444.50" y1="167.5" x2="444.50" y2="278.2" stroke="#b0b0b0" stroke-width="0.8"/>
<line x1="262.8" y1="273.75" x2="453.6" y2="273.75" stroke="#b0b0b0" stroke-width="0.8"/>
<line x1="262.8" y1="250.62" x2="453.6" y2="250.62" stroke="#b0b0b0" stroke-width="0.8"/>
<line x1="262.8" y1="227.50" x2="453.6" y2="227.50" stroke="#b0b0b0" stroke-width="0.8"/>
<line x1="262.8" y1="204.37" x2="453.6" y2="204.37" stroke="#b0b0b0" stroke-width="0.8"/>
<line x1="262.8" y1="181.25" x2="453.6" y2="181.25" stroke="#b0b0b0" stroke-width="0.8"/>
<defs><clipPath id="c4"><rect x="262.8" y="167.5" width="190.8" height="110.69999999999999"/></clipPath></defs>
<g clip-path="url(#c4)">
<path d="M271.50 172.60 L280.15 193.00 L288.80 205.00 L297.45 210.00 L306.10 215.00 L314.75 219.00 L323.40 222.00 L332.05 226.00 L340.70 229.00 L349.35 232.00 L358.00 234.00 L366.65 235.10 L375.30 238.00 L383.95 243.00 L392.60 245.80 L401.25 251.30 L409.90 250.60 L418.55 251.30 L427.20 253.00 L435.85 253.70 L444.50 255.00" fill="none" stroke="#0000ff" stroke-opacity="0.7" stroke-width="1.15"/>
<circle cx="271.50" cy="172.60" r="1.10" fill="#0000ff"/>
<circle cx="280.15" cy="193.00" r="1.10" fill="#0000ff"/>
<circle cx="288.80" cy="205.00" r="1.10" fill="#0000ff"/>
<circle cx="297.45" cy="210.00" r="1.10" fill="#0000ff"/>
<circle cx="306.10" cy="215.00" r="1.10" fill="#0000ff"/>
<circle cx="314.75" cy="219.00" r="1.10" fill="#0000ff"/>
<circle cx="323.40" cy="222.00" r="1.10" fill="#0000ff"/>
<circle cx="332.05" cy="226.00" r="1.10" fill="#0000ff"/>
<circle cx="340.70" cy="229.00" r="1.10" fill="#0000ff"/>
<circle cx="349.35" cy="232.00" r="1.10" fill="#0000ff"/>
<circle cx="358.00" cy="234.00" r="1.10" fill="#0000ff"/>
<circle cx="366.65" cy="235.10" r="1.10" fill="#0000ff"/>
<circle cx="375.30" cy="238.00" r="1.10" fill="#0000ff"/>
<circle cx="383.95" cy="243.00" r="1.10" fill="#0000ff"/>
<circle cx="392.60" cy="245.80" r="1.10" fill="#0000ff"/>
<circle cx="401.25" cy="251.30" r="1.10" fill="#0000ff"/>
<circle cx="409.90" cy="250.60" r="1.10" fill="#0000ff"/>
<circle cx="418.55" cy="251.30" r="1.10" fill="#0000ff"/>
<circle cx="427.20" cy="253.00" r="1.10" fill="#0000ff"/>
<circle cx="435.85" cy="253.70" r="1.10" fill="#0000ff"/>
<circle cx="444.50" cy="255.00" r="1.10" fill="#0000ff"/>
<path d="M271.50 172.60 L280.15 192.00 L288.80 210.00 L297.45 215.00 L306.10 222.00 L314.75 228.00 L323.40 233.00 L332.05 236.00 L340.70 240.00 L349.35 243.00 L358.00 245.80 L366.65 249.00 L375.30 250.60 L383.95 255.00 L392.60 254.50 L401.25 258.80 L409.90 260.00 L418.55 260.80 L427.20 263.20 L435.85 265.50 L444.50 267.10" fill="none" stroke="#ff8c00" stroke-opacity="0.8" stroke-width="1.15"/>
<polygon points="269.40,172.60 272.97,170.71 272.97,174.49" fill="#ff8c00"/>
<polygon points="278.05,192.00 281.62,190.11 281.62,193.89" fill="#ff8c00"/>
<polygon points="286.70,210.00 290.27,208.11 290.27,211.89" fill="#ff8c00"/>
<polygon points="295.35,215.00 298.92,213.11 298.92,216.89" fill="#ff8c00"/>
<polygon points="304.00,222.00 307.57,220.11 307.57,223.89" fill="#ff8c00"/>
<polygon points="312.65,228.00 316.22,226.11 316.22,229.89" fill="#ff8c00"/>
<polygon points="321.30,233.00 324.87,231.11 324.87,234.89" fill="#ff8c00"/>
<polygon points="329.95,236.00 333.52,234.11 333.52,237.89" fill="#ff8c00"/>
<polygon points="338.60,240.00 342.17,238.11 342.17,241.89" fill="#ff8c00"/>
<polygon points="347.25,243.00 350.82,241.11 350.82,244.89" fill="#ff8c00"/>
<polygon points="355.90,245.80 359.47,243.91 359.47,247.69" fill="#ff8c00"/>
<polygon points="364.55,249.00 368.12,247.11 368.12,250.89" fill="#ff8c00"/>
<polygon points="373.20,250.60 376.77,248.71 376.77,252.49" fill="#ff8c00"/>
<polygon points="381.85,255.00 385.42,253.11 385.42,256.89" fill="#ff8c00"/>
<polygon points="390.50,254.50 394.07,252.61 394.07,256.39" fill="#ff8c00"/>
<polygon points="399.15,258.80 402.72,256.91 402.72,260.69" fill="#ff8c00"/>
<polygon points="407.80,260.00 411.37,258.11 411.37,261.89" fill="#ff8c00"/>
<polygon points="416.45,260.80 420.02,258.91 420.02,262.69" fill="#ff8c00"/>
<polygon points="425.10,263.20 428.67,261.31 428.67,265.09" fill="#ff8c00"/>
<polygon points="433.75,265.50 437.32,263.61 437.32,267.39" fill="#ff8c00"/>
<polygon points="442.40,267.10 445.97,265.21 445.97,268.99" fill="#ff8c00"/>
<path d="M271.50 172.60 L280.15 188.00 L288.80 196.00 L297.45 200.20 L306.10 212.00 L314.75 220.00 L323.40 226.00 L332.05 231.00 L340.70 235.00 L349.35 238.00 L358.00 241.00 L366.65 244.00 L375.30 247.00 L383.95 250.00 L392.60 253.00 L401.25 256.00 L409.90 259.00 L418.55 262.00 L427.20 265.00 L435.85 269.50 L444.50 273.50" fill="none" stroke="#bcbd22" stroke-opacity="0.6" stroke-width="1.15"/>
<polygon points="273.60,172.60 270.03,170.71 270.03,174.49" fill="#bcbd22"/>
<polygon points="282.25,188.00 278.68,186.11 278.68,189.89" fill="#bcbd22"/>
<polygon points="290.90,196.00 287.33,194.11 287.33,197.89" fill="#bcbd22"/>
<polygon points="299.55,200.20 295.98,198.31 295.98,202.09" fill="#bcbd22"/>
<polygon points="308.20,212.00 304.63,210.11 304.63,213.89" fill="#bcbd22"/>
<polygon points="316.85,220.00 313.28,218.11 313.28,221.89" fill="#bcbd22"/>
<polygon points="325.50,226.00 321.93,224.11 321.93,227.89" fill="#bcbd22"/>
<polygon points="334.15,231.00 330.58,229.11 330.58,232.89" fill="#bcbd22"/>
<polygon points="342.80,235.00 339.23,233.11 339.23,236.89" fill="#bcbd22"/>
<polygon points="351.45,238.00 347.88,236.11 347.88,239.89" fill="#bcbd22"/>
<polygon points="360.10,241.00 356.53,239.11 356.53,242.89" fill="#bcbd22"/>
<polygon points="368.75,244.00 365.18,242.11 365.18,245.89" fill="#bcbd22"/>
<polygon points="377.40,247.00 373.83,245.11 373.83,248.89" fill="#bcbd22"/>
<polygon points="386.05,250.00 382.48,248.11 382.48,251.89" fill="#bcbd22"/>
<polygon points="394.70,253.00 391.13,251.11 391.13,254.89" fill="#bcbd22"/>
<polygon points="403.35,256.00 399.78,254.11 399.78,257.89" fill="#bcbd22"/>
<polygon points="412.00,259.00 408.43,257.11 408.43,260.89" fill="#bcbd22"/>
<polygon points="420.65,262.00 417.08,260.11 417.08,263.89" fill="#bcbd22"/>
<polygon points="429.30,265.00 425.73,263.11 425.73,266.89" fill="#bcbd22"/>
<polygon points="437.95,269.50 434.38,267.61 434.38,271.39" fill="#bcbd22"/>
<polygon points="446.60,273.50 443.03,271.61 443.03,275.39" fill="#bcbd22"/>
<path d="M271.50 172.60 L280.15 190.00 L288.80 202.00 L297.45 210.00 L306.10 217.00 L314.75 223.00 L323.40 228.00 L332.05 232.00 L340.70 235.00 L349.35 238.00 L358.00 240.30 L366.65 245.80 L375.30 245.80 L383.95 251.30 L392.60 252.10 L401.25 254.50 L409.90 256.10 L418.55 259.20 L427.20 259.70 L435.85 262.40 L444.50 264.50" fill="none" stroke="#008000" stroke-opacity="0.75" stroke-width="1.15"/>
<polygon points="271.50,170.50 273.39,174.07 269.61,174.07" fill="#008000"/>
<polygon points="280.15,187.90 282.04,191.47 278.26,191.47" fill="#008000"/>
<polygon points="288.80,199.90 290.69,203.47 286.91,203.47" fill="#008000"/>
<polygon points="297.45,207.90 299.34,211.47 295.56,211.47" fill="#008000"/>
<polygon points="306.10,214.90 307.99,218.47 304.21,218.47" fill="#008000"/>
<polygon points="314.75,220.90 316.64,224.47 312.86,224.47" fill="#008000"/>
<polygon points="323.40,225.90 325.29,229.47 321.51,229.47" fill="#008000"/>
<polygon points="332.05,229.90 333.94,233.47 330.16,233.47" fill="#008000"/>
<polygon points="340.70,232.90 342.59,236.47 338.81,236.47" fill="#008000"/>
<polygon points="349.35,235.90 351.24,239.47 347.46,239.47" fill="#008000"/>
<polygon points="358.00,238.20 359.89,241.77 356.11,241.77" fill="#008000"/>
<polygon points="366.65,243.70 368.54,247.27 364.76,247.27" fill="#008000"/>
<polygon points="375.30,243.70 377.19,247.27 373.41,247.27" fill="#008000"/>
<polygon points="383.95,249.20 385.84,252.77 382.06,252.77" fill="#008000"/>
<polygon points="392.60,250.00 394.49,253.57 390.71,253.57" fill="#008000"/>
<polygon points="401.25,252.40 403.14,255.97 399.36,255.97" fill="#008000"/>
<polygon points="409.90,254.00 411.79,257.57 408.01,257.57" fill="#008000"/>
<polygon points="418.55,257.10 420.44,260.67 416.66,260.67" fill="#008000"/>
<polygon points="427.20,257.60 429.09,261.17 425.31,261.17" fill="#008000"/>
<polygon points="435.85,260.30 437.74,263.87 433.96,263.87" fill="#008000"/>
<polygon points="444.50,262.40 446.39,265.97 442.61,265.97" fill="#008000"/>
<path d="M271.50 172.60 L280.15 192.00 L288.80 200.00 L297.45 210.00 L306.10 218.00 L314.75 222.00 L323.40 226.00 L332.05 230.00 L340.70 233.00 L349.35 235.50 L358.00 237.90 L366.65 241.90 L375.30 245.00 L383.95 248.20 L392.60 249.80 L401.25 253.70 L409.90 256.90 L418.55 259.20 L427.20 260.80 L435.85 262.40 L444.50 264.80" fill="none" stroke="#a0522d" stroke-opacity="0.5" stroke-width="1.15"/>
<polygon points="272.98,173.21 272.11,174.08 270.89,174.08 270.02,173.21 270.02,171.99 270.89,171.12 272.11,171.12 272.98,171.99" fill="#a0522d"/>
<polygon points="281.63,192.61 280.76,193.48 279.54,193.48 278.67,192.61 278.67,191.39 279.54,190.52 280.76,190.52 281.63,191.39" fill="#a0522d"/>
<polygon points="290.28,200.61 289.41,201.48 288.19,201.48 287.32,200.61 287.32,199.39 288.19,198.52 289.41,198.52 290.28,199.39" fill="#a0522d"/>
<polygon points="298.93,210.61 298.06,211.48 296.84,211.48 295.97,210.61 295.97,209.39 296.84,208.52 298.06,208.52 298.93,209.39" fill="#a0522d"/>
<polygon points="307.58,218.61 306.71,219.48 305.49,219.48 304.62,218.61 304.62,217.39 305.49,216.52 306.71,216.52 307.58,217.39" fill="#a0522d"/>
<polygon points="316.23,222.61 315.36,223.48 314.14,223.48 313.27,222.61 313.27,221.39 314.14,220.52 315.36,220.52 316.23,221.39" fill="#a0522d"/>
<polygon points="324.88,226.61 324.01,227.48 322.79,227.48 321.92,226.61 321.92,225.39 322.79,224.52 324.01,224.52 324.88,225.39" fill="#a0522d"/>
<polygon points="333.53,230.61 332.66,231.48 331.44,231.48 330.57,230.61 330.57,229.39 331.44,228.52 332.66,228.52 333.53,229.39" fill="#a0522d"/>
<polygon points="342.18,233.61 341.31,234.48 340.09,234.48 339.22,233.61 339.22,232.39 340.09,231.52 341.31,231.52 342.18,232.39" fill="#a0522d"/>
<polygon points="350.83,236.11 349.96,236.98 348.74,236.98 347.87,236.11 347.87,234.89 348.74,234.02 349.96,234.02 350.83,234.89" fill="#a0522d"/>
<polygon points="359.48,238.51 358.61,239.38 357.39,239.38 356.52,238.51 356.52,237.29 357.39,236.42 358.61,236.42 359.48,237.29" fill="#a0522d"/>
<polygon points="368.13,242.51 367.26,243.38 366.04,243.38 365.17,242.51 365.17,241.29 366.04,240.42 367.26,240.42 368.13,241.29" fill="#a0522d"/>
<polygon points="376.78,245.61 375.91,246.48 374.69,246.48 373.82,245.61 373.82,244.39 374.69,243.52 375.91,243.52 376.78,244.39" fill="#a0522d"/>
<polygon points="385.43,248.81 384.56,249.68 383.34,249.68 382.47,248.81 382.47,247.59 383.34,246.72 384.56,246.72 385.43,247.59" fill="#a0522d"/>
<polygon points="394.08,250.41 393.21,251.28 391.99,251.28 391.12,250.41 391.12,249.19 391.99,248.32 393.21,248.32 394.08,249.19" fill="#a0522d"/>
<polygon points="402.73,254.31 401.86,255.18 400.64,255.18 399.77,254.31 399.77,253.09 400.64,252.22 401.86,252.22 402.73,253.09" fill="#a0522d"/>
<polygon points="411.38,257.51 410.51,258.38 409.29,258.38 408.42,257.51 408.42,256.29 409.29,255.42 410.51,255.42 411.38,256.29" fill="#a0522d"/>
<polygon points="420.03,259.81 419.16,260.68 417.94,260.68 417.07,259.81 417.07,258.59 417.94,257.72 419.16,257.72 420.03,258.59" fill="#a0522d"/>
<polygon points="428.68,261.41 427.81,262.28 426.59,262.28 425.72,261.41 425.72,260.19 426.59,259.32 427.81,259.32 428.68,260.19" fill="#a0522d"/>
<polygon points="437.33,263.01 436.46,263.88 435.24,263.88 434.37,263.01 434.37,261.79 435.24,260.92 436.46,260.92 437.33,261.79" fill="#a0522d"/>
<polygon points="445.98,265.41 445.11,266.28 443.89,266.28 443.02,265.41 443.02,264.19 443.89,263.32 445.11,263.32 445.98,264.19" fill="#a0522d"/>
<path d="M271.50 172.60 L280.15 190.00 L288.80 205.00 L297.45 215.00 L306.10 225.00 L314.75 236.00 L323.40 242.00 L332.05 245.50 L340.70 247.30 L349.35 250.40 L358.00 257.70 L366.65 254.50 L375.30 258.80 L383.95 263.20 L392.60 264.80 L401.25 264.00 L409.90 264.80 L418.55 263.20 L427.20 264.00 L435.85 265.50 L444.50 266.40" fill="none" stroke="#ee82ee" stroke-opacity="0.9" stroke-width="1.15"/>
<polygon points="270.78,170.60 272.22,170.60 272.22,171.88 273.50,171.88 273.50,173.32 272.22,173.32 272.22,174.60 270.78,174.60 270.78,173.32 269.50,173.32 269.50,171.88 270.78,171.88" fill="#ee82ee"/>
<polygon points="279.43,188.00 280.87,188.00 280.87,189.28 282.15,189.28 282.15,190.72 280.87,190.72 280.87,192.00 279.43,192.00 279.43,190.72 278.15,190.72 278.15,189.28 279.43,189.28" fill="#ee82ee"/>
<polygon points="288.08,203.00 289.52,203.00 289.52,204.28 290.80,204.28 290.80,205.72 289.52,205.72 289.52,207.00 288.08,207.00 288.08,205.72 286.80,205.72 286.80,204.28 288.08,204.28" fill="#ee82ee"/>
<polygon points="296.73,213.00 298.17,213.00 298.17,214.28 299.45,214.28 299.45,215.72 298.17,215.72 298.17,217.00 296.73,217.00 296.73,215.72 295.45,215.72 295.45,214.28 296.73,214.28" fill="#ee82ee"/>
<polygon points="305.38,223.00 306.82,223.00 306.82,224.28 308.10,224.28 308.10,225.72 306.82,225.72 306.82,227.00 305.38,227.00 305.38,225.72 304.10,225.72 304.10,224.28 305.38,224.28" fill="#ee82ee"/>
<polygon points="314.03,234.00 315.47,234.00 315.47,235.28 316.75,235.28 316.75,236.72 315.47,236.72 315.47,238.00 314.03,238.00 314.03,236.72 312.75,236.72 312.75,235.28 314.03,235.28" fill="#ee82ee"/>
<polygon points="322.68,240.00 324.12,240.00 324.12,241.28 325.40,241.28 325.40,242.72 324.12,242.72 324.12,244.00 322.68,244.00 322.68,242.72 321.40,242.72 321.40,241.28 322.68,241.28" fill="#ee82ee"/>
<polygon points="331.33,243.50 332.77,243.50 332.77,244.78 334.05,244.78 334.05,246.22 332.77,246.22 332.77,247.50 331.33,247.50 331.33,246.22 330.05,246.22 330.05,244.78 331.33,244.78" fill="#ee82ee"/>
<polygon points="339.98,245.30 341.42,245.30 341.42,246.58 342.70,246.58 342.70,248.02 341.42,248.02 341.42,249.30 339.98,249.30 339.98,248.02 338.70,248.02 338.70,246.58 339.98,246.58" fill="#ee82ee"/>
<polygon points="348.63,248.40 350.07,248.40 350.07,249.68 351.35,249.68 351.35,251.12 350.07,251.12 350.07,252.40 348.63,252.40 348.63,251.12 347.35,251.12 347.35,249.68 348.63,249.68" fill="#ee82ee"/>
<polygon points="357.28,255.70 358.72,255.70 358.72,256.98 360.00,256.98 360.00,258.42 358.72,258.42 358.72,259.70 357.28,259.70 357.28,258.42 356.00,258.42 356.00,256.98 357.28,256.98" fill="#ee82ee"/>
<polygon points="365.93,252.50 367.37,252.50 367.37,253.78 368.65,253.78 368.65,255.22 367.37,255.22 367.37,256.50 365.93,256.50 365.93,255.22 364.65,255.22 364.65,253.78 365.93,253.78" fill="#ee82ee"/>
<polygon points="374.58,256.80 376.02,256.80 376.02,258.08 377.30,258.08 377.30,259.52 376.02,259.52 376.02,260.80 374.58,260.80 374.58,259.52 373.30,259.52 373.30,258.08 374.58,258.08" fill="#ee82ee"/>
<polygon points="383.23,261.20 384.67,261.20 384.67,262.48 385.95,262.48 385.95,263.92 384.67,263.92 384.67,265.20 383.23,265.20 383.23,263.92 381.95,263.92 381.95,262.48 383.23,262.48" fill="#ee82ee"/>
<polygon points="391.88,262.80 393.32,262.80 393.32,264.08 394.60,264.08 394.60,265.52 393.32,265.52 393.32,266.80 391.88,266.80 391.88,265.52 390.60,265.52 390.60,264.08 391.88,264.08" fill="#ee82ee"/>
<polygon points="400.53,262.00 401.97,262.00 401.97,263.28 403.25,263.28 403.25,264.72 401.97,264.72 401.97,266.00 400.53,266.00 400.53,264.72 399.25,264.72 399.25,263.28 400.53,263.28" fill="#ee82ee"/>
<polygon points="409.18,262.80 410.62,262.80 410.62,264.08 411.90,264.08 411.90,265.52 410.62,265.52 410.62,266.80 409.18,266.80 409.18,265.52 407.90,265.52 407.90,264.08 409.18,264.08" fill="#ee82ee"/>
<polygon points="417.83,261.20 419.27,261.20 419.27,262.48 420.55,262.48 420.55,263.92 419.27,263.92 419.27,265.20 417.83,265.20 417.83,263.92 416.55,263.92 416.55,262.48 417.83,262.48" fill="#ee82ee"/>
<polygon points="426.48,262.00 427.92,262.00 427.92,263.28 429.20,263.28 429.20,264.72 427.92,264.72 427.92,266.00 426.48,266.00 426.48,264.72 425.20,264.72 425.20,263.28 426.48,263.28" fill="#ee82ee"/>
<polygon points="435.13,263.50 436.57,263.50 436.57,264.78 437.85,264.78 437.85,266.22 436.57,266.22 436.57,267.50 435.13,267.50 435.13,266.22 433.85,266.22 433.85,264.78 435.13,264.78" fill="#ee82ee"/>
<polygon points="443.78,264.40 445.22,264.40 445.22,265.68 446.50,265.68 446.50,267.12 445.22,267.12 445.22,268.40 443.78,268.40 443.78,267.12 442.50,267.12 442.50,265.68 443.78,265.68" fill="#ee82ee"/>
<path d="M271.50 172.60 L280.15 198.00 L288.80 210.00 L297.45 216.00 L306.10 222.00 L314.75 232.00 L323.40 233.10 L332.05 236.10 L340.70 241.00 L349.35 243.00 L358.00 245.00 L366.65 250.60 L375.30 253.40 L383.95 259.70 L392.60 259.20 L401.25 260.80 L409.90 264.00 L418.55 264.80 L427.20 267.10 L435.85 268.20 L444.50 268.70" fill="none" stroke="#707070" stroke-opacity="0.8" stroke-width="1.15"/>
<path d="M270.07 171.17L272.93 174.03M270.07 174.03L272.93 171.17" stroke="#555555" stroke-width="1.1"/>
<path d="M278.72 196.57L281.57 199.43M278.72 199.43L281.57 196.57" stroke="#555555" stroke-width="1.1"/>
<path d="M287.38 208.57L290.23 211.43M287.38 211.43L290.23 208.57" stroke="#555555" stroke-width="1.1"/>
<path d="M296.02 214.57L298.88 217.43M296.02 217.43L298.88 214.57" stroke="#555555" stroke-width="1.1"/>
<path d="M304.68 220.57L307.53 223.43M304.68 223.43L307.53 220.57" stroke="#555555" stroke-width="1.1"/>
<path d="M313.32 230.57L316.18 233.43M313.32 233.43L316.18 230.57" stroke="#555555" stroke-width="1.1"/>
<path d="M321.97 231.67L324.82 234.53M321.97 234.53L324.82 231.67" stroke="#555555" stroke-width="1.1"/>
<path d="M330.62 234.67L333.48 237.53M330.62 237.53L333.48 234.67" stroke="#555555" stroke-width="1.1"/>
<path d="M339.27 239.57L342.12 242.43M339.27 242.43L342.12 239.57" stroke="#555555" stroke-width="1.1"/>
<path d="M347.93 241.57L350.78 244.43M347.93 244.43L350.78 241.57" stroke="#555555" stroke-width="1.1"/>
<path d="M356.57 243.57L359.43 246.43M356.57 246.43L359.43 243.57" stroke="#555555" stroke-width="1.1"/>
<path d="M365.22 249.17L368.07 252.03M365.22 252.03L368.07 249.17" stroke="#555555" stroke-width="1.1"/>
<path d="M373.88 251.97L376.73 254.83M373.88 254.83L376.73 251.97" stroke="#555555" stroke-width="1.1"/>
<path d="M382.52 258.27L385.38 261.12M382.52 261.12L385.38 258.27" stroke="#555555" stroke-width="1.1"/>
<path d="M391.18 257.77L394.03 260.62M391.18 260.62L394.03 257.77" stroke="#555555" stroke-width="1.1"/>
<path d="M399.82 259.38L402.68 262.23M399.82 262.23L402.68 259.38" stroke="#555555" stroke-width="1.1"/>
<path d="M408.47 262.57L411.32 265.43M408.47 265.43L411.32 262.57" stroke="#555555" stroke-width="1.1"/>
<path d="M417.12 263.38L419.98 266.23M417.12 266.23L419.98 263.38" stroke="#555555" stroke-width="1.1"/>
<path d="M425.77 265.68L428.62 268.53M425.77 268.53L428.62 265.68" stroke="#555555" stroke-width="1.1"/>
<path d="M434.43 266.77L437.28 269.62M434.43 269.62L437.28 266.77" stroke="#555555" stroke-width="1.1"/>
<path d="M443.07 267.27L445.93 270.12M443.07 270.12L445.93 267.27" stroke="#555555" stroke-width="1.1"/>
<path d="M271.50 172.60 L280.15 186.10 L288.80 193.90 L297.45 202.40 L306.10 212.00 L314.75 218.40 L323.40 226.00 L332.05 232.00 L340.70 233.40 L349.35 238.80 L358.00 241.00 L366.65 243.50 L375.30 245.00 L383.95 247.40 L392.60 249.00 L401.25 247.40 L409.90 250.20 L418.55 251.30 L427.20 253.00 L435.85 254.50 L444.50 255.30" fill="none" stroke="#c000c0" stroke-opacity="0.8" stroke-width="1.15"/>
<polygon points="271.50,170.50 272.76,172.60 271.50,174.70 270.24,172.60" fill="#c000c0"/>
<polygon points="280.15,184.00 281.41,186.10 280.15,188.20 278.89,186.10" fill="#c000c0"/>
<polygon points="288.80,191.80 290.06,193.90 288.80,196.00 287.54,193.90" fill="#c000c0"/>
<polygon points="297.45,200.30 298.71,202.40 297.45,204.50 296.19,202.40" fill="#c000c0"/>
<polygon points="306.10,209.90 307.36,212.00 306.10,214.10 304.84,212.00" fill="#c000c0"/>
<polygon points="314.75,216.30 316.01,218.40 314.75,220.50 313.49,218.40" fill="#c000c0"/>
<polygon points="323.40,223.90 324.66,226.00 323.40,228.10 322.14,226.00" fill="#c000c0"/>
<polygon points="332.05,229.90 333.31,232.00 332.05,234.10 330.79,232.00" fill="#c000c0"/>
<polygon points="340.70,231.30 341.96,233.40 340.70,235.50 339.44,233.40" fill="#c000c0"/>
<polygon points="349.35,236.70 350.61,238.80 349.35,240.90 348.09,238.80" fill="#c000c0"/>
<polygon points="358.00,238.90 359.26,241.00 358.00,243.10 356.74,241.00" fill="#c000c0"/>
<polygon points="366.65,241.40 367.91,243.50 366.65,245.60 365.39,243.50" fill="#c000c0"/>
<polygon points="375.30,242.90 376.56,245.00 375.30,247.10 374.04,245.00" fill="#c000c0"/>
<polygon points="383.95,245.30 385.21,247.40 383.95,249.50 382.69,247.40" fill="#c000c0"/>
<polygon points="392.60,246.90 393.86,249.00 392.60,251.10 391.34,249.00" fill="#c000c0"/>
<polygon points="401.25,245.30 402.51,247.40 401.25,249.50 399.99,247.40" fill="#c000c0"/>
<polygon points="409.90,248.10 411.16,250.20 409.90,252.30 408.64,250.20" fill="#c000c0"/>
<polygon points="418.55,249.20 419.81,251.30 418.55,253.40 417.29,251.30" fill="#c000c0"/>
<polygon points="427.20,250.90 428.46,253.00 427.20,255.10 425.94,253.00" fill="#c000c0"/>
<polygon points="435.85,252.40 437.11,254.50 435.85,256.60 434.59,254.50" fill="#c000c0"/>
<polygon points="444.50,253.20 445.76,255.30 444.50,257.40 443.24,255.30" fill="#c000c0"/>
<path d="M271.50 172.60 L280.15 192.00 L288.80 203.00 L297.45 212.00 L306.10 219.70 L314.75 222.60 L323.40 228.60 L332.05 226.50 L340.70 227.50 L349.35 229.20 L358.00 227.60 L366.65 229.40 L375.30 234.40 L383.95 237.60 L392.60 245.00 L401.25 243.90 L409.90 246.60 L418.55 246.10 L427.20 247.40 L435.85 249.00 L444.50 250.20" fill="none" stroke="#4169e1" stroke-opacity="0.6" stroke-width="1.15"/>
<rect x="269.85" y="170.95" width="3.30" height="3.30" fill="#4169e1"/>
<rect x="278.50" y="190.35" width="3.30" height="3.30" fill="#4169e1"/>
<rect x="287.15" y="201.35" width="3.30" height="3.30" fill="#4169e1"/>
<rect x="295.80" y="210.35" width="3.30" height="3.30" fill="#4169e1"/>
<rect x="304.45" y="218.05" width="3.30" height="3.30" fill="#4169e1"/>
<rect x="313.10" y="220.95" width="3.30" height="3.30" fill="#4169e1"/>
<rect x="321.75" y="226.95" width="3.30" height="3.30" fill="#4169e1"/>
<rect x="330.40" y="224.85" width="3.30" height="3.30" fill="#4169e1"/>
<rect x="339.05" y="225.85" width="3.30" height="3.30" fill="#4169e1"/>
<rect x="347.70" y="227.55" width="3.30" height="3.30" fill="#4169e1"/>
<rect x="356.35" y="225.95" width="3.30" height="3.30" fill="#4169e1"/>
<rect x="365.00" y="227.75" width="3.30" height="3.30" fill="#4169e1"/>
<rect x="373.65" y="232.75" width="3.30" height="3.30" fill="#4169e1"/>
<rect x="382.30" y="235.95" width="3.30" height="3.30" fill="#4169e1"/>
<rect x="390.95" y="243.35" width="3.30" height="3.30" fill="#4169e1"/>
<rect x="399.60" y="242.25" width="3.30" height="3.30" fill="#4169e1"/>
<rect x="408.25" y="244.95" width="3.30" height="3.30" fill="#4169e1"/>
<rect x="416.90" y="244.45" width="3.30" height="3.30" fill="#4169e1"/>
<rect x="425.55" y="245.75" width="3.30" height="3.30" fill="#4169e1"/>
<rect x="434.20" y="247.35" width="3.30" height="3.30" fill="#4169e1"/>
<rect x="442.85" y="248.55" width="3.30" height="3.30" fill="#4169e1"/>
<path d="M271.50 172.60 L280.15 190.00 L288.80 213.00 L297.45 210.00 L306.10 211.00 L314.75 211.40 L323.40 218.10 L332.05 220.80 L340.70 224.80 L349.35 225.70 L358.00 229.20 L366.65 232.90 L375.30 238.20 L383.95 246.10 L392.60 249.30 L401.25 254.50 L409.90 254.50 L418.55 255.60 L427.20 253.40 L435.85 254.00 L444.50 255.60" fill="none" stroke="#4b0082" stroke-opacity="0.75" stroke-width="1.15"/>
<circle cx="271.50" cy="172.60" r="1.70" fill="#4b0082"/>
<circle cx="280.15" cy="190.00" r="1.70" fill="#4b0082"/>
<circle cx="288.80" cy="213.00" r="1.70" fill="#4b0082"/>
<circle cx="297.45" cy="210.00" r="1.70" fill="#4b0082"/>
<circle cx="306.10" cy="211.00" r="1.70" fill="#4b0082"/>
<circle cx="314.75" cy="211.40" r="1.70" fill="#4b0082"/>
<circle cx="323.40" cy="218.10" r="1.70" fill="#4b0082"/>
<circle cx="332.05" cy="220.80" r="1.70" fill="#4b0082"/>
<circle cx="340.70" cy="224.80" r="1.70" fill="#4b0082"/>
<circle cx="349.35" cy="225.70" r="1.70" fill="#4b0082"/>
<circle cx="358.00" cy="229.20" r="1.70" fill="#4b0082"/>
<circle cx="366.65" cy="232.90" r="1.70" fill="#4b0082"/>
<circle cx="375.30" cy="238.20" r="1.70" fill="#4b0082"/>
<circle cx="383.95" cy="246.10" r="1.70" fill="#4b0082"/>
<circle cx="392.60" cy="249.30" r="1.70" fill="#4b0082"/>
<circle cx="401.25" cy="254.50" r="1.70" fill="#4b0082"/>
<circle cx="409.90" cy="254.50" r="1.70" fill="#4b0082"/>
<circle cx="418.55" cy="255.60" r="1.70" fill="#4b0082"/>
<circle cx="427.20" cy="253.40" r="1.70" fill="#4b0082"/>
<circle cx="435.85" cy="254.00" r="1.70" fill="#4b0082"/>
<circle cx="444.50" cy="255.60" r="1.70" fill="#4b0082"/>
<path d="M271.50 172.60 L280.15 193.00 L288.80 195.40 L297.45 213.20 L306.10 210.40 L314.75 226.80 L323.40 226.80 L332.05 228.00 L340.70 237.00 L349.35 243.00 L358.00 242.50 L366.65 247.60 L375.30 248.20 L383.95 252.10 L392.60 252.90 L401.25 255.30 L409.90 258.10 L418.55 258.80 L427.20 262.40 L435.85 262.90 L444.50 262.40" fill="none" stroke="#00c0c0" stroke-opacity="0.5" stroke-width="1.15"/>
<polygon points="271.50,174.70 273.39,171.13 269.61,171.13" fill="#20c0c0"/>
<polygon points="280.15,195.10 282.04,191.53 278.26,191.53" fill="#20c0c0"/>
<polygon points="288.80,197.50 290.69,193.93 286.91,193.93" fill="#20c0c0"/>
<polygon points="297.45,215.30 299.34,211.73 295.56,211.73" fill="#20c0c0"/>
<polygon points="306.10,212.50 307.99,208.93 304.21,208.93" fill="#20c0c0"/>
<polygon points="314.75,228.90 316.64,225.33 312.86,225.33" fill="#20c0c0"/>
<polygon points="323.40,228.90 325.29,225.33 321.51,225.33" fill="#20c0c0"/>
<polygon points="332.05,230.10 333.94,226.53 330.16,226.53" fill="#20c0c0"/>
<polygon points="340.70,239.10 342.59,235.53 338.81,235.53" fill="#20c0c0"/>
<polygon points="349.35,245.10 351.24,241.53 347.46,241.53" fill="#20c0c0"/>
<polygon points="358.00,244.60 359.89,241.03 356.11,241.03" fill="#20c0c0"/>
<polygon points="366.65,249.70 368.54,246.13 364.76,246.13" fill="#20c0c0"/>
<polygon points="375.30,250.30 377.19,246.73 373.41,246.73" fill="#20c0c0"/>
<polygon points="383.95,254.20 385.84,250.63 382.06,250.63" fill="#20c0c0"/>
<polygon points="392.60,255.00 394.49,251.43 390.71,251.43" fill="#20c0c0"/>
<polygon points="401.25,257.40 403.14,253.83 399.36,253.83" fill="#20c0c0"/>
<polygon points="409.90,260.20 411.79,256.63 408.01,256.63" fill="#20c0c0"/>
<polygon points="418.55,260.90 420.44,257.33 416.66,257.33" fill="#20c0c0"/>
<polygon points="427.20,264.50 429.09,260.93 425.31,260.93" fill="#20c0c0"/>
<polygon points="435.85,265.00 437.74,261.43 433.96,261.43" fill="#20c0c0"/>
<polygon points="444.50,264.50 446.39,260.93 442.61,260.93" fill="#20c0c0"/>
<path d="M271.50 172.60 L280.15 205.60 L288.80 215.90 L297.45 222.60 L306.10 229.30 L314.75 233.80 L323.40 240.50 L332.05 250.40 L340.70 253.30 L349.35 257.80 L358.00 264.60 L366.65 263.70 L375.30 263.20 L383.95 265.10 L392.60 264.80 L401.25 264.50 L409.90 266.40 L418.55 267.60 L427.20 267.90 L435.85 272.40 L444.50 271.40" fill="none" stroke="#ff0000" stroke-opacity="0.8" stroke-width="1.15"/>
<circle cx="271.50" cy="172.60" r="1.80" fill="#ff0000"/>
<circle cx="280.15" cy="205.60" r="1.80" fill="#ff0000"/>
<circle cx="288.80" cy="215.90" r="1.80" fill="#ff0000"/>
<circle cx="297.45" cy="222.60" r="1.80" fill="#ff0000"/>
<circle cx="306.10" cy="229.30" r="1.80" fill="#ff0000"/>
<circle cx="314.75" cy="233.80" r="1.80" fill="#ff0000"/>
<circle cx="323.40" cy="240.50" r="1.80" fill="#ff0000"/>
<circle cx="332.05" cy="250.40" r="1.80" fill="#ff0000"/>
<circle cx="340.70" cy="253.30" r="1.80" fill="#ff0000"/>
<circle cx="349.35" cy="257.80" r="1.80" fill="#ff0000"/>
<circle cx="358.00" cy="264.60" r="1.80" fill="#ff0000"/>
<circle cx="366.65" cy="263.70" r="1.80" fill="#ff0000"/>
<circle cx="375.30" cy="263.20" r="1.80" fill="#ff0000"/>
<circle cx="383.95" cy="265.10" r="1.80" fill="#ff0000"/>
<circle cx="392.60" cy="264.80" r="1.80" fill="#ff0000"/>
<circle cx="401.25" cy="264.50" r="1.80" fill="#ff0000"/>
<circle cx="409.90" cy="266.40" r="1.80" fill="#ff0000"/>
<circle cx="418.55" cy="267.60" r="1.80" fill="#ff0000"/>
<circle cx="427.20" cy="267.90" r="1.80" fill="#ff0000"/>
<circle cx="435.85" cy="272.40" r="1.80" fill="#ff0000"/>
<circle cx="444.50" cy="271.40" r="1.80" fill="#ff0000"/>
</g>
<rect x="262.8" y="167.5" width="190.80" height="110.70" fill="none" stroke="#333" stroke-width="1"/>
<line x1="271.50" y1="278.2" x2="271.50" y2="281.00" stroke="#333" stroke-width="0.9"/>
<text class="s" x="271.50" y="287.80" text-anchor="middle">0</text>
<line x1="306.10" y1="278.2" x2="306.10" y2="281.00" stroke="#333" stroke-width="0.9"/>
<text class="s" x="306.10" y="287.80" text-anchor="middle">20</text>
<line x1="340.70" y1="278.2" x2="340.70" y2="281.00" stroke="#333" stroke-width="0.9"/>
<text class="s" x="340.70" y="287.80" text-anchor="middle">40</text>
<line x1="375.30" y1="278.2" x2="375.30" y2="281.00" stroke="#333" stroke-width="0.9"/>
<text class="s" x="375.30" y="287.80" text-anchor="middle">60</text>
<line x1="409.90" y1="278.2" x2="409.90" y2="281.00" stroke="#333" stroke-width="0.9"/>
<text class="s" x="409.90" y="287.80" text-anchor="middle">80</text>
<line x1="444.50" y1="278.2" x2="444.50" y2="281.00" stroke="#333" stroke-width="0.9"/>
<text class="s" x="444.50" y="287.80" text-anchor="middle">100</text>
<line x1="260.00" y1="273.75" x2="262.8" y2="273.75" stroke="#333" stroke-width="0.9"/>
<text class="s" x="258.20" y="276.30" text-anchor="end">0.40</text>
<line x1="260.00" y1="250.62" x2="262.8" y2="250.62" stroke="#333" stroke-width="0.9"/>
<text class="s" x="258.20" y="253.18" text-anchor="end">0.45</text>
<line x1="260.00" y1="227.50" x2="262.8" y2="227.50" stroke="#333" stroke-width="0.9"/>
<text class="s" x="258.20" y="230.05" text-anchor="end">0.50</text>
<line x1="260.00" y1="204.37" x2="262.8" y2="204.37" stroke="#333" stroke-width="0.9"/>
<text class="s" x="258.20" y="206.92" text-anchor="end">0.55</text>
<line x1="260.00" y1="181.25" x2="262.8" y2="181.25" stroke="#333" stroke-width="0.9"/>
<text class="s" x="258.20" y="183.80" text-anchor="end">0.60</text>
<text class="t" x="358.20" y="163.90" text-anchor="middle">Machine</text>
<text class="t xl" x="358.20" y="298.50" text-anchor="middle">Number of queries</text>
<text class="t" x="0" y="0" text-anchor="middle" transform="translate(239.65,222.85) rotate(-90)">MZE</text>
</g>
<g>
<line x1="499.50" y1="167.5" x2="499.50" y2="278.2" stroke="#b0b0b0" stroke-width="0.8"/>
<line x1="534.10" y1="167.5" x2="534.10" y2="278.2" stroke="#b0b0b0" stroke-width="0.8"/>
<line x1="568.70" y1="167.5" x2="568.70" y2="278.2" stroke="#b0b0b0" stroke-width="0.8"/>
<line x1="603.30" y1="167.5" x2="603.30" y2="278.2" stroke="#b0b0b0" stroke-width="0.8"/>
<line x1="637.90" y1="167.5" x2="637.90" y2="278.2" stroke="#b0b0b0" stroke-width="0.8"/>
<line x1="672.50" y1="167.5" x2="672.50" y2="278.2" stroke="#b0b0b0" stroke-width="0.8"/>
<line x1="490.5" y1="269.25" x2="681.0" y2="269.25" stroke="#b0b0b0" stroke-width="0.8"/>
<line x1="490.5" y1="254.25" x2="681.0" y2="254.25" stroke="#b0b0b0" stroke-width="0.8"/>
<line x1="490.5" y1="239.25" x2="681.0" y2="239.25" stroke="#b0b0b0" stroke-width="0.8"/>
<line x1="490.5" y1="224.25" x2="681.0" y2="224.25" stroke="#b0b0b0" stroke-width="0.8"/>
<line x1="490.5" y1="209.25" x2="681.0" y2="209.25" stroke="#b0b0b0" stroke-width="0.8"/>
<line x1="490.5" y1="194.25" x2="681.0" y2="194.25" stroke="#b0b0b0" stroke-width="0.8"/>
<line x1="490.5" y1="179.25" x2="681.0" y2="179.25" stroke="#b0b0b0" stroke-width="0.8"/>
<defs><clipPath id="c5"><rect x="490.5" y="167.5" width="190.5" height="110.69999999999999"/></clipPath></defs>
<g clip-path="url(#c5)">
<path d="M499.50 170.40 L508.15 187.00 L516.80 204.00 L525.45 218.00 L534.10 226.00 L542.75 232.00 L551.40 237.00 L560.05 241.00 L568.70 244.00 L577.35 247.00 L586.00 249.50 L594.65 251.50 L603.30 253.50 L611.95 255.00 L620.60 256.50 L629.25 258.00 L637.90 259.00 L646.55 260.00 L655.20 261.00 L663.85 262.00 L672.50 263.00" fill="none" stroke="#0000ff" stroke-opacity="0.7" stroke-width="1.15"/>
<circle cx="499.50" cy="170.40" r="1.10" fill="#0000ff"/>
<circle cx="508.15" cy="187.00" r="1.10" fill="#0000ff"/>
<circle cx="516.80" cy="204.00" r="1.10" fill="#0000ff"/>
<circle cx="525.45" cy="218.00" r="1.10" fill="#0000ff"/>
<circle cx="534.10" cy="226.00" r="1.10" fill="#0000ff"/>
<circle cx="542.75" cy="232.00" r="1.10" fill="#0000ff"/>
<circle cx="551.40" cy="237.00" r="1.10" fill="#0000ff"/>
<circle cx="560.05" cy="241.00" r="1.10" fill="#0000ff"/>
<circle cx="568.70" cy="244.00" r="1.10" fill="#0000ff"/>
<circle cx="577.35" cy="247.00" r="1.10" fill="#0000ff"/>
<circle cx="586.00" cy="249.50" r="1.10" fill="#0000ff"/>
<circle cx="594.65" cy="251.50" r="1.10" fill="#0000ff"/>
<circle cx="603.30" cy="253.50" r="1.10" fill="#0000ff"/>
<circle cx="611.95" cy="255.00" r="1.10" fill="#0000ff"/>
<circle cx="620.60" cy="256.50" r="1.10" fill="#0000ff"/>
<circle cx="629.25" cy="258.00" r="1.10" fill="#0000ff"/>
<circle cx="637.90" cy="259.00" r="1.10" fill="#0000ff"/>
<circle cx="646.55" cy="260.00" r="1.10" fill="#0000ff"/>
<circle cx="655.20" cy="261.00" r="1.10" fill="#0000ff"/>
<circle cx="663.85" cy="262.00" r="1.10" fill="#0000ff"/>
<circle cx="672.50" cy="263.00" r="1.10" fill="#0000ff"/>
<path d="M499.50 170.40 L508.15 186.00 L516.80 201.00 L525.45 212.00 L534.10 221.00 L542.75 228.00 L551.40 234.00 L560.05 239.00 L568.70 243.00 L577.35 246.00 L586.00 248.50 L594.65 250.00 L603.30 251.30 L611.95 252.10 L620.60 254.00 L629.25 256.00 L637.90 258.00 L646.55 259.50 L655.20 261.00 L663.85 262.00 L672.50 263.20" fill="none" stroke="#ff8c00" stroke-opacity="0.8" stroke-width="1.15"/>
<polygon points="497.40,170.40 500.97,168.51 500.97,172.29" fill="#ff8c00"/>
<polygon points="506.05,186.00 509.62,184.11 509.62,187.89" fill="#ff8c00"/>
<polygon points="514.70,201.00 518.27,199.11 518.27,202.89" fill="#ff8c00"/>
<polygon points="523.35,212.00 526.92,210.11 526.92,213.89" fill="#ff8c00"/>
<polygon points="532.00,221.00 535.57,219.11 535.57,222.89" fill="#ff8c00"/>
<polygon points="540.65,228.00 544.22,226.11 544.22,229.89" fill="#ff8c00"/>
<polygon points="549.30,234.00 552.87,232.11 552.87,235.89" fill="#ff8c00"/>
<polygon points="557.95,239.00 561.52,237.11 561.52,240.89" fill="#ff8c00"/>
<polygon points="566.60,243.00 570.17,241.11 570.17,244.89" fill="#ff8c00"/>
<polygon points="575.25,246.00 578.82,244.11 578.82,247.89" fill="#ff8c00"/>
<polygon points="583.90,248.50 587.47,246.61 587.47,250.39" fill="#ff8c00"/>
<polygon points="592.55,250.00 596.12,248.11 596.12,251.89" fill="#ff8c00"/>
<polygon points="601.20,251.30 604.77,249.41 604.77,253.19" fill="#ff8c00"/>
<polygon points="609.85,252.10 613.42,250.21 613.42,253.99" fill="#ff8c00"/>
<polygon points="618.50,254.00 622.07,252.11 622.07,255.89" fill="#ff8c00"/>
<polygon points="627.15,256.00 630.72,254.11 630.72,257.89" fill="#ff8c00"/>
<polygon points="635.80,258.00 639.37,256.11 639.37,259.89" fill="#ff8c00"/>
<polygon points="644.45,259.50 648.02,257.61 648.02,261.39" fill="#ff8c00"/>
<polygon points="653.10,261.00 656.67,259.11 656.67,262.89" fill="#ff8c00"/>
<polygon points="661.75,262.00 665.32,260.11 665.32,263.89" fill="#ff8c00"/>
<polygon points="670.40,263.20 673.97,261.31 673.97,265.09" fill="#ff8c00"/>
<path d="M499.50 170.40 L508.15 186.00 L516.80 202.00 L525.45 214.00 L534.10 223.00 L542.75 230.00 L551.40 236.00 L560.05 241.00 L568.70 245.00 L577.35 249.00 L586.00 251.50 L594.65 254.00 L603.30 256.00 L611.95 257.70 L620.60 258.80 L629.25 260.00 L637.90 261.60 L646.55 262.90 L655.20 263.20 L663.85 262.90 L672.50 263.20" fill="none" stroke="#bcbd22" stroke-opacity="0.6" stroke-width="1.15"/>
<polygon points="501.60,170.40 498.03,168.51 498.03,172.29" fill="#bcbd22"/>
<polygon points="510.25,186.00 506.68,184.11 506.68,187.89" fill="#bcbd22"/>
<polygon points="518.90,202.00 515.33,200.11 515.33,203.89" fill="#bcbd22"/>
<polygon points="527.55,214.00 523.98,212.11 523.98,215.89" fill="#bcbd22"/>
<polygon points="536.20,223.00 532.63,221.11 532.63,224.89" fill="#bcbd22"/>
<polygon points="544.85,230.00 541.28,228.11 541.28,231.89" fill="#bcbd22"/>
<polygon points="553.50,236.00 549.93,234.11 549.93,237.89" fill="#bcbd22"/>
<polygon points="562.15,241.00 558.58,239.11 558.58,242.89" fill="#bcbd22"/>
<polygon points="570.80,245.00 567.23,243.11 567.23,246.89" fill="#bcbd22"/>
<polygon points="579.45,249.00 575.88,247.11 575.88,250.89" fill="#bcbd22"/>
<polygon points="588.10,251.50 584.53,249.61 584.53,253.39" fill="#bcbd22"/>
<polygon points="596.75,254.00 593.18,252.11 593.18,255.89" fill="#bcbd22"/>
<polygon points="605.40,256.00 601.83,254.11 601.83,257.89" fill="#bcbd22"/>
<polygon points="614.05,257.70 610.48,255.81 610.48,259.59" fill="#bcbd22"/>
<polygon points="622.70,258.80 619.13,256.91 619.13,260.69" fill="#bcbd22"/>
<polygon points="631.35,260.00 627.78,258.11 627.78,261.89" fill="#bcbd22"/>
<polygon points="640.00,261.60 636.43,259.71 636.43,263.49" fill="#bcbd22"/>
<polygon points="648.65,262.90 645.08,261.01 645.08,264.79" fill="#bcbd22"/>
<polygon points="657.30,263.20 653.73,261.31 653.73,265.09" fill="#bcbd22"/>
<polygon points="665.95,262.90 662.38,261.01 662.38,264.79" fill="#bcbd22"/>
<polygon points="674.60,263.20 671.03,261.31 671.03,265.09" fill="#bcbd22"/>
<path d="M499.50 170.40 L508.15 186.00 L516.80 206.00 L525.45 214.00 L534.10 220.00 L542.75 227.00 L551.40 233.00 L560.05 238.00 L568.70 242.00 L577.35 245.50 L586.00 248.00 L594.65 250.00 L603.30 252.00 L611.95 254.00 L620.60 255.50 L629.25 257.00 L637.90 258.50 L646.55 260.00 L655.20 261.00 L663.85 262.00 L672.50 263.00" fill="none" stroke="#008000" stroke-opacity="0.75" stroke-width="1.15"/>
<polygon points="499.50,168.30 501.39,171.87 497.61,171.87" fill="#008000"/>
<polygon points="508.15,183.90 510.04,187.47 506.26,187.47" fill="#008000"/>
<polygon points="516.80,203.90 518.69,207.47 514.91,207.47" fill="#008000"/>
<polygon points="525.45,211.90 527.34,215.47 523.56,215.47" fill="#008000"/>
<polygon points="534.10,217.90 535.99,221.47 532.21,221.47" fill="#008000"/>
<polygon points="542.75,224.90 544.64,228.47 540.86,228.47" fill="#008000"/>
<polygon points="551.40,230.90 553.29,234.47 549.51,234.47" fill="#008000"/>
<polygon points="560.05,235.90 561.94,239.47 558.16,239.47" fill="#008000"/>
<polygon points="568.70,239.90 570.59,243.47 566.81,243.47" fill="#008000"/>
<polygon points="577.35,243.40 579.24,246.97 575.46,246.97" fill="#008000"/>
<polygon points="586.00,245.90 587.89,249.47 584.11,249.47" fill="#008000"/>
<polygon points="594.65,247.90 596.54,251.47 592.76,251.47" fill="#008000"/>
<polygon points="603.30,249.90 605.19,253.47 601.41,253.47" fill="#008000"/>
<polygon points="611.95,251.90 613.84,255.47 610.06,255.47" fill="#008000"/>
<polygon points="620.60,253.40 622.49,256.97 618.71,256.97" fill="#008000"/>
<polygon points="629.25,254.90 631.14,258.47 627.36,258.47" fill="#008000"/>
<polygon points="637.90,256.40 639.79,259.97 636.01,259.97" fill="#008000"/>
<polygon points="646.55,257.90 648.44,261.47 644.66,261.47" fill="#008000"/>
<polygon points="655.20,258.90 657.09,262.47 653.31,262.47" fill="#008000"/>
<polygon points="663.85,259.90 665.74,263.47 661.96,263.47" fill="#008000"/>
<polygon points="672.50,260.90 674.39,264.47 670.61,264.47" fill="#008000"/>
<path d="M499.50 170.40 L508.15 187.00 L516.80 201.00 L525.45 215.00 L534.10 222.00 L542.75 229.00 L551.40 236.00 L560.05 241.00 L568.70 245.00 L577.35 248.00 L586.00 250.60 L594.65 251.30 L603.30 253.70 L611.95 255.00 L620.60 257.00 L629.25 258.50 L637.90 260.00 L646.55 261.00 L655.20 262.00 L663.85 263.00 L672.50 264.00" fill="none" stroke="#a0522d" stroke-opacity="0.5" stroke-width="1.15"/>
<polygon points="500.98,171.01 500.11,171.88 498.89,171.88 498.02,171.01 498.02,169.79 498.89,168.92 500.11,168.92 500.98,169.79" fill="#a0522d"/>
<polygon points="509.63,187.61 508.76,188.48 507.54,188.48 506.67,187.61 506.67,186.39 507.54,185.52 508.76,185.52 509.63,186.39" fill="#a0522d"/>
<polygon points="518.28,201.61 517.41,202.48 516.19,202.48 515.32,201.61 515.32,200.39 516.19,199.52 517.41,199.52 518.28,200.39" fill="#a0522d"/>
<polygon points="526.93,215.61 526.06,216.48 524.84,216.48 523.97,215.61 523.97,214.39 524.84,213.52 526.06,213.52 526.93,214.39" fill="#a0522d"/>
<polygon points="535.58,222.61 534.71,223.48 533.49,223.48 532.62,222.61 532.62,221.39 533.49,220.52 534.71,220.52 535.58,221.39" fill="#a0522d"/>
<polygon points="544.23,229.61 543.36,230.48 542.14,230.48 541.27,229.61 541.27,228.39 542.14,227.52 543.36,227.52 544.23,228.39" fill="#a0522d"/>
<polygon points="552.88,236.61 552.01,237.48 550.79,237.48 549.92,236.61 549.92,235.39 550.79,234.52 552.01,234.52 552.88,235.39" fill="#a0522d"/>
<polygon points="561.53,241.61 560.66,242.48 559.44,242.48 558.57,241.61 558.57,240.39 559.44,239.52 560.66,239.52 561.53,240.39" fill="#a0522d"/>
<polygon points="570.18,245.61 569.31,246.48 568.09,246.48 567.22,245.61 567.22,244.39 568.09,243.52 569.31,243.52 570.18,244.39" fill="#a0522d"/>
<polygon points="578.83,248.61 577.96,249.48 576.74,249.48 575.87,248.61 575.87,247.39 576.74,246.52 577.96,246.52 578.83,247.39" fill="#a0522d"/>
<polygon points="587.48,251.21 586.61,252.08 585.39,252.08 584.52,251.21 584.52,249.99 585.39,249.12 586.61,249.12 587.48,249.99" fill="#a0522d"/>
<polygon points="596.13,251.91 595.26,252.78 594.04,252.78 593.17,251.91 593.17,250.69 594.04,249.82 595.26,249.82 596.13,250.69" fill="#a0522d"/>
<polygon points="604.78,254.31 603.91,255.18 602.69,255.18 601.82,254.31 601.82,253.09 602.69,252.22 603.91,252.22 604.78,253.09" fill="#a0522d"/>
<polygon points="613.43,255.61 612.56,256.48 611.34,256.48 610.47,255.61 610.47,254.39 611.34,253.52 612.56,253.52 613.43,254.39" fill="#a0522d"/>
<polygon points="622.08,257.61 621.21,258.48 619.99,258.48 619.12,257.61 619.12,256.39 619.99,255.52 621.21,255.52 622.08,256.39" fill="#a0522d"/>
<polygon points="630.73,259.11 629.86,259.98 628.64,259.98 627.77,259.11 627.77,257.89 628.64,257.02 629.86,257.02 630.73,257.89" fill="#a0522d"/>
<polygon points="639.38,260.61 638.51,261.48 637.29,261.48 636.42,260.61 636.42,259.39 637.29,258.52 638.51,258.52 639.38,259.39" fill="#a0522d"/>
<polygon points="648.03,261.61 647.16,262.48 645.94,262.48 645.07,261.61 645.07,260.39 645.94,259.52 647.16,259.52 648.03,260.39" fill="#a0522d"/>
<polygon points="656.68,262.61 655.81,263.48 654.59,263.48 653.72,262.61 653.72,261.39 654.59,260.52 655.81,260.52 656.68,261.39" fill="#a0522d"/>
<polygon points="665.33,263.61 664.46,264.48 663.24,264.48 662.37,263.61 662.37,262.39 663.24,261.52 664.46,261.52 665.33,262.39" fill="#a0522d"/>
<polygon points="673.98,264.61 673.11,265.48 671.89,265.48 671.02,264.61 671.02,263.39 671.89,262.52 673.11,262.52 673.98,263.39" fill="#a0522d"/>
<path d="M499.50 170.40 L508.15 182.00 L516.80 189.40 L525.45 205.00 L534.10 218.00 L542.75 226.00 L551.40 233.00 L560.05 240.00 L568.70 245.00 L577.35 250.00 L586.00 253.00 L594.65 256.10 L603.30 257.70 L611.95 260.80 L620.60 261.90 L629.25 263.20 L637.90 264.00 L646.55 265.10 L655.20 264.50 L663.85 264.00 L672.50 263.50" fill="none" stroke="#ee82ee" stroke-opacity="0.9" stroke-width="1.15"/>
<polygon points="498.78,168.40 500.22,168.40 500.22,169.68 501.50,169.68 501.50,171.12 500.22,171.12 500.22,172.40 498.78,172.40 498.78,171.12 497.50,171.12 497.50,169.68 498.78,169.68" fill="#ee82ee"/>
<polygon points="507.43,180.00 508.87,180.00 508.87,181.28 510.15,181.28 510.15,182.72 508.87,182.72 508.87,184.00 507.43,184.00 507.43,182.72 506.15,182.72 506.15,181.28 507.43,181.28" fill="#ee82ee"/>
<polygon points="516.08,187.40 517.52,187.40 517.52,188.68 518.80,188.68 518.80,190.12 517.52,190.12 517.52,191.40 516.08,191.40 516.08,190.12 514.80,190.12 514.80,188.68 516.08,188.68" fill="#ee82ee"/>
<polygon points="524.73,203.00 526.17,203.00 526.17,204.28 527.45,204.28 527.45,205.72 526.17,205.72 526.17,207.00 524.73,207.00 524.73,205.72 523.45,205.72 523.45,204.28 524.73,204.28" fill="#ee82ee"/>
<polygon points="533.38,216.00 534.82,216.00 534.82,217.28 536.10,217.28 536.10,218.72 534.82,218.72 534.82,220.00 533.38,220.00 533.38,218.72 532.10,218.72 532.10,217.28 533.38,217.28" fill="#ee82ee"/>
<polygon points="542.03,224.00 543.47,224.00 543.47,225.28 544.75,225.28 544.75,226.72 543.47,226.72 543.47,228.00 542.03,228.00 542.03,226.72 540.75,226.72 540.75,225.28 542.03,225.28" fill="#ee82ee"/>
<polygon points="550.68,231.00 552.12,231.00 552.12,232.28 553.40,232.28 553.40,233.72 552.12,233.72 552.12,235.00 550.68,235.00 550.68,233.72 549.40,233.72 549.40,232.28 550.68,232.28" fill="#ee82ee"/>
<polygon points="559.33,238.00 560.77,238.00 560.77,239.28 562.05,239.28 562.05,240.72 560.77,240.72 560.77,242.00 559.33,242.00 559.33,240.72 558.05,240.72 558.05,239.28 559.33,239.28" fill="#ee82ee"/>
<polygon points="567.98,243.00 569.42,243.00 569.42,244.28 570.70,244.28 570.70,245.72 569.42,245.72 569.42,247.00 567.98,247.00 567.98,245.72 566.70,245.72 566.70,244.28 567.98,244.28" fill="#ee82ee"/>
<polygon points="576.63,248.00 578.07,248.00 578.07,249.28 579.35,249.28 579.35,250.72 578.07,250.72 578.07,252.00 576.63,252.00 576.63,250.72 575.35,250.72 575.35,249.28 576.63,249.28" fill="#ee82ee"/>
<polygon points="585.28,251.00 586.72,251.00 586.72,252.28 588.00,252.28 588.00,253.72 586.72,253.72 586.72,255.00 585.28,255.00 585.28,253.72 584.00,253.72 584.00,252.28 585.28,252.28" fill="#ee82ee"/>
<polygon points="593.93,254.10 595.37,254.10 595.37,255.38 596.65,255.38 596.65,256.82 595.37,256.82 595.37,258.10 593.93,258.10 593.93,256.82 592.65,256.82 592.65,255.38 593.93,255.38" fill="#ee82ee"/>
<polygon points="602.58,255.70 604.02,255.70 604.02,256.98 605.30,256.98 605.30,258.42 604.02,258.42 604.02,259.70 602.58,259.70 602.58,258.42 601.30,258.42 601.30,256.98 602.58,256.98" fill="#ee82ee"/>
<polygon points="611.23,258.80 612.67,258.80 612.67,260.08 613.95,260.08 613.95,261.52 612.67,261.52 612.67,262.80 611.23,262.80 611.23,261.52 609.95,261.52 609.95,260.08 611.23,260.08" fill="#ee82ee"/>
<polygon points="619.88,259.90 621.32,259.90 621.32,261.18 622.60,261.18 622.60,262.62 621.32,262.62 621.32,263.90 619.88,263.90 619.88,262.62 618.60,262.62 618.60,261.18 619.88,261.18" fill="#ee82ee"/>
<polygon points="628.53,261.20 629.97,261.20 629.97,262.48 631.25,262.48 631.25,263.92 629.97,263.92 629.97,265.20 628.53,265.20 628.53,263.92 627.25,263.92 627.25,262.48 628.53,262.48" fill="#ee82ee"/>
<polygon points="637.18,262.00 638.62,262.00 638.62,263.28 639.90,263.28 639.90,264.72 638.62,264.72 638.62,266.00 637.18,266.00 637.18,264.72 635.90,264.72 635.90,263.28 637.18,263.28" fill="#ee82ee"/>
<polygon points="645.83,263.10 647.27,263.10 647.27,264.38 648.55,264.38 648.55,265.82 647.27,265.82 647.27,267.10 645.83,267.10 645.83,265.82 644.55,265.82 644.55,264.38 645.83,264.38" fill="#ee82ee"/>
<polygon points="654.48,262.50 655.92,262.50 655.92,263.78 657.20,263.78 657.20,265.22 655.92,265.22 655.92,266.50 654.48,266.50 654.48,265.22 653.20,265.22 653.20,263.78 654.48,263.78" fill="#ee82ee"/>
<polygon points="663.13,262.00 664.57,262.00 664.57,263.28 665.85,263.28 665.85,264.72 664.57,264.72 664.57,266.00 663.13,266.00 663.13,264.72 661.85,264.72 661.85,263.28 663.13,263.28" fill="#ee82ee"/>
<polygon points="671.78,261.50 673.22,261.50 673.22,262.78 674.50,262.78 674.50,264.22 673.22,264.22 673.22,265.50 671.78,265.50 671.78,264.22 670.50,264.22 670.50,262.78 671.78,262.78" fill="#ee82ee"/>
<path d="M499.50 170.40 L508.15 188.00 L516.80 200.00 L525.45 212.00 L534.10 222.00 L542.75 230.00 L551.40 237.00 L560.05 243.00 L568.70 250.00 L577.35 257.80 L586.00 260.00 L594.65 260.00 L603.30 258.50 L611.95 262.40 L620.60 263.50 L629.25 264.00 L637.90 265.50 L646.55 270.30 L655.20 271.90 L663.85 273.90 L672.50 273.90" fill="none" stroke="#707070" stroke-opacity="0.8" stroke-width="1.15"/>
<path d="M498.07 168.97L500.93 171.83M498.07 171.83L500.93 168.97" stroke="#555555" stroke-width="1.1"/>
<path d="M506.72 186.57L509.57 189.43M506.72 189.43L509.57 186.57" stroke="#555555" stroke-width="1.1"/>
<path d="M515.38 198.57L518.22 201.43M515.38 201.43L518.22 198.57" stroke="#555555" stroke-width="1.1"/>
<path d="M524.03 210.57L526.88 213.43M524.03 213.43L526.88 210.57" stroke="#555555" stroke-width="1.1"/>
<path d="M532.68 220.57L535.52 223.43M532.68 223.43L535.52 220.57" stroke="#555555" stroke-width="1.1"/>
<path d="M541.33 228.57L544.17 231.43M541.33 231.43L544.17 228.57" stroke="#555555" stroke-width="1.1"/>
<path d="M549.98 235.57L552.82 238.43M549.98 238.43L552.82 235.57" stroke="#555555" stroke-width="1.1"/>
<path d="M558.62 241.57L561.47 244.43M558.62 244.43L561.47 241.57" stroke="#555555" stroke-width="1.1"/>
<path d="M567.28 248.57L570.12 251.43M567.28 251.43L570.12 248.57" stroke="#555555" stroke-width="1.1"/>
<path d="M575.93 256.38L578.77 259.23M575.93 259.23L578.77 256.38" stroke="#555555" stroke-width="1.1"/>
<path d="M584.58 258.57L587.42 261.43M584.58 261.43L587.42 258.57" stroke="#555555" stroke-width="1.1"/>
<path d="M593.23 258.57L596.07 261.43M593.23 261.43L596.07 258.57" stroke="#555555" stroke-width="1.1"/>
<path d="M601.88 257.07L604.72 259.93M601.88 259.93L604.72 257.07" stroke="#555555" stroke-width="1.1"/>
<path d="M610.53 260.97L613.38 263.82M610.53 263.82L613.38 260.97" stroke="#555555" stroke-width="1.1"/>
<path d="M619.18 262.07L622.02 264.93M619.18 264.93L622.02 262.07" stroke="#555555" stroke-width="1.1"/>
<path d="M627.83 262.57L630.67 265.43M627.83 265.43L630.67 262.57" stroke="#555555" stroke-width="1.1"/>
<path d="M636.48 264.07L639.32 266.93M636.48 266.93L639.32 264.07" stroke="#555555" stroke-width="1.1"/>
<path d="M645.12 268.88L647.97 271.73M645.12 271.73L647.97 268.88" stroke="#555555" stroke-width="1.1"/>
<path d="M653.78 270.47L656.62 273.32M653.78 273.32L656.62 270.47" stroke="#555555" stroke-width="1.1"/>
<path d="M662.43 272.47L665.27 275.32M662.43 275.32L665.27 272.47" stroke="#555555" stroke-width="1.1"/>
<path d="M671.08 272.47L673.92 275.32M671.08 275.32L673.92 272.47" stroke="#555555" stroke-width="1.1"/>
<path d="M499.50 170.40 L508.15 185.00 L516.80 200.00 L525.45 212.00 L534.10 220.00 L542.75 226.00 L551.40 232.00 L560.05 237.00 L568.70 241.00 L577.35 245.00 L586.00 248.00 L594.65 250.90 L603.30 254.50 L611.95 254.50 L620.60 256.00 L629.25 257.00 L637.90 258.50 L646.55 259.50 L655.20 260.50 L663.85 261.50 L672.50 263.20" fill="none" stroke="#c000c0" stroke-opacity="0.8" stroke-width="1.15"/>
<polygon points="499.50,168.30 500.76,170.40 499.50,172.50 498.24,170.40" fill="#c000c0"/>
<polygon points="508.15,182.90 509.41,185.00 508.15,187.10 506.89,185.00" fill="#c000c0"/>
<polygon points="516.80,197.90 518.06,200.00 516.80,202.10 515.54,200.00" fill="#c000c0"/>
<polygon points="525.45,209.90 526.71,212.00 525.45,214.10 524.19,212.00" fill="#c000c0"/>
<polygon points="534.10,217.90 535.36,220.00 534.10,222.10 532.84,220.00" fill="#c000c0"/>
<polygon points="542.75,223.90 544.01,226.00 542.75,228.10 541.49,226.00" fill="#c000c0"/>
<polygon points="551.40,229.90 552.66,232.00 551.40,234.10 550.14,232.00" fill="#c000c0"/>
<polygon points="560.05,234.90 561.31,237.00 560.05,239.10 558.79,237.00" fill="#c000c0"/>
<polygon points="568.70,238.90 569.96,241.00 568.70,243.10 567.44,241.00" fill="#c000c0"/>
<polygon points="577.35,242.90 578.61,245.00 577.35,247.10 576.09,245.00" fill="#c000c0"/>
<polygon points="586.00,245.90 587.26,248.00 586.00,250.10 584.74,248.00" fill="#c000c0"/>
<polygon points="594.65,248.80 595.91,250.90 594.65,253.00 593.39,250.90" fill="#c000c0"/>
<polygon points="603.30,252.40 604.56,254.50 603.30,256.60 602.04,254.50" fill="#c000c0"/>
<polygon points="611.95,252.40 613.21,254.50 611.95,256.60 610.69,254.50" fill="#c000c0"/>
<polygon points="620.60,253.90 621.86,256.00 620.60,258.10 619.34,256.00" fill="#c000c0"/>
<polygon points="629.25,254.90 630.51,257.00 629.25,259.10 627.99,257.00" fill="#c000c0"/>
<polygon points="637.90,256.40 639.16,258.50 637.90,260.60 636.64,258.50" fill="#c000c0"/>
<polygon points="646.55,257.40 647.81,259.50 646.55,261.60 645.29,259.50" fill="#c000c0"/>
<polygon points="655.20,258.40 656.46,260.50 655.20,262.60 653.94,260.50" fill="#c000c0"/>
<polygon points="663.85,259.40 665.11,261.50 663.85,263.60 662.59,261.50" fill="#c000c0"/>
<polygon points="672.50,261.10 673.76,263.20 672.50,265.30 671.24,263.20" fill="#c000c0"/>
<path d="M499.50 170.40 L508.15 183.10 L516.80 198.00 L525.45 208.00 L534.10 216.00 L542.75 222.00 L551.40 228.00 L560.05 231.60 L568.70 236.00 L577.35 239.90 L586.00 243.00 L594.65 247.40 L603.30 247.10 L611.95 249.00 L620.60 250.90 L629.25 252.90 L637.90 255.00 L646.55 256.60 L655.20 259.50 L663.85 263.20 L672.50 264.50" fill="none" stroke="#4169e1" stroke-opacity="0.6" stroke-width="1.15"/>
<rect x="497.85" y="168.75" width="3.30" height="3.30" fill="#4169e1"/>
<rect x="506.50" y="181.45" width="3.30" height="3.30" fill="#4169e1"/>
<rect x="515.15" y="196.35" width="3.30" height="3.30" fill="#4169e1"/>
<rect x="523.80" y="206.35" width="3.30" height="3.30" fill="#4169e1"/>
<rect x="532.45" y="214.35" width="3.30" height="3.30" fill="#4169e1"/>
<rect x="541.10" y="220.35" width="3.30" height="3.30" fill="#4169e1"/>
<rect x="549.75" y="226.35" width="3.30" height="3.30" fill="#4169e1"/>
<rect x="558.40" y="229.95" width="3.30" height="3.30" fill="#4169e1"/>
<rect x="567.05" y="234.35" width="3.30" height="3.30" fill="#4169e1"/>
<rect x="575.70" y="238.25" width="3.30" height="3.30" fill="#4169e1"/>
<rect x="584.35" y="241.35" width="3.30" height="3.30" fill="#4169e1"/>
<rect x="593.00" y="245.75" width="3.30" height="3.30" fill="#4169e1"/>
<rect x="601.65" y="245.45" width="3.30" height="3.30" fill="#4169e1"/>
<rect x="610.30" y="247.35" width="3.30" height="3.30" fill="#4169e1"/>
<rect x="618.95" y="249.25" width="3.30" height="3.30" fill="#4169e1"/>
<rect x="627.60" y="251.25" width="3.30" height="3.30" fill="#4169e1"/>
<rect x="636.25" y="253.35" width="3.30" height="3.30" fill="#4169e1"/>
<rect x="644.90" y="254.95" width="3.30" height="3.30" fill="#4169e1"/>
<rect x="653.55" y="257.85" width="3.30" height="3.30" fill="#4169e1"/>
<rect x="662.20" y="261.55" width="3.30" height="3.30" fill="#4169e1"/>
<rect x="670.85" y="262.85" width="3.30" height="3.30" fill="#4169e1"/>
<path d="M499.50 170.40 L508.15 178.20 L516.80 186.70 L525.45 196.10 L534.10 203.30 L542.75 214.50 L551.40 220.10 L560.05 223.70 L568.70 224.80 L577.35 232.70 L586.00 236.80 L594.65 241.40 L603.30 242.70 L611.95 249.00 L620.60 251.80 L629.25 252.90 L637.90 253.70 L646.55 256.10 L655.20 257.20 L663.85 259.20 L672.50 260.00" fill="none" stroke="#4b0082" stroke-opacity="0.75" stroke-width="1.15"/>
<circle cx="499.50" cy="170.40" r="1.70" fill="#4b0082"/>
<circle cx="508.15" cy="178.20" r="1.70" fill="#4b0082"/>
<circle cx="516.80" cy="186.70" r="1.70" fill="#4b0082"/>
<circle cx="525.45" cy="196.10" r="1.70" fill="#4b0082"/>
<circle cx="534.10" cy="203.30" r="1.70" fill="#4b0082"/>
<circle cx="542.75" cy="214.50" r="1.70" fill="#4b0082"/>
<circle cx="551.40" cy="220.10" r="1.70" fill="#4b0082"/>
<circle cx="560.05" cy="223.70" r="1.70" fill="#4b0082"/>
<circle cx="568.70" cy="224.80" r="1.70" fill="#4b0082"/>
<circle cx="577.35" cy="232.70" r="1.70" fill="#4b0082"/>
<circle cx="586.00" cy="236.80" r="1.70" fill="#4b0082"/>
<circle cx="594.65" cy="241.40" r="1.70" fill="#4b0082"/>
<circle cx="603.30" cy="242.70" r="1.70" fill="#4b0082"/>
<circle cx="611.95" cy="249.00" r="1.70" fill="#4b0082"/>
<circle cx="620.60" cy="251.80" r="1.70" fill="#4b0082"/>
<circle cx="629.25" cy="252.90" r="1.70" fill="#4b0082"/>
<circle cx="637.90" cy="253.70" r="1.70" fill="#4b0082"/>
<circle cx="646.55" cy="256.10" r="1.70" fill="#4b0082"/>
<circle cx="655.20" cy="257.20" r="1.70" fill="#4b0082"/>
<circle cx="663.85" cy="259.20" r="1.70" fill="#4b0082"/>
<circle cx="672.50" cy="260.00" r="1.70" fill="#4b0082"/>
<path d="M499.50 170.40 L508.15 183.00 L516.80 199.00 L525.45 209.00 L534.10 218.00 L542.75 224.00 L551.40 230.00 L560.05 235.00 L568.70 240.00 L577.35 243.00 L586.00 245.80 L594.65 248.20 L603.30 251.30 L611.95 252.90 L620.60 254.50 L629.25 256.10 L637.90 256.60 L646.55 258.80 L655.20 260.00 L663.85 259.20 L672.50 260.80" fill="none" stroke="#00c0c0" stroke-opacity="0.5" stroke-width="1.15"/>
<polygon points="499.50,172.50 501.39,168.93 497.61,168.93" fill="#20c0c0"/>
<polygon points="508.15,185.10 510.04,181.53 506.26,181.53" fill="#20c0c0"/>
<polygon points="516.80,201.10 518.69,197.53 514.91,197.53" fill="#20c0c0"/>
<polygon points="525.45,211.10 527.34,207.53 523.56,207.53" fill="#20c0c0"/>
<polygon points="534.10,220.10 535.99,216.53 532.21,216.53" fill="#20c0c0"/>
<polygon points="542.75,226.10 544.64,222.53 540.86,222.53" fill="#20c0c0"/>
<polygon points="551.40,232.10 553.29,228.53 549.51,228.53" fill="#20c0c0"/>
<polygon points="560.05,237.10 561.94,233.53 558.16,233.53" fill="#20c0c0"/>
<polygon points="568.70,242.10 570.59,238.53 566.81,238.53" fill="#20c0c0"/>
<polygon points="577.35,245.10 579.24,241.53 575.46,241.53" fill="#20c0c0"/>
<polygon points="586.00,247.90 587.89,244.33 584.11,244.33" fill="#20c0c0"/>
<polygon points="594.65,250.30 596.54,246.73 592.76,246.73" fill="#20c0c0"/>
<polygon points="603.30,253.40 605.19,249.83 601.41,249.83" fill="#20c0c0"/>
<polygon points="611.95,255.00 613.84,251.43 610.06,251.43" fill="#20c0c0"/>
<polygon points="620.60,256.60 622.49,253.03 618.71,253.03" fill="#20c0c0"/>
<polygon points="629.25,258.20 631.14,254.63 627.36,254.63" fill="#20c0c0"/>
<polygon points="637.90,258.70 639.79,255.13 636.01,255.13" fill="#20c0c0"/>
<polygon points="646.55,260.90 648.44,257.33 644.66,257.33" fill="#20c0c0"/>
<polygon points="655.20,262.10 657.09,258.53 653.31,258.53" fill="#20c0c0"/>
<polygon points="663.85,261.30 665.74,257.73 661.96,257.73" fill="#20c0c0"/>
<polygon points="672.50,262.90 674.39,259.33 670.61,259.33" fill="#20c0c0"/>
<path d="M499.50 170.40 L508.15 196.60 L516.80 209.60 L525.45 223.70 L534.10 232.00 L542.75 238.30 L551.40 243.70 L560.05 246.60 L568.70 250.00 L577.35 254.00 L586.00 256.10 L594.65 259.20 L603.30 261.90 L611.95 265.10 L620.60 264.80 L629.25 266.40 L637.90 267.10 L646.55 269.50 L655.20 271.10 L663.85 270.30 L672.50 270.80" fill="none" stroke="#ff0000" stroke-opacity="0.8" stroke-width="1.15"/>
<circle cx="499.50" cy="170.40" r="1.80" fill="#ff0000"/>
<circle cx="508.15" cy="196.60" r="1.80" fill="#ff0000"/>
<circle cx="516.80" cy="209.60" r="1.80" fill="#ff0000"/>
<circle cx="525.45" cy="223.70" r="1.80" fill="#ff0000"/>
<circle cx="534.10" cy="232.00" r="1.80" fill="#ff0000"/>
<circle cx="542.75" cy="238.30" r="1.80" fill="#ff0000"/>
<circle cx="551.40" cy="243.70" r="1.80" fill="#ff0000"/>
<circle cx="560.05" cy="246.60" r="1.80" fill="#ff0000"/>
<circle cx="568.70" cy="250.00" r="1.80" fill="#ff0000"/>
<circle cx="577.35" cy="254.00" r="1.80" fill="#ff0000"/>
<circle cx="586.00" cy="256.10" r="1.80" fill="#ff0000"/>
<circle cx="594.65" cy="259.20" r="1.80" fill="#ff0000"/>
<circle cx="603.30" cy="261.90" r="1.80" fill="#ff0000"/>
<circle cx="611.95" cy="265.10" r="1.80" fill="#ff0000"/>
<circle cx="620.60" cy="264.80" r="1.80" fill="#ff0000"/>
<circle cx="629.25" cy="266.40" r="1.80" fill="#ff0000"/>
<circle cx="637.90" cy="267.10" r="1.80" fill="#ff0000"/>
<circle cx="646.55" cy="269.50" r="1.80" fill="#ff0000"/>
<circle cx="655.20" cy="271.10" r="1.80" fill="#ff0000"/>
<circle cx="663.85" cy="270.30" r="1.80" fill="#ff0000"/>
<circle cx="672.50" cy="270.80" r="1.80" fill="#ff0000"/>
</g>
<rect x="490.5" y="167.5" width="190.50" height="110.70" fill="none" stroke="#333" stroke-width="1"/>
<line x1="499.50" y1="278.2" x2="499.50" y2="281.00" stroke="#333" stroke-width="0.9"/>
<text class="s" x="499.50" y="287.80" text-anchor="middle">0</text>
<line x1="534.10" y1="278.2" x2="534.10" y2="281.00" stroke="#333" stroke-width="0.9"/>
<text class="s" x="534.10" y="287.80" text-anchor="middle">20</text>
<line x1="568.70" y1="278.2" x2="568.70" y2="281.00" stroke="#333" stroke-width="0.9"/>
<text class="s" x="568.70" y="287.80" text-anchor="middle">40</text>
<line x1="603.30" y1="278.2" x2="603.30" y2="281.00" stroke="#333" stroke-width="0.9"/>
<text class="s" x="603.30" y="287.80" text-anchor="middle">60</text>
<line x1="637.90" y1="278.2" x2="637.90" y2="281.00" stroke="#333" stroke-width="0.9"/>
<text class="s" x="637.90" y="287.80" text-anchor="middle">80</text>
<line x1="672.50" y1="278.2" x2="672.50" y2="281.00" stroke="#333" stroke-width="0.9"/>
<text class="s" x="672.50" y="287.80" text-anchor="middle">100</text>
<line x1="487.70" y1="269.25" x2="490.5" y2="269.25" stroke="#333" stroke-width="0.9"/>
<text class="s" x="485.90" y="271.80" text-anchor="end">0.40</text>
<line x1="487.70" y1="254.25" x2="490.5" y2="254.25" stroke="#333" stroke-width="0.9"/>
<text class="s" x="485.90" y="256.80" text-anchor="end">0.45</text>
<line x1="487.70" y1="239.25" x2="490.5" y2="239.25" stroke="#333" stroke-width="0.9"/>
<text class="s" x="485.90" y="241.80" text-anchor="end">0.50</text>
<line x1="487.70" y1="224.25" x2="490.5" y2="224.25" stroke="#333" stroke-width="0.9"/>
<text class="s" x="485.90" y="226.80" text-anchor="end">0.55</text>
<line x1="487.70" y1="209.25" x2="490.5" y2="209.25" stroke="#333" stroke-width="0.9"/>
<text class="s" x="485.90" y="211.80" text-anchor="end">0.60</text>
<line x1="487.70" y1="194.25" x2="490.5" y2="194.25" stroke="#333" stroke-width="0.9"/>
<text class="s" x="485.90" y="196.80" text-anchor="end">0.65</text>
<line x1="487.70" y1="179.25" x2="490.5" y2="179.25" stroke="#333" stroke-width="0.9"/>
<text class="s" x="485.90" y="181.80" text-anchor="end">0.70</text>
<text class="t" x="585.75" y="163.90" text-anchor="middle">Housing</text>
<text class="t xl" x="585.75" y="298.50" text-anchor="middle">Number of queries</text>
<text class="t" x="0" y="0" text-anchor="middle" transform="translate(467.35,222.85) rotate(-90)">MZE</text>
</g>
<g>
<line x1="43.80" y1="318.4" x2="43.80" y2="429.0" stroke="#b0b0b0" stroke-width="0.8"/>
<line x1="78.40" y1="318.4" x2="78.40" y2="429.0" stroke="#b0b0b0" stroke-width="0.8"/>
<line x1="113.00" y1="318.4" x2="113.00" y2="429.0" stroke="#b0b0b0" stroke-width="0.8"/>
<line x1="147.60" y1="318.4" x2="147.60" y2="429.0" stroke="#b0b0b0" stroke-width="0.8"/>
<line x1="182.20" y1="318.4" x2="182.20" y2="429.0" stroke="#b0b0b0" stroke-width="0.8"/>
<line x1="216.80" y1="318.4" x2="216.80" y2="429.0" stroke="#b0b0b0" stroke-width="0.8"/>
<line x1="35.4" y1="418.25" x2="225.8" y2="418.25" stroke="#b0b0b0" stroke-width="0.8"/>
<line x1="35.4" y1="397.69" x2="225.8" y2="397.69" stroke="#b0b0b0" stroke-width="0.8"/>
<line x1="35.4" y1="377.12" x2="225.8" y2="377.12" stroke="#b0b0b0" stroke-width="0.8"/>
<line x1="35.4" y1="356.56" x2="225.8" y2="356.56" stroke="#b0b0b0" stroke-width="0.8"/>
<line x1="35.4" y1="336.00" x2="225.8" y2="336.00" stroke="#b0b0b0" stroke-width="0.8"/>
<defs><clipPath id="c6"><rect x="35.4" y="318.4" width="190.4" height="110.60000000000002"/></clipPath></defs>
<g clip-path="url(#c6)">
<path d="M43.80 322.00 L52.45 345.00 L61.10 357.00 L69.75 367.00 L78.40 374.00 L87.05 378.00 L95.70 382.00 L104.35 386.00 L113.00 389.00 L121.65 392.50 L130.30 395.50 L138.95 397.50 L147.60 399.50 L156.25 401.50 L164.90 403.00 L173.55 404.50 L182.20 406.00 L190.85 407.50 L199.50 409.00 L208.15 410.50 L216.80 411.50" fill="none" stroke="#0000ff" stroke-opacity="0.7" stroke-width="1.15"/>
<circle cx="43.80" cy="322.00" r="1.10" fill="#0000ff"/>
<circle cx="52.45" cy="345.00" r="1.10" fill="#0000ff"/>
<circle cx="61.10" cy="357.00" r="1.10" fill="#0000ff"/>
<circle cx="69.75" cy="367.00" r="1.10" fill="#0000ff"/>
<circle cx="78.40" cy="374.00" r="1.10" fill="#0000ff"/>
<circle cx="87.05" cy="378.00" r="1.10" fill="#0000ff"/>
<circle cx="95.70" cy="382.00" r="1.10" fill="#0000ff"/>
<circle cx="104.35" cy="386.00" r="1.10" fill="#0000ff"/>
<circle cx="113.00" cy="389.00" r="1.10" fill="#0000ff"/>
<circle cx="121.65" cy="392.50" r="1.10" fill="#0000ff"/>
<circle cx="130.30" cy="395.50" r="1.10" fill="#0000ff"/>
<circle cx="138.95" cy="397.50" r="1.10" fill="#0000ff"/>
<circle cx="147.60" cy="399.50" r="1.10" fill="#0000ff"/>
<circle cx="156.25" cy="401.50" r="1.10" fill="#0000ff"/>
<circle cx="164.90" cy="403.00" r="1.10" fill="#0000ff"/>
<circle cx="173.55" cy="404.50" r="1.10" fill="#0000ff"/>
<circle cx="182.20" cy="406.00" r="1.10" fill="#0000ff"/>
<circle cx="190.85" cy="407.50" r="1.10" fill="#0000ff"/>
<circle cx="199.50" cy="409.00" r="1.10" fill="#0000ff"/>
<circle cx="208.15" cy="410.50" r="1.10" fill="#0000ff"/>
<circle cx="216.80" cy="411.50" r="1.10" fill="#0000ff"/>
<path d="M43.80 322.00 L52.45 337.70 L61.10 341.50 L69.75 346.00 L78.40 351.20 L87.05 353.40 L95.70 354.30 L104.35 361.70 L113.00 366.90 L121.65 370.70 L130.30 372.10 L138.95 376.00 L147.60 380.20 L156.25 384.80 L164.90 386.00 L173.55 388.00 L182.20 392.00 L190.85 395.80 L199.50 397.40 L208.15 397.80 L216.80 400.00" fill="none" stroke="#ff8c00" stroke-opacity="0.8" stroke-width="1.15"/>
<polygon points="41.70,322.00 45.27,320.11 45.27,323.89" fill="#ff8c00"/>
<polygon points="50.35,337.70 53.92,335.81 53.92,339.59" fill="#ff8c00"/>
<polygon points="59.00,341.50 62.57,339.61 62.57,343.39" fill="#ff8c00"/>
<polygon points="67.65,346.00 71.22,344.11 71.22,347.89" fill="#ff8c00"/>
<polygon points="76.30,351.20 79.87,349.31 79.87,353.09" fill="#ff8c00"/>
<polygon points="84.95,353.40 88.52,351.51 88.52,355.29" fill="#ff8c00"/>
<polygon points="93.60,354.30 97.17,352.41 97.17,356.19" fill="#ff8c00"/>
<polygon points="102.25,361.70 105.82,359.81 105.82,363.59" fill="#ff8c00"/>
<polygon points="110.90,366.90 114.47,365.01 114.47,368.79" fill="#ff8c00"/>
<polygon points="119.55,370.70 123.12,368.81 123.12,372.59" fill="#ff8c00"/>
<polygon points="128.20,372.10 131.77,370.21 131.77,373.99" fill="#ff8c00"/>
<polygon points="136.85,376.00 140.42,374.11 140.42,377.89" fill="#ff8c00"/>
<polygon points="145.50,380.20 149.07,378.31 149.07,382.09" fill="#ff8c00"/>
<polygon points="154.15,384.80 157.72,382.91 157.72,386.69" fill="#ff8c00"/>
<polygon points="162.80,386.00 166.37,384.11 166.37,387.89" fill="#ff8c00"/>
<polygon points="171.45,388.00 175.02,386.11 175.02,389.89" fill="#ff8c00"/>
<polygon points="180.10,392.00 183.67,390.11 183.67,393.89" fill="#ff8c00"/>
<polygon points="188.75,395.80 192.32,393.91 192.32,397.69" fill="#ff8c00"/>
<polygon points="197.40,397.40 200.97,395.51 200.97,399.29" fill="#ff8c00"/>
<polygon points="206.05,397.80 209.62,395.91 209.62,399.69" fill="#ff8c00"/>
<polygon points="214.70,400.00 218.27,398.11 218.27,401.89" fill="#ff8c00"/>
<path d="M43.80 322.00 L52.45 338.00 L61.10 344.00 L69.75 353.90 L78.40 361.70 L87.05 371.40 L95.70 372.30 L104.35 381.20 L113.00 384.10 L121.65 389.30 L130.30 391.10 L138.95 393.90 L147.60 395.50 L156.25 399.30 L164.90 402.50 L173.55 402.50 L182.20 402.50 L190.85 406.30 L199.50 408.80 L208.15 410.70 L216.80 411.00" fill="none" stroke="#bcbd22" stroke-opacity="0.6" stroke-width="1.15"/>
<polygon points="45.90,322.00 42.33,320.11 42.33,323.89" fill="#bcbd22"/>
<polygon points="54.55,338.00 50.98,336.11 50.98,339.89" fill="#bcbd22"/>
<polygon points="63.20,344.00 59.63,342.11 59.63,345.89" fill="#bcbd22"/>
<polygon points="71.85,353.90 68.28,352.01 68.28,355.79" fill="#bcbd22"/>
<polygon points="80.50,361.70 76.93,359.81 76.93,363.59" fill="#bcbd22"/>
<polygon points="89.15,371.40 85.58,369.51 85.58,373.29" fill="#bcbd22"/>
<polygon points="97.80,372.30 94.23,370.41 94.23,374.19" fill="#bcbd22"/>
<polygon points="106.45,381.20 102.88,379.31 102.88,383.09" fill="#bcbd22"/>
<polygon points="115.10,384.10 111.53,382.21 111.53,385.99" fill="#bcbd22"/>
<polygon points="123.75,389.30 120.18,387.41 120.18,391.19" fill="#bcbd22"/>
<polygon points="132.40,391.10 128.83,389.21 128.83,392.99" fill="#bcbd22"/>
<polygon points="141.05,393.90 137.48,392.01 137.48,395.79" fill="#bcbd22"/>
<polygon points="149.70,395.50 146.13,393.61 146.13,397.39" fill="#bcbd22"/>
<polygon points="158.35,399.30 154.78,397.41 154.78,401.19" fill="#bcbd22"/>
<polygon points="167.00,402.50 163.43,400.61 163.43,404.39" fill="#bcbd22"/>
<polygon points="175.65,402.50 172.08,400.61 172.08,404.39" fill="#bcbd22"/>
<polygon points="184.30,402.50 180.73,400.61 180.73,404.39" fill="#bcbd22"/>
<polygon points="192.95,406.30 189.38,404.41 189.38,408.19" fill="#bcbd22"/>
<polygon points="201.60,408.80 198.03,406.91 198.03,410.69" fill="#bcbd22"/>
<polygon points="210.25,410.70 206.68,408.81 206.68,412.59" fill="#bcbd22"/>
<polygon points="218.90,411.00 215.33,409.11 215.33,412.89" fill="#bcbd22"/>
<path d="M43.80 322.00 L52.45 351.60 L61.10 359.50 L69.75 371.40 L78.40 375.80 L87.05 378.50 L95.70 381.90 L104.35 385.20 L113.00 388.60 L121.65 391.00 L130.30 393.10 L138.95 395.50 L147.60 398.00 L156.25 401.00 L164.90 403.50 L173.55 405.50 L182.20 407.20 L190.85 410.10 L199.50 412.00 L208.15 413.00 L216.80 413.90" fill="none" stroke="#008000" stroke-opacity="0.75" stroke-width="1.15"/>
<polygon points="43.80,319.90 45.69,323.47 41.91,323.47" fill="#008000"/>
<polygon points="52.45,349.50 54.34,353.07 50.56,353.07" fill="#008000"/>
<polygon points="61.10,357.40 62.99,360.97 59.21,360.97" fill="#008000"/>
<polygon points="69.75,369.30 71.64,372.87 67.86,372.87" fill="#008000"/>
<polygon points="78.40,373.70 80.29,377.27 76.51,377.27" fill="#008000"/>
<polygon points="87.05,376.40 88.94,379.97 85.16,379.97" fill="#008000"/>
<polygon points="95.70,379.80 97.59,383.37 93.81,383.37" fill="#008000"/>
<polygon points="104.35,383.10 106.24,386.67 102.46,386.67" fill="#008000"/>
<polygon points="113.00,386.50 114.89,390.07 111.11,390.07" fill="#008000"/>
<polygon points="121.65,388.90 123.54,392.47 119.76,392.47" fill="#008000"/>
<polygon points="130.30,391.00 132.19,394.57 128.41,394.57" fill="#008000"/>
<polygon points="138.95,393.40 140.84,396.97 137.06,396.97" fill="#008000"/>
<polygon points="147.60,395.90 149.49,399.47 145.71,399.47" fill="#008000"/>
<polygon points="156.25,398.90 158.14,402.47 154.36,402.47" fill="#008000"/>
<polygon points="164.90,401.40 166.79,404.97 163.01,404.97" fill="#008000"/>
<polygon points="173.55,403.40 175.44,406.97 171.66,406.97" fill="#008000"/>
<polygon points="182.20,405.10 184.09,408.67 180.31,408.67" fill="#008000"/>
<polygon points="190.85,408.00 192.74,411.57 188.96,411.57" fill="#008000"/>
<polygon points="199.50,409.90 201.39,413.47 197.61,413.47" fill="#008000"/>
<polygon points="208.15,410.90 210.04,414.47 206.26,414.47" fill="#008000"/>
<polygon points="216.80,411.80 218.69,415.37 214.91,415.37" fill="#008000"/>
<path d="M43.80 322.00 L52.45 340.00 L61.10 345.00 L69.75 358.40 L78.40 367.80 L87.05 374.00 L95.70 378.00 L104.35 381.90 L113.00 383.50 L121.65 386.00 L130.30 388.20 L138.95 392.00 L147.60 393.00 L156.25 395.50 L164.90 397.40 L173.55 397.40 L182.20 399.30 L190.85 400.60 L199.50 402.50 L208.15 403.80 L216.80 405.70" fill="none" stroke="#a0522d" stroke-opacity="0.5" stroke-width="1.15"/>
<polygon points="45.28,322.61 44.41,323.48 43.19,323.48 42.32,322.61 42.32,321.39 43.19,320.52 44.41,320.52 45.28,321.39" fill="#a0522d"/>
<polygon points="53.93,340.61 53.06,341.48 51.84,341.48 50.97,340.61 50.97,339.39 51.84,338.52 53.06,338.52 53.93,339.39" fill="#a0522d"/>
<polygon points="62.58,345.61 61.71,346.48 60.49,346.48 59.62,345.61 59.62,344.39 60.49,343.52 61.71,343.52 62.58,344.39" fill="#a0522d"/>
<polygon points="71.23,359.01 70.36,359.88 69.14,359.88 68.27,359.01 68.27,357.79 69.14,356.92 70.36,356.92 71.23,357.79" fill="#a0522d"/>
<polygon points="79.88,368.41 79.01,369.28 77.79,369.28 76.92,368.41 76.92,367.19 77.79,366.32 79.01,366.32 79.88,367.19" fill="#a0522d"/>
<polygon points="88.53,374.61 87.66,375.48 86.44,375.48 85.57,374.61 85.57,373.39 86.44,372.52 87.66,372.52 88.53,373.39" fill="#a0522d"/>
<polygon points="97.18,378.61 96.31,379.48 95.09,379.48 94.22,378.61 94.22,377.39 95.09,376.52 96.31,376.52 97.18,377.39" fill="#a0522d"/>
<polygon points="105.83,382.51 104.96,383.38 103.74,383.38 102.87,382.51 102.87,381.29 103.74,380.42 104.96,380.42 105.83,381.29" fill="#a0522d"/>
<polygon points="114.48,384.11 113.61,384.98 112.39,384.98 111.52,384.11 111.52,382.89 112.39,382.02 113.61,382.02 114.48,382.89" fill="#a0522d"/>
<polygon points="123.13,386.61 122.26,387.48 121.04,387.48 120.17,386.61 120.17,385.39 121.04,384.52 122.26,384.52 123.13,385.39" fill="#a0522d"/>
<polygon points="131.78,388.81 130.91,389.68 129.69,389.68 128.82,388.81 128.82,387.59 129.69,386.72 130.91,386.72 131.78,387.59" fill="#a0522d"/>
<polygon points="140.43,392.61 139.56,393.48 138.34,393.48 137.47,392.61 137.47,391.39 138.34,390.52 139.56,390.52 140.43,391.39" fill="#a0522d"/>
<polygon points="149.08,393.61 148.21,394.48 146.99,394.48 146.12,393.61 146.12,392.39 146.99,391.52 148.21,391.52 149.08,392.39" fill="#a0522d"/>
<polygon points="157.73,396.11 156.86,396.98 155.64,396.98 154.77,396.11 154.77,394.89 155.64,394.02 156.86,394.02 157.73,394.89" fill="#a0522d"/>
<polygon points="166.38,398.01 165.51,398.88 164.29,398.88 163.42,398.01 163.42,396.79 164.29,395.92 165.51,395.92 166.38,396.79" fill="#a0522d"/>
<polygon points="175.03,398.01 174.16,398.88 172.94,398.88 172.07,398.01 172.07,396.79 172.94,395.92 174.16,395.92 175.03,396.79" fill="#a0522d"/>
<polygon points="183.68,399.91 182.81,400.78 181.59,400.78 180.72,399.91 180.72,398.69 181.59,397.82 182.81,397.82 183.68,398.69" fill="#a0522d"/>
<polygon points="192.33,401.21 191.46,402.08 190.24,402.08 189.37,401.21 189.37,399.99 190.24,399.12 191.46,399.12 192.33,399.99" fill="#a0522d"/>
<polygon points="200.98,403.11 200.11,403.98 198.89,403.98 198.02,403.11 198.02,401.89 198.89,401.02 200.11,401.02 200.98,401.89" fill="#a0522d"/>
<polygon points="209.63,404.41 208.76,405.28 207.54,405.28 206.67,404.41 206.67,403.19 207.54,402.32 208.76,402.32 209.63,403.19" fill="#a0522d"/>
<polygon points="218.28,406.31 217.41,407.18 216.19,407.18 215.32,406.31 215.32,405.09 216.19,404.22 217.41,404.22 218.28,405.09" fill="#a0522d"/>
<path d="M43.80 322.00 L52.45 332.00 L61.10 336.40 L69.75 334.80 L78.40 333.70 L87.05 335.00 L95.70 338.60 L104.35 343.10 L113.00 346.70 L121.65 352.80 L130.30 357.80 L138.95 362.60 L147.60 367.70 L156.25 371.10 L164.90 374.90 L173.55 380.60 L182.20 383.50 L190.85 386.30 L199.50 389.20 L208.15 391.10 L216.80 393.90" fill="none" stroke="#ee82ee" stroke-opacity="0.9" stroke-width="1.15"/>
<polygon points="43.08,320.00 44.52,320.00 44.52,321.28 45.80,321.28 45.80,322.72 44.52,322.72 44.52,324.00 43.08,324.00 43.08,322.72 41.80,322.72 41.80,321.28 43.08,321.28" fill="#ee82ee"/>
<polygon points="51.73,330.00 53.17,330.00 53.17,331.28 54.45,331.28 54.45,332.72 53.17,332.72 53.17,334.00 51.73,334.00 51.73,332.72 50.45,332.72 50.45,331.28 51.73,331.28" fill="#ee82ee"/>
<polygon points="60.38,334.40 61.82,334.40 61.82,335.68 63.10,335.68 63.10,337.12 61.82,337.12 61.82,338.40 60.38,338.40 60.38,337.12 59.10,337.12 59.10,335.68 60.38,335.68" fill="#ee82ee"/>
<polygon points="69.03,332.80 70.47,332.80 70.47,334.08 71.75,334.08 71.75,335.52 70.47,335.52 70.47,336.80 69.03,336.80 69.03,335.52 67.75,335.52 67.75,334.08 69.03,334.08" fill="#ee82ee"/>
<polygon points="77.68,331.70 79.12,331.70 79.12,332.98 80.40,332.98 80.40,334.42 79.12,334.42 79.12,335.70 77.68,335.70 77.68,334.42 76.40,334.42 76.40,332.98 77.68,332.98" fill="#ee82ee"/>
<polygon points="86.33,333.00 87.77,333.00 87.77,334.28 89.05,334.28 89.05,335.72 87.77,335.72 87.77,337.00 86.33,337.00 86.33,335.72 85.05,335.72 85.05,334.28 86.33,334.28" fill="#ee82ee"/>
<polygon points="94.98,336.60 96.42,336.60 96.42,337.88 97.70,337.88 97.70,339.32 96.42,339.32 96.42,340.60 94.98,340.60 94.98,339.32 93.70,339.32 93.70,337.88 94.98,337.88" fill="#ee82ee"/>
<polygon points="103.63,341.10 105.07,341.10 105.07,342.38 106.35,342.38 106.35,343.82 105.07,343.82 105.07,345.10 103.63,345.10 103.63,343.82 102.35,343.82 102.35,342.38 103.63,342.38" fill="#ee82ee"/>
<polygon points="112.28,344.70 113.72,344.70 113.72,345.98 115.00,345.98 115.00,347.42 113.72,347.42 113.72,348.70 112.28,348.70 112.28,347.42 111.00,347.42 111.00,345.98 112.28,345.98" fill="#ee82ee"/>
<polygon points="120.93,350.80 122.37,350.80 122.37,352.08 123.65,352.08 123.65,353.52 122.37,353.52 122.37,354.80 120.93,354.80 120.93,353.52 119.65,353.52 119.65,352.08 120.93,352.08" fill="#ee82ee"/>
<polygon points="129.58,355.80 131.02,355.80 131.02,357.08 132.30,357.08 132.30,358.52 131.02,358.52 131.02,359.80 129.58,359.80 129.58,358.52 128.30,358.52 128.30,357.08 129.58,357.08" fill="#ee82ee"/>
<polygon points="138.23,360.60 139.67,360.60 139.67,361.88 140.95,361.88 140.95,363.32 139.67,363.32 139.67,364.60 138.23,364.60 138.23,363.32 136.95,363.32 136.95,361.88 138.23,361.88" fill="#ee82ee"/>
<polygon points="146.88,365.70 148.32,365.70 148.32,366.98 149.60,366.98 149.60,368.42 148.32,368.42 148.32,369.70 146.88,369.70 146.88,368.42 145.60,368.42 145.60,366.98 146.88,366.98" fill="#ee82ee"/>
<polygon points="155.53,369.10 156.97,369.10 156.97,370.38 158.25,370.38 158.25,371.82 156.97,371.82 156.97,373.10 155.53,373.10 155.53,371.82 154.25,371.82 154.25,370.38 155.53,370.38" fill="#ee82ee"/>
<polygon points="164.18,372.90 165.62,372.90 165.62,374.18 166.90,374.18 166.90,375.62 165.62,375.62 165.62,376.90 164.18,376.90 164.18,375.62 162.90,375.62 162.90,374.18 164.18,374.18" fill="#ee82ee"/>
<polygon points="172.83,378.60 174.27,378.60 174.27,379.88 175.55,379.88 175.55,381.32 174.27,381.32 174.27,382.60 172.83,382.60 172.83,381.32 171.55,381.32 171.55,379.88 172.83,379.88" fill="#ee82ee"/>
<polygon points="181.48,381.50 182.92,381.50 182.92,382.78 184.20,382.78 184.20,384.22 182.92,384.22 182.92,385.50 181.48,385.50 181.48,384.22 180.20,384.22 180.20,382.78 181.48,382.78" fill="#ee82ee"/>
<polygon points="190.13,384.30 191.57,384.30 191.57,385.58 192.85,385.58 192.85,387.02 191.57,387.02 191.57,388.30 190.13,388.30 190.13,387.02 188.85,387.02 188.85,385.58 190.13,385.58" fill="#ee82ee"/>
<polygon points="198.78,387.20 200.22,387.20 200.22,388.48 201.50,388.48 201.50,389.92 200.22,389.92 200.22,391.20 198.78,391.20 198.78,389.92 197.50,389.92 197.50,388.48 198.78,388.48" fill="#ee82ee"/>
<polygon points="207.43,389.10 208.87,389.10 208.87,390.38 210.15,390.38 210.15,391.82 208.87,391.82 208.87,393.10 207.43,393.10 207.43,391.82 206.15,391.82 206.15,390.38 207.43,390.38" fill="#ee82ee"/>
<polygon points="216.08,391.90 217.52,391.90 217.52,393.18 218.80,393.18 218.80,394.62 217.52,394.62 217.52,395.90 216.08,395.90 216.08,394.62 214.80,394.62 214.80,393.18 216.08,393.18" fill="#ee82ee"/>
<path d="M43.80 322.00 L52.45 329.70 L61.10 331.90 L69.75 331.00 L78.40 333.20 L87.05 334.80 L95.70 339.30 L104.35 344.50 L113.00 348.30 L121.65 355.70 L130.30 359.30 L138.95 365.40 L147.60 372.60 L156.25 377.20 L164.90 380.60 L173.55 384.00 L182.20 386.00 L190.85 387.90 L199.50 390.00 L208.15 392.00 L216.80 394.30" fill="none" stroke="#707070" stroke-opacity="0.8" stroke-width="1.15"/>
<path d="M42.38 320.57L45.22 323.43M42.38 323.43L45.22 320.57" stroke="#555555" stroke-width="1.1"/>
<path d="M51.02 328.27L53.87 331.12M51.02 331.12L53.87 328.27" stroke="#555555" stroke-width="1.1"/>
<path d="M59.67 330.47L62.52 333.32M59.67 333.32L62.52 330.47" stroke="#555555" stroke-width="1.1"/>
<path d="M68.33 329.57L71.17 332.43M68.33 332.43L71.17 329.57" stroke="#555555" stroke-width="1.1"/>
<path d="M76.98 331.77L79.83 334.62M76.98 334.62L79.83 331.77" stroke="#555555" stroke-width="1.1"/>
<path d="M85.62 333.38L88.47 336.23M85.62 336.23L88.47 333.38" stroke="#555555" stroke-width="1.1"/>
<path d="M94.27 337.88L97.12 340.73M94.27 340.73L97.12 337.88" stroke="#555555" stroke-width="1.1"/>
<path d="M102.92 343.07L105.77 345.93M102.92 345.93L105.77 343.07" stroke="#555555" stroke-width="1.1"/>
<path d="M111.58 346.88L114.42 349.73M111.58 349.73L114.42 346.88" stroke="#555555" stroke-width="1.1"/>
<path d="M120.22 354.27L123.07 357.12M120.22 357.12L123.07 354.27" stroke="#555555" stroke-width="1.1"/>
<path d="M128.88 357.88L131.73 360.73M128.88 360.73L131.73 357.88" stroke="#555555" stroke-width="1.1"/>
<path d="M137.52 363.97L140.38 366.82M137.52 366.82L140.38 363.97" stroke="#555555" stroke-width="1.1"/>
<path d="M146.17 371.18L149.03 374.03M146.17 374.03L149.03 371.18" stroke="#555555" stroke-width="1.1"/>
<path d="M154.82 375.77L157.68 378.62M154.82 378.62L157.68 375.77" stroke="#555555" stroke-width="1.1"/>
<path d="M163.47 379.18L166.32 382.03M163.47 382.03L166.32 379.18" stroke="#555555" stroke-width="1.1"/>
<path d="M172.12 382.57L174.98 385.43M172.12 385.43L174.98 382.57" stroke="#555555" stroke-width="1.1"/>
<path d="M180.77 384.57L183.62 387.43M180.77 387.43L183.62 384.57" stroke="#555555" stroke-width="1.1"/>
<path d="M189.43 386.47L192.28 389.32M189.43 389.32L192.28 386.47" stroke="#555555" stroke-width="1.1"/>
<path d="M198.07 388.57L200.93 391.43M198.07 391.43L200.93 388.57" stroke="#555555" stroke-width="1.1"/>
<path d="M206.72 390.57L209.57 393.43M206.72 393.43L209.57 390.57" stroke="#555555" stroke-width="1.1"/>
<path d="M215.38 392.88L218.23 395.73M215.38 395.73L218.23 392.88" stroke="#555555" stroke-width="1.1"/>
<path d="M43.80 322.00 L52.45 346.00 L61.10 358.00 L69.75 370.00 L78.40 378.10 L87.05 381.20 L95.70 384.80 L104.35 386.50 L113.00 388.60 L121.65 392.00 L130.30 394.90 L138.95 396.20 L147.60 397.70 L156.25 401.20 L164.90 403.50 L173.55 405.00 L182.20 405.70 L190.85 407.20 L199.50 408.20 L208.15 409.00 L216.80 409.50" fill="none" stroke="#c000c0" stroke-opacity="0.8" stroke-width="1.15"/>
<polygon points="43.80,319.90 45.06,322.00 43.80,324.10 42.54,322.00" fill="#c000c0"/>
<polygon points="52.45,343.90 53.71,346.00 52.45,348.10 51.19,346.00" fill="#c000c0"/>
<polygon points="61.10,355.90 62.36,358.00 61.10,360.10 59.84,358.00" fill="#c000c0"/>
<polygon points="69.75,367.90 71.01,370.00 69.75,372.10 68.49,370.00" fill="#c000c0"/>
<polygon points="78.40,376.00 79.66,378.10 78.40,380.20 77.14,378.10" fill="#c000c0"/>
<polygon points="87.05,379.10 88.31,381.20 87.05,383.30 85.79,381.20" fill="#c000c0"/>
<polygon points="95.70,382.70 96.96,384.80 95.70,386.90 94.44,384.80" fill="#c000c0"/>
<polygon points="104.35,384.40 105.61,386.50 104.35,388.60 103.09,386.50" fill="#c000c0"/>
<polygon points="113.00,386.50 114.26,388.60 113.00,390.70 111.74,388.60" fill="#c000c0"/>
<polygon points="121.65,389.90 122.91,392.00 121.65,394.10 120.39,392.00" fill="#c000c0"/>
<polygon points="130.30,392.80 131.56,394.90 130.30,397.00 129.04,394.90" fill="#c000c0"/>
<polygon points="138.95,394.10 140.21,396.20 138.95,398.30 137.69,396.20" fill="#c000c0"/>
<polygon points="147.60,395.60 148.86,397.70 147.60,399.80 146.34,397.70" fill="#c000c0"/>
<polygon points="156.25,399.10 157.51,401.20 156.25,403.30 154.99,401.20" fill="#c000c0"/>
<polygon points="164.90,401.40 166.16,403.50 164.90,405.60 163.64,403.50" fill="#c000c0"/>
<polygon points="173.55,402.90 174.81,405.00 173.55,407.10 172.29,405.00" fill="#c000c0"/>
<polygon points="182.20,403.60 183.46,405.70 182.20,407.80 180.94,405.70" fill="#c000c0"/>
<polygon points="190.85,405.10 192.11,407.20 190.85,409.30 189.59,407.20" fill="#c000c0"/>
<polygon points="199.50,406.10 200.76,408.20 199.50,410.30 198.24,408.20" fill="#c000c0"/>
<polygon points="208.15,406.90 209.41,409.00 208.15,411.10 206.89,409.00" fill="#c000c0"/>
<polygon points="216.80,407.40 218.06,409.50 216.80,411.60 215.54,409.50" fill="#c000c0"/>
<path d="M43.80 322.00 L52.45 341.00 L61.10 353.40 L69.75 364.00 L78.40 369.60 L87.05 372.90 L95.70 377.40 L104.35 375.80 L113.00 377.40 L121.65 380.30 L130.30 380.60 L138.95 381.60 L147.60 383.50 L156.25 383.50 L164.90 384.80 L173.55 388.20 L182.20 390.10 L190.85 390.10 L199.50 391.70 L208.15 394.30 L216.80 395.50" fill="none" stroke="#4169e1" stroke-opacity="0.6" stroke-width="1.15"/>
<rect x="42.15" y="320.35" width="3.30" height="3.30" fill="#4169e1"/>
<rect x="50.80" y="339.35" width="3.30" height="3.30" fill="#4169e1"/>
<rect x="59.45" y="351.75" width="3.30" height="3.30" fill="#4169e1"/>
<rect x="68.10" y="362.35" width="3.30" height="3.30" fill="#4169e1"/>
<rect x="76.75" y="367.95" width="3.30" height="3.30" fill="#4169e1"/>
<rect x="85.40" y="371.25" width="3.30" height="3.30" fill="#4169e1"/>
<rect x="94.05" y="375.75" width="3.30" height="3.30" fill="#4169e1"/>
<rect x="102.70" y="374.15" width="3.30" height="3.30" fill="#4169e1"/>
<rect x="111.35" y="375.75" width="3.30" height="3.30" fill="#4169e1"/>
<rect x="120.00" y="378.65" width="3.30" height="3.30" fill="#4169e1"/>
<rect x="128.65" y="378.95" width="3.30" height="3.30" fill="#4169e1"/>
<rect x="137.30" y="379.95" width="3.30" height="3.30" fill="#4169e1"/>
<rect x="145.95" y="381.85" width="3.30" height="3.30" fill="#4169e1"/>
<rect x="154.60" y="381.85" width="3.30" height="3.30" fill="#4169e1"/>
<rect x="163.25" y="383.15" width="3.30" height="3.30" fill="#4169e1"/>
<rect x="171.90" y="386.55" width="3.30" height="3.30" fill="#4169e1"/>
<rect x="180.55" y="388.45" width="3.30" height="3.30" fill="#4169e1"/>
<rect x="189.20" y="388.45" width="3.30" height="3.30" fill="#4169e1"/>
<rect x="197.85" y="390.05" width="3.30" height="3.30" fill="#4169e1"/>
<rect x="206.50" y="392.65" width="3.30" height="3.30" fill="#4169e1"/>
<rect x="215.15" y="393.85" width="3.30" height="3.30" fill="#4169e1"/>
<path d="M43.80 322.00 L52.45 334.10 L61.10 344.50 L69.75 350.50 L78.40 356.60 L87.05 361.00 L95.70 364.40 L104.35 368.40 L113.00 371.40 L121.65 374.10 L130.30 375.90 L138.95 375.90 L147.60 379.70 L156.25 379.10 L164.90 381.60 L173.55 384.80 L182.20 386.00 L190.85 387.90 L199.50 388.20 L208.15 388.60 L216.80 391.70" fill="none" stroke="#4b0082" stroke-opacity="0.75" stroke-width="1.15"/>
<circle cx="43.80" cy="322.00" r="1.70" fill="#4b0082"/>
<circle cx="52.45" cy="334.10" r="1.70" fill="#4b0082"/>
<circle cx="61.10" cy="344.50" r="1.70" fill="#4b0082"/>
<circle cx="69.75" cy="350.50" r="1.70" fill="#4b0082"/>
<circle cx="78.40" cy="356.60" r="1.70" fill="#4b0082"/>
<circle cx="87.05" cy="361.00" r="1.70" fill="#4b0082"/>
<circle cx="95.70" cy="364.40" r="1.70" fill="#4b0082"/>
<circle cx="104.35" cy="368.40" r="1.70" fill="#4b0082"/>
<circle cx="113.00" cy="371.40" r="1.70" fill="#4b0082"/>
<circle cx="121.65" cy="374.10" r="1.70" fill="#4b0082"/>
<circle cx="130.30" cy="375.90" r="1.70" fill="#4b0082"/>
<circle cx="138.95" cy="375.90" r="1.70" fill="#4b0082"/>
<circle cx="147.60" cy="379.70" r="1.70" fill="#4b0082"/>
<circle cx="156.25" cy="379.10" r="1.70" fill="#4b0082"/>
<circle cx="164.90" cy="381.60" r="1.70" fill="#4b0082"/>
<circle cx="173.55" cy="384.80" r="1.70" fill="#4b0082"/>
<circle cx="182.20" cy="386.00" r="1.70" fill="#4b0082"/>
<circle cx="190.85" cy="387.90" r="1.70" fill="#4b0082"/>
<circle cx="199.50" cy="388.20" r="1.70" fill="#4b0082"/>
<circle cx="208.15" cy="388.60" r="1.70" fill="#4b0082"/>
<circle cx="216.80" cy="391.70" r="1.70" fill="#4b0082"/>
<path d="M43.80 322.00 L52.45 342.70 L61.10 356.00 L69.75 366.00 L78.40 373.00 L87.05 377.40 L95.70 382.60 L104.35 386.50 L113.00 390.20 L121.65 394.70 L130.30 396.80 L138.95 398.70 L147.60 400.60 L156.25 403.00 L164.90 403.80 L173.55 405.00 L182.20 406.80 L190.85 408.20 L199.50 408.20 L208.15 410.70 L216.80 411.40" fill="none" stroke="#00c0c0" stroke-opacity="0.5" stroke-width="1.15"/>
<polygon points="43.80,324.10 45.69,320.53 41.91,320.53" fill="#20c0c0"/>
<polygon points="52.45,344.80 54.34,341.23 50.56,341.23" fill="#20c0c0"/>
<polygon points="61.10,358.10 62.99,354.53 59.21,354.53" fill="#20c0c0"/>
<polygon points="69.75,368.10 71.64,364.53 67.86,364.53" fill="#20c0c0"/>
<polygon points="78.40,375.10 80.29,371.53 76.51,371.53" fill="#20c0c0"/>
<polygon points="87.05,379.50 88.94,375.93 85.16,375.93" fill="#20c0c0"/>
<polygon points="95.70,384.70 97.59,381.13 93.81,381.13" fill="#20c0c0"/>
<polygon points="104.35,388.60 106.24,385.03 102.46,385.03" fill="#20c0c0"/>
<polygon points="113.00,392.30 114.89,388.73 111.11,388.73" fill="#20c0c0"/>
<polygon points="121.65,396.80 123.54,393.23 119.76,393.23" fill="#20c0c0"/>
<polygon points="130.30,398.90 132.19,395.33 128.41,395.33" fill="#20c0c0"/>
<polygon points="138.95,400.80 140.84,397.23 137.06,397.23" fill="#20c0c0"/>
<polygon points="147.60,402.70 149.49,399.13 145.71,399.13" fill="#20c0c0"/>
<polygon points="156.25,405.10 158.14,401.53 154.36,401.53" fill="#20c0c0"/>
<polygon points="164.90,405.90 166.79,402.33 163.01,402.33" fill="#20c0c0"/>
<polygon points="173.55,407.10 175.44,403.53 171.66,403.53" fill="#20c0c0"/>
<polygon points="182.20,408.90 184.09,405.33 180.31,405.33" fill="#20c0c0"/>
<polygon points="190.85,410.30 192.74,406.73 188.96,406.73" fill="#20c0c0"/>
<polygon points="199.50,410.30 201.39,406.73 197.61,406.73" fill="#20c0c0"/>
<polygon points="208.15,412.80 210.04,409.23 206.26,409.23" fill="#20c0c0"/>
<polygon points="216.80,413.50 218.69,409.93 214.91,409.93" fill="#20c0c0"/>
<path d="M43.80 322.00 L52.45 353.40 L61.10 365.10 L69.75 374.70 L78.40 384.10 L87.05 392.40 L95.70 397.60 L104.35 399.20 L113.00 404.30 L121.65 408.10 L130.30 409.90 L138.95 410.10 L147.60 412.00 L156.25 414.80 L164.90 416.70 L173.55 418.10 L182.20 419.00 L190.85 422.50 L199.50 423.40 L208.15 424.40 L216.80 424.70" fill="none" stroke="#ff0000" stroke-opacity="0.8" stroke-width="1.15"/>
<circle cx="43.80" cy="322.00" r="1.80" fill="#ff0000"/>
<circle cx="52.45" cy="353.40" r="1.80" fill="#ff0000"/>
<circle cx="61.10" cy="365.10" r="1.80" fill="#ff0000"/>
<circle cx="69.75" cy="374.70" r="1.80" fill="#ff0000"/>
<circle cx="78.40" cy="384.10" r="1.80" fill="#ff0000"/>
<circle cx="87.05" cy="392.40" r="1.80" fill="#ff0000"/>
<circle cx="95.70" cy="397.60" r="1.80" fill="#ff0000"/>
<circle cx="104.35" cy="399.20" r="1.80" fill="#ff0000"/>
<circle cx="113.00" cy="404.30" r="1.80" fill="#ff0000"/>
<circle cx="121.65" cy="408.10" r="1.80" fill="#ff0000"/>
<circle cx="130.30" cy="409.90" r="1.80" fill="#ff0000"/>
<circle cx="138.95" cy="410.10" r="1.80" fill="#ff0000"/>
<circle cx="147.60" cy="412.00" r="1.80" fill="#ff0000"/>
<circle cx="156.25" cy="414.80" r="1.80" fill="#ff0000"/>
<circle cx="164.90" cy="416.70" r="1.80" fill="#ff0000"/>
<circle cx="173.55" cy="418.10" r="1.80" fill="#ff0000"/>
<circle cx="182.20" cy="419.00" r="1.80" fill="#ff0000"/>
<circle cx="190.85" cy="422.50" r="1.80" fill="#ff0000"/>
<circle cx="199.50" cy="423.40" r="1.80" fill="#ff0000"/>
<circle cx="208.15" cy="424.40" r="1.80" fill="#ff0000"/>
<circle cx="216.80" cy="424.70" r="1.80" fill="#ff0000"/>
</g>
<rect x="35.4" y="318.4" width="190.40" height="110.60" fill="none" stroke="#333" stroke-width="1"/>
<line x1="43.80" y1="429.0" x2="43.80" y2="431.80" stroke="#333" stroke-width="0.9"/>
<text class="s" x="43.80" y="438.60" text-anchor="middle">0</text>
<line x1="78.40" y1="429.0" x2="78.40" y2="431.80" stroke="#333" stroke-width="0.9"/>
<text class="s" x="78.40" y="438.60" text-anchor="middle">20</text>
<line x1="113.00" y1="429.0" x2="113.00" y2="431.80" stroke="#333" stroke-width="0.9"/>
<text class="s" x="113.00" y="438.60" text-anchor="middle">40</text>
<line x1="147.60" y1="429.0" x2="147.60" y2="431.80" stroke="#333" stroke-width="0.9"/>
<text class="s" x="147.60" y="438.60" text-anchor="middle">60</text>
<line x1="182.20" y1="429.0" x2="182.20" y2="431.80" stroke="#333" stroke-width="0.9"/>
<text class="s" x="182.20" y="438.60" text-anchor="middle">80</text>
<line x1="216.80" y1="429.0" x2="216.80" y2="431.80" stroke="#333" stroke-width="0.9"/>
<text class="s" x="216.80" y="438.60" text-anchor="middle">100</text>
<line x1="32.60" y1="418.25" x2="35.4" y2="418.25" stroke="#333" stroke-width="0.9"/>
<text class="s" x="30.80" y="420.80" text-anchor="end">0.45</text>
<line x1="32.60" y1="397.69" x2="35.4" y2="397.69" stroke="#333" stroke-width="0.9"/>
<text class="s" x="30.80" y="400.24" text-anchor="end">0.50</text>
<line x1="32.60" y1="377.12" x2="35.4" y2="377.12" stroke="#333" stroke-width="0.9"/>
<text class="s" x="30.80" y="379.68" text-anchor="end">0.55</text>
<line x1="32.60" y1="356.56" x2="35.4" y2="356.56" stroke="#333" stroke-width="0.9"/>
<text class="s" x="30.80" y="359.11" text-anchor="end">0.60</text>
<line x1="32.60" y1="336.00" x2="35.4" y2="336.00" stroke="#333" stroke-width="0.9"/>
<text class="s" x="30.80" y="338.55" text-anchor="end">0.65</text>
<text class="t" x="130.60" y="314.80" text-anchor="middle">Computer</text>
<text class="t xl" x="130.60" y="449.30" text-anchor="middle">Number of queries</text>
<text class="t" x="0" y="0" text-anchor="middle" transform="translate(12.25,373.70) rotate(-90)">MZE</text>
</g>
<g>
<line x1="271.50" y1="318.4" x2="271.50" y2="429.0" stroke="#b0b0b0" stroke-width="0.8"/>
<line x1="296.21" y1="318.4" x2="296.21" y2="429.0" stroke="#b0b0b0" stroke-width="0.8"/>
<line x1="320.93" y1="318.4" x2="320.93" y2="429.0" stroke="#b0b0b0" stroke-width="0.8"/>
<line x1="345.64" y1="318.4" x2="345.64" y2="429.0" stroke="#b0b0b0" stroke-width="0.8"/>
<line x1="370.36" y1="318.4" x2="370.36" y2="429.0" stroke="#b0b0b0" stroke-width="0.8"/>
<line x1="395.07" y1="318.4" x2="395.07" y2="429.0" stroke="#b0b0b0" stroke-width="0.8"/>
<line x1="419.79" y1="318.4" x2="419.79" y2="429.0" stroke="#b0b0b0" stroke-width="0.8"/>
<line x1="444.50" y1="318.4" x2="444.50" y2="429.0" stroke="#b0b0b0" stroke-width="0.8"/>
<line x1="262.8" y1="427.00" x2="453.6" y2="427.00" stroke="#b0b0b0" stroke-width="0.8"/>
<line x1="262.8" y1="404.19" x2="453.6" y2="404.19" stroke="#b0b0b0" stroke-width="0.8"/>
<line x1="262.8" y1="381.38" x2="453.6" y2="381.38" stroke="#b0b0b0" stroke-width="0.8"/>
<line x1="262.8" y1="358.56" x2="453.6" y2="358.56" stroke="#b0b0b0" stroke-width="0.8"/>
<line x1="262.8" y1="335.75" x2="453.6" y2="335.75" stroke="#b0b0b0" stroke-width="0.8"/>
<defs><clipPath id="c7"><rect x="262.8" y="318.4" width="190.8" height="110.60000000000002"/></clipPath></defs>
<g clip-path="url(#c7)">
<path d="M271.50 322.50 L280.15 335.00 L288.80 347.00 L297.45 355.00 L306.10 364.00 L314.75 369.50 L323.40 375.00 L332.05 379.00 L340.70 384.70 L349.35 389.20 L358.00 394.20 L366.65 396.60 L375.30 399.00 L383.95 401.60 L392.60 404.20 L401.25 406.20 L409.90 407.60 L418.55 410.20 L427.20 411.60 L435.85 413.00 L444.50 415.80" fill="none" stroke="#0000ff" stroke-opacity="0.7" stroke-width="1.15"/>
<circle cx="271.50" cy="322.50" r="1.10" fill="#0000ff"/>
<circle cx="280.15" cy="335.00" r="1.10" fill="#0000ff"/>
<circle cx="288.80" cy="347.00" r="1.10" fill="#0000ff"/>
<circle cx="297.45" cy="355.00" r="1.10" fill="#0000ff"/>
<circle cx="306.10" cy="364.00" r="1.10" fill="#0000ff"/>
<circle cx="314.75" cy="369.50" r="1.10" fill="#0000ff"/>
<circle cx="323.40" cy="375.00" r="1.10" fill="#0000ff"/>
<circle cx="332.05" cy="379.00" r="1.10" fill="#0000ff"/>
<circle cx="340.70" cy="384.70" r="1.10" fill="#0000ff"/>
<circle cx="349.35" cy="389.20" r="1.10" fill="#0000ff"/>
<circle cx="358.00" cy="394.20" r="1.10" fill="#0000ff"/>
<circle cx="366.65" cy="396.60" r="1.10" fill="#0000ff"/>
<circle cx="375.30" cy="399.00" r="1.10" fill="#0000ff"/>
<circle cx="383.95" cy="401.60" r="1.10" fill="#0000ff"/>
<circle cx="392.60" cy="404.20" r="1.10" fill="#0000ff"/>
<circle cx="401.25" cy="406.20" r="1.10" fill="#0000ff"/>
<circle cx="409.90" cy="407.60" r="1.10" fill="#0000ff"/>
<circle cx="418.55" cy="410.20" r="1.10" fill="#0000ff"/>
<circle cx="427.20" cy="411.60" r="1.10" fill="#0000ff"/>
<circle cx="435.85" cy="413.00" r="1.10" fill="#0000ff"/>
<circle cx="444.50" cy="415.80" r="1.10" fill="#0000ff"/>
<path d="M271.50 322.50 L280.15 329.70 L288.80 338.00 L297.45 349.40 L306.10 355.70 L314.75 366.90 L323.40 371.40 L332.05 377.40 L340.70 381.90 L349.35 387.50 L358.00 392.00 L366.65 399.00 L375.30 401.60 L383.95 405.00 L392.60 407.60 L401.25 410.00 L409.90 413.00 L418.55 416.00 L427.20 419.00 L435.85 421.00 L444.50 423.00" fill="none" stroke="#ff8c00" stroke-opacity="0.8" stroke-width="1.15"/>
<polygon points="269.40,322.50 272.97,320.61 272.97,324.39" fill="#ff8c00"/>
<polygon points="278.05,329.70 281.62,327.81 281.62,331.59" fill="#ff8c00"/>
<polygon points="286.70,338.00 290.27,336.11 290.27,339.89" fill="#ff8c00"/>
<polygon points="295.35,349.40 298.92,347.51 298.92,351.29" fill="#ff8c00"/>
<polygon points="304.00,355.70 307.57,353.81 307.57,357.59" fill="#ff8c00"/>
<polygon points="312.65,366.90 316.22,365.01 316.22,368.79" fill="#ff8c00"/>
<polygon points="321.30,371.40 324.87,369.51 324.87,373.29" fill="#ff8c00"/>
<polygon points="329.95,377.40 333.52,375.51 333.52,379.29" fill="#ff8c00"/>
<polygon points="338.60,381.90 342.17,380.01 342.17,383.79" fill="#ff8c00"/>
<polygon points="347.25,387.50 350.82,385.61 350.82,389.39" fill="#ff8c00"/>
<polygon points="355.90,392.00 359.47,390.11 359.47,393.89" fill="#ff8c00"/>
<polygon points="364.55,399.00 368.12,397.11 368.12,400.89" fill="#ff8c00"/>
<polygon points="373.20,401.60 376.77,399.71 376.77,403.49" fill="#ff8c00"/>
<polygon points="381.85,405.00 385.42,403.11 385.42,406.89" fill="#ff8c00"/>
<polygon points="390.50,407.60 394.07,405.71 394.07,409.49" fill="#ff8c00"/>
<polygon points="399.15,410.00 402.72,408.11 402.72,411.89" fill="#ff8c00"/>
<polygon points="407.80,413.00 411.37,411.11 411.37,414.89" fill="#ff8c00"/>
<polygon points="416.45,416.00 420.02,414.11 420.02,417.89" fill="#ff8c00"/>
<polygon points="425.10,419.00 428.67,417.11 428.67,420.89" fill="#ff8c00"/>
<polygon points="433.75,421.00 437.32,419.11 437.32,422.89" fill="#ff8c00"/>
<polygon points="442.40,423.00 445.97,421.11 445.97,424.89" fill="#ff8c00"/>
<path d="M271.50 322.50 L280.15 336.00 L288.80 347.50 L297.45 358.50 L306.10 366.00 L314.75 373.00 L323.40 380.50 L332.05 385.00 L340.70 389.30 L349.35 393.50 L358.00 397.30 L366.65 400.80 L375.30 404.20 L383.95 407.50 L392.60 410.30 L401.25 413.20 L409.90 415.60 L418.55 417.60 L427.20 419.80 L435.85 421.80 L444.50 423.30" fill="none" stroke="#bcbd22" stroke-opacity="0.6" stroke-width="1.15"/>
<polygon points="273.60,322.50 270.03,320.61 270.03,324.39" fill="#bcbd22"/>
<polygon points="282.25,336.00 278.68,334.11 278.68,337.89" fill="#bcbd22"/>
<polygon points="290.90,347.50 287.33,345.61 287.33,349.39" fill="#bcbd22"/>
<polygon points="299.55,358.50 295.98,356.61 295.98,360.39" fill="#bcbd22"/>
<polygon points="308.20,366.00 304.63,364.11 304.63,367.89" fill="#bcbd22"/>
<polygon points="316.85,373.00 313.28,371.11 313.28,374.89" fill="#bcbd22"/>
<polygon points="325.50,380.50 321.93,378.61 321.93,382.39" fill="#bcbd22"/>
<polygon points="334.15,385.00 330.58,383.11 330.58,386.89" fill="#bcbd22"/>
<polygon points="342.80,389.30 339.23,387.41 339.23,391.19" fill="#bcbd22"/>
<polygon points="351.45,393.50 347.88,391.61 347.88,395.39" fill="#bcbd22"/>
<polygon points="360.10,397.30 356.53,395.41 356.53,399.19" fill="#bcbd22"/>
<polygon points="368.75,400.80 365.18,398.91 365.18,402.69" fill="#bcbd22"/>
<polygon points="377.40,404.20 373.83,402.31 373.83,406.09" fill="#bcbd22"/>
<polygon points="386.05,407.50 382.48,405.61 382.48,409.39" fill="#bcbd22"/>
<polygon points="394.70,410.30 391.13,408.41 391.13,412.19" fill="#bcbd22"/>
<polygon points="403.35,413.20 399.78,411.31 399.78,415.09" fill="#bcbd22"/>
<polygon points="412.00,415.60 408.43,413.71 408.43,417.49" fill="#bcbd22"/>
<polygon points="420.65,417.60 417.08,415.71 417.08,419.49" fill="#bcbd22"/>
<polygon points="429.30,419.80 425.73,417.91 425.73,421.69" fill="#bcbd22"/>
<polygon points="437.95,421.80 434.38,419.91 434.38,423.69" fill="#bcbd22"/>
<polygon points="446.60,423.30 443.03,421.41 443.03,425.19" fill="#bcbd22"/>
<path d="M271.50 322.50 L280.15 338.00 L288.80 349.00 L297.45 360.50 L306.10 367.50 L314.75 375.00 L323.40 382.50 L332.05 386.50 L340.70 390.50 L349.35 395.00 L358.00 398.80 L366.65 402.30 L375.30 405.50 L383.95 409.00 L392.60 411.50 L401.25 414.50 L409.90 416.80 L418.55 418.60 L427.20 420.80 L435.85 423.00 L444.50 424.60" fill="none" stroke="#008000" stroke-opacity="0.75" stroke-width="1.15"/>
<polygon points="271.50,320.40 273.39,323.97 269.61,323.97" fill="#008000"/>
<polygon points="280.15,335.90 282.04,339.47 278.26,339.47" fill="#008000"/>
<polygon points="288.80,346.90 290.69,350.47 286.91,350.47" fill="#008000"/>
<polygon points="297.45,358.40 299.34,361.97 295.56,361.97" fill="#008000"/>
<polygon points="306.10,365.40 307.99,368.97 304.21,368.97" fill="#008000"/>
<polygon points="314.75,372.90 316.64,376.47 312.86,376.47" fill="#008000"/>
<polygon points="323.40,380.40 325.29,383.97 321.51,383.97" fill="#008000"/>
<polygon points="332.05,384.40 333.94,387.97 330.16,387.97" fill="#008000"/>
<polygon points="340.70,388.40 342.59,391.97 338.81,391.97" fill="#008000"/>
<polygon points="349.35,392.90 351.24,396.47 347.46,396.47" fill="#008000"/>
<polygon points="358.00,396.70 359.89,400.27 356.11,400.27" fill="#008000"/>
<polygon points="366.65,400.20 368.54,403.77 364.76,403.77" fill="#008000"/>
<polygon points="375.30,403.40 377.19,406.97 373.41,406.97" fill="#008000"/>
<polygon points="383.95,406.90 385.84,410.47 382.06,410.47" fill="#008000"/>
<polygon points="392.60,409.40 394.49,412.97 390.71,412.97" fill="#008000"/>
<polygon points="401.25,412.40 403.14,415.97 399.36,415.97" fill="#008000"/>
<polygon points="409.90,414.70 411.79,418.27 408.01,418.27" fill="#008000"/>
<polygon points="418.55,416.50 420.44,420.07 416.66,420.07" fill="#008000"/>
<polygon points="427.20,418.70 429.09,422.27 425.31,422.27" fill="#008000"/>
<polygon points="435.85,420.90 437.74,424.47 433.96,424.47" fill="#008000"/>
<polygon points="444.50,422.50 446.39,426.07 442.61,426.07" fill="#008000"/>
<path d="M271.50 322.50 L280.15 328.00 L288.80 339.30 L297.45 350.00 L306.10 360.60 L314.75 366.20 L323.40 371.40 L332.05 376.30 L340.70 379.70 L349.35 385.30 L358.00 388.00 L366.65 390.40 L375.30 395.60 L383.95 397.60 L392.60 400.00 L401.25 401.60 L409.90 404.00 L418.55 407.00 L427.20 409.60 L435.85 411.60 L444.50 414.00" fill="none" stroke="#a0522d" stroke-opacity="0.5" stroke-width="1.15"/>
<polygon points="272.98,323.11 272.11,323.98 270.89,323.98 270.02,323.11 270.02,321.89 270.89,321.02 272.11,321.02 272.98,321.89" fill="#a0522d"/>
<polygon points="281.63,328.61 280.76,329.48 279.54,329.48 278.67,328.61 278.67,327.39 279.54,326.52 280.76,326.52 281.63,327.39" fill="#a0522d"/>
<polygon points="290.28,339.91 289.41,340.78 288.19,340.78 287.32,339.91 287.32,338.69 288.19,337.82 289.41,337.82 290.28,338.69" fill="#a0522d"/>
<polygon points="298.93,350.61 298.06,351.48 296.84,351.48 295.97,350.61 295.97,349.39 296.84,348.52 298.06,348.52 298.93,349.39" fill="#a0522d"/>
<polygon points="307.58,361.21 306.71,362.08 305.49,362.08 304.62,361.21 304.62,359.99 305.49,359.12 306.71,359.12 307.58,359.99" fill="#a0522d"/>
<polygon points="316.23,366.81 315.36,367.68 314.14,367.68 313.27,366.81 313.27,365.59 314.14,364.72 315.36,364.72 316.23,365.59" fill="#a0522d"/>
<polygon points="324.88,372.01 324.01,372.88 322.79,372.88 321.92,372.01 321.92,370.79 322.79,369.92 324.01,369.92 324.88,370.79" fill="#a0522d"/>
<polygon points="333.53,376.91 332.66,377.78 331.44,377.78 330.57,376.91 330.57,375.69 331.44,374.82 332.66,374.82 333.53,375.69" fill="#a0522d"/>
<polygon points="342.18,380.31 341.31,381.18 340.09,381.18 339.22,380.31 339.22,379.09 340.09,378.22 341.31,378.22 342.18,379.09" fill="#a0522d"/>
<polygon points="350.83,385.91 349.96,386.78 348.74,386.78 347.87,385.91 347.87,384.69 348.74,383.82 349.96,383.82 350.83,384.69" fill="#a0522d"/>
<polygon points="359.48,388.61 358.61,389.48 357.39,389.48 356.52,388.61 356.52,387.39 357.39,386.52 358.61,386.52 359.48,387.39" fill="#a0522d"/>
<polygon points="368.13,391.01 367.26,391.88 366.04,391.88 365.17,391.01 365.17,389.79 366.04,388.92 367.26,388.92 368.13,389.79" fill="#a0522d"/>
<polygon points="376.78,396.21 375.91,397.08 374.69,397.08 373.82,396.21 373.82,394.99 374.69,394.12 375.91,394.12 376.78,394.99" fill="#a0522d"/>
<polygon points="385.43,398.21 384.56,399.08 383.34,399.08 382.47,398.21 382.47,396.99 383.34,396.12 384.56,396.12 385.43,396.99" fill="#a0522d"/>
<polygon points="394.08,400.61 393.21,401.48 391.99,401.48 391.12,400.61 391.12,399.39 391.99,398.52 393.21,398.52 394.08,399.39" fill="#a0522d"/>
<polygon points="402.73,402.21 401.86,403.08 400.64,403.08 399.77,402.21 399.77,400.99 400.64,400.12 401.86,400.12 402.73,400.99" fill="#a0522d"/>
<polygon points="411.38,404.61 410.51,405.48 409.29,405.48 408.42,404.61 408.42,403.39 409.29,402.52 410.51,402.52 411.38,403.39" fill="#a0522d"/>
<polygon points="420.03,407.61 419.16,408.48 417.94,408.48 417.07,407.61 417.07,406.39 417.94,405.52 419.16,405.52 420.03,406.39" fill="#a0522d"/>
<polygon points="428.68,410.21 427.81,411.08 426.59,411.08 425.72,410.21 425.72,408.99 426.59,408.12 427.81,408.12 428.68,408.99" fill="#a0522d"/>
<polygon points="437.33,412.21 436.46,413.08 435.24,413.08 434.37,412.21 434.37,410.99 435.24,410.12 436.46,410.12 437.33,410.99" fill="#a0522d"/>
<polygon points="445.98,414.61 445.11,415.48 443.89,415.48 443.02,414.61 443.02,413.39 443.89,412.52 445.11,412.52 445.98,413.39" fill="#a0522d"/>
<path d="M271.50 322.50 L280.15 320.70 L288.80 321.10 L297.45 321.60 L306.10 322.00 L314.75 324.30 L323.40 328.10 L332.05 331.90 L340.70 334.80 L349.35 339.30 L358.00 344.40 L366.65 349.60 L375.30 354.00 L383.95 359.00 L392.60 364.40 L401.25 371.00 L409.90 374.40 L418.55 378.00 L427.20 380.40 L435.85 382.40 L444.50 384.40" fill="none" stroke="#ee82ee" stroke-opacity="0.9" stroke-width="1.15"/>
<polygon points="270.78,320.50 272.22,320.50 272.22,321.78 273.50,321.78 273.50,323.22 272.22,323.22 272.22,324.50 270.78,324.50 270.78,323.22 269.50,323.22 269.50,321.78 270.78,321.78" fill="#ee82ee"/>
<polygon points="279.43,318.70 280.87,318.70 280.87,319.98 282.15,319.98 282.15,321.42 280.87,321.42 280.87,322.70 279.43,322.70 279.43,321.42 278.15,321.42 278.15,319.98 279.43,319.98" fill="#ee82ee"/>
<polygon points="288.08,319.10 289.52,319.10 289.52,320.38 290.80,320.38 290.80,321.82 289.52,321.82 289.52,323.10 288.08,323.10 288.08,321.82 286.80,321.82 286.80,320.38 288.08,320.38" fill="#ee82ee"/>
<polygon points="296.73,319.60 298.17,319.60 298.17,320.88 299.45,320.88 299.45,322.32 298.17,322.32 298.17,323.60 296.73,323.60 296.73,322.32 295.45,322.32 295.45,320.88 296.73,320.88" fill="#ee82ee"/>
<polygon points="305.38,320.00 306.82,320.00 306.82,321.28 308.10,321.28 308.10,322.72 306.82,322.72 306.82,324.00 305.38,324.00 305.38,322.72 304.10,322.72 304.10,321.28 305.38,321.28" fill="#ee82ee"/>
<polygon points="314.03,322.30 315.47,322.30 315.47,323.58 316.75,323.58 316.75,325.02 315.47,325.02 315.47,326.30 314.03,326.30 314.03,325.02 312.75,325.02 312.75,323.58 314.03,323.58" fill="#ee82ee"/>
<polygon points="322.68,326.10 324.12,326.10 324.12,327.38 325.40,327.38 325.40,328.82 324.12,328.82 324.12,330.10 322.68,330.10 322.68,328.82 321.40,328.82 321.40,327.38 322.68,327.38" fill="#ee82ee"/>
<polygon points="331.33,329.90 332.77,329.90 332.77,331.18 334.05,331.18 334.05,332.62 332.77,332.62 332.77,333.90 331.33,333.90 331.33,332.62 330.05,332.62 330.05,331.18 331.33,331.18" fill="#ee82ee"/>
<polygon points="339.98,332.80 341.42,332.80 341.42,334.08 342.70,334.08 342.70,335.52 341.42,335.52 341.42,336.80 339.98,336.80 339.98,335.52 338.70,335.52 338.70,334.08 339.98,334.08" fill="#ee82ee"/>
<polygon points="348.63,337.30 350.07,337.30 350.07,338.58 351.35,338.58 351.35,340.02 350.07,340.02 350.07,341.30 348.63,341.30 348.63,340.02 347.35,340.02 347.35,338.58 348.63,338.58" fill="#ee82ee"/>
<polygon points="357.28,342.40 358.72,342.40 358.72,343.68 360.00,343.68 360.00,345.12 358.72,345.12 358.72,346.40 357.28,346.40 357.28,345.12 356.00,345.12 356.00,343.68 357.28,343.68" fill="#ee82ee"/>
<polygon points="365.93,347.60 367.37,347.60 367.37,348.88 368.65,348.88 368.65,350.32 367.37,350.32 367.37,351.60 365.93,351.60 365.93,350.32 364.65,350.32 364.65,348.88 365.93,348.88" fill="#ee82ee"/>
<polygon points="374.58,352.00 376.02,352.00 376.02,353.28 377.30,353.28 377.30,354.72 376.02,354.72 376.02,356.00 374.58,356.00 374.58,354.72 373.30,354.72 373.30,353.28 374.58,353.28" fill="#ee82ee"/>
<polygon points="383.23,357.00 384.67,357.00 384.67,358.28 385.95,358.28 385.95,359.72 384.67,359.72 384.67,361.00 383.23,361.00 383.23,359.72 381.95,359.72 381.95,358.28 383.23,358.28" fill="#ee82ee"/>
<polygon points="391.88,362.40 393.32,362.40 393.32,363.68 394.60,363.68 394.60,365.12 393.32,365.12 393.32,366.40 391.88,366.40 391.88,365.12 390.60,365.12 390.60,363.68 391.88,363.68" fill="#ee82ee"/>
<polygon points="400.53,369.00 401.97,369.00 401.97,370.28 403.25,370.28 403.25,371.72 401.97,371.72 401.97,373.00 400.53,373.00 400.53,371.72 399.25,371.72 399.25,370.28 400.53,370.28" fill="#ee82ee"/>
<polygon points="409.18,372.40 410.62,372.40 410.62,373.68 411.90,373.68 411.90,375.12 410.62,375.12 410.62,376.40 409.18,376.40 409.18,375.12 407.90,375.12 407.90,373.68 409.18,373.68" fill="#ee82ee"/>
<polygon points="417.83,376.00 419.27,376.00 419.27,377.28 420.55,377.28 420.55,378.72 419.27,378.72 419.27,380.00 417.83,380.00 417.83,378.72 416.55,378.72 416.55,377.28 417.83,377.28" fill="#ee82ee"/>
<polygon points="426.48,378.40 427.92,378.40 427.92,379.68 429.20,379.68 429.20,381.12 427.92,381.12 427.92,382.40 426.48,382.40 426.48,381.12 425.20,381.12 425.20,379.68 426.48,379.68" fill="#ee82ee"/>
<polygon points="435.13,380.40 436.57,380.40 436.57,381.68 437.85,381.68 437.85,383.12 436.57,383.12 436.57,384.40 435.13,384.40 435.13,383.12 433.85,383.12 433.85,381.68 435.13,381.68" fill="#ee82ee"/>
<polygon points="443.78,382.40 445.22,382.40 445.22,383.68 446.50,383.68 446.50,385.12 445.22,385.12 445.22,386.40 443.78,386.40 443.78,385.12 442.50,385.12 442.50,383.68 443.78,383.68" fill="#ee82ee"/>
<path d="M271.50 322.50 L280.15 326.50 L288.80 331.90 L297.45 334.80 L306.10 336.40 L314.75 338.20 L323.40 341.50 L332.05 343.80 L340.70 346.00 L349.35 348.30 L358.00 351.00 L366.65 355.60 L375.30 360.00 L383.95 365.00 L392.60 368.00 L401.25 373.60 L409.90 378.00 L418.55 382.40 L427.20 386.00 L435.85 388.00 L444.50 392.00" fill="none" stroke="#707070" stroke-opacity="0.8" stroke-width="1.15"/>
<path d="M270.07 321.07L272.93 323.93M270.07 323.93L272.93 321.07" stroke="#555555" stroke-width="1.1"/>
<path d="M278.72 325.07L281.57 327.93M278.72 327.93L281.57 325.07" stroke="#555555" stroke-width="1.1"/>
<path d="M287.38 330.47L290.23 333.32M287.38 333.32L290.23 330.47" stroke="#555555" stroke-width="1.1"/>
<path d="M296.02 333.38L298.88 336.23M296.02 336.23L298.88 333.38" stroke="#555555" stroke-width="1.1"/>
<path d="M304.68 334.97L307.53 337.82M304.68 337.82L307.53 334.97" stroke="#555555" stroke-width="1.1"/>
<path d="M313.32 336.77L316.18 339.62M313.32 339.62L316.18 336.77" stroke="#555555" stroke-width="1.1"/>
<path d="M321.97 340.07L324.82 342.93M321.97 342.93L324.82 340.07" stroke="#555555" stroke-width="1.1"/>
<path d="M330.62 342.38L333.48 345.23M330.62 345.23L333.48 342.38" stroke="#555555" stroke-width="1.1"/>
<path d="M339.27 344.57L342.12 347.43M339.27 347.43L342.12 344.57" stroke="#555555" stroke-width="1.1"/>
<path d="M347.93 346.88L350.78 349.73M347.93 349.73L350.78 346.88" stroke="#555555" stroke-width="1.1"/>
<path d="M356.57 349.57L359.43 352.43M356.57 352.43L359.43 349.57" stroke="#555555" stroke-width="1.1"/>
<path d="M365.22 354.18L368.07 357.03M365.22 357.03L368.07 354.18" stroke="#555555" stroke-width="1.1"/>
<path d="M373.88 358.57L376.73 361.43M373.88 361.43L376.73 358.57" stroke="#555555" stroke-width="1.1"/>
<path d="M382.52 363.57L385.38 366.43M382.52 366.43L385.38 363.57" stroke="#555555" stroke-width="1.1"/>
<path d="M391.18 366.57L394.03 369.43M391.18 369.43L394.03 366.57" stroke="#555555" stroke-width="1.1"/>
<path d="M399.82 372.18L402.68 375.03M399.82 375.03L402.68 372.18" stroke="#555555" stroke-width="1.1"/>
<path d="M408.47 376.57L411.32 379.43M408.47 379.43L411.32 376.57" stroke="#555555" stroke-width="1.1"/>
<path d="M417.12 380.97L419.98 383.82M417.12 383.82L419.98 380.97" stroke="#555555" stroke-width="1.1"/>
<path d="M425.77 384.57L428.62 387.43M425.77 387.43L428.62 384.57" stroke="#555555" stroke-width="1.1"/>
<path d="M434.43 386.57L437.28 389.43M434.43 389.43L437.28 386.57" stroke="#555555" stroke-width="1.1"/>
<path d="M443.07 390.57L445.93 393.43M443.07 393.43L445.93 390.57" stroke="#555555" stroke-width="1.1"/>
<path d="M271.50 322.50 L280.15 334.00 L288.80 346.00 L297.45 353.90 L306.10 362.80 L314.75 368.40 L323.40 374.10 L332.05 378.10 L340.70 384.10 L349.35 388.60 L358.00 393.60 L366.65 396.00 L375.30 398.40 L383.95 401.00 L392.60 403.60 L401.25 405.60 L409.90 407.00 L418.55 409.60 L427.20 411.00 L435.85 412.40 L444.50 415.00" fill="none" stroke="#c000c0" stroke-opacity="0.8" stroke-width="1.15"/>
<polygon points="271.50,320.40 272.76,322.50 271.50,324.60 270.24,322.50" fill="#c000c0"/>
<polygon points="280.15,331.90 281.41,334.00 280.15,336.10 278.89,334.00" fill="#c000c0"/>
<polygon points="288.80,343.90 290.06,346.00 288.80,348.10 287.54,346.00" fill="#c000c0"/>
<polygon points="297.45,351.80 298.71,353.90 297.45,356.00 296.19,353.90" fill="#c000c0"/>
<polygon points="306.10,360.70 307.36,362.80 306.10,364.90 304.84,362.80" fill="#c000c0"/>
<polygon points="314.75,366.30 316.01,368.40 314.75,370.50 313.49,368.40" fill="#c000c0"/>
<polygon points="323.40,372.00 324.66,374.10 323.40,376.20 322.14,374.10" fill="#c000c0"/>
<polygon points="332.05,376.00 333.31,378.10 332.05,380.20 330.79,378.10" fill="#c000c0"/>
<polygon points="340.70,382.00 341.96,384.10 340.70,386.20 339.44,384.10" fill="#c000c0"/>
<polygon points="349.35,386.50 350.61,388.60 349.35,390.70 348.09,388.60" fill="#c000c0"/>
<polygon points="358.00,391.50 359.26,393.60 358.00,395.70 356.74,393.60" fill="#c000c0"/>
<polygon points="366.65,393.90 367.91,396.00 366.65,398.10 365.39,396.00" fill="#c000c0"/>
<polygon points="375.30,396.30 376.56,398.40 375.30,400.50 374.04,398.40" fill="#c000c0"/>
<polygon points="383.95,398.90 385.21,401.00 383.95,403.10 382.69,401.00" fill="#c000c0"/>
<polygon points="392.60,401.50 393.86,403.60 392.60,405.70 391.34,403.60" fill="#c000c0"/>
<polygon points="401.25,403.50 402.51,405.60 401.25,407.70 399.99,405.60" fill="#c000c0"/>
<polygon points="409.90,404.90 411.16,407.00 409.90,409.10 408.64,407.00" fill="#c000c0"/>
<polygon points="418.55,407.50 419.81,409.60 418.55,411.70 417.29,409.60" fill="#c000c0"/>
<polygon points="427.20,408.90 428.46,411.00 427.20,413.10 425.94,411.00" fill="#c000c0"/>
<polygon points="435.85,410.30 437.11,412.40 435.85,414.50 434.59,412.40" fill="#c000c0"/>
<polygon points="444.50,412.90 445.76,415.00 444.50,417.10 443.24,415.00" fill="#c000c0"/>
<path d="M271.50 322.50 L280.15 326.00 L288.80 333.20 L297.45 340.90 L306.10 348.90 L314.75 355.70 L323.40 361.70 L332.05 366.20 L340.70 371.40 L349.35 376.30 L358.00 382.40 L366.65 386.40 L375.30 389.60 L383.95 392.40 L392.60 395.00 L401.25 397.60 L409.90 400.40 L418.55 402.40 L427.20 404.40 L435.85 406.40 L444.50 408.60" fill="none" stroke="#4169e1" stroke-opacity="0.6" stroke-width="1.15"/>
<rect x="269.85" y="320.85" width="3.30" height="3.30" fill="#4169e1"/>
<rect x="278.50" y="324.35" width="3.30" height="3.30" fill="#4169e1"/>
<rect x="287.15" y="331.55" width="3.30" height="3.30" fill="#4169e1"/>
<rect x="295.80" y="339.25" width="3.30" height="3.30" fill="#4169e1"/>
<rect x="304.45" y="347.25" width="3.30" height="3.30" fill="#4169e1"/>
<rect x="313.10" y="354.05" width="3.30" height="3.30" fill="#4169e1"/>
<rect x="321.75" y="360.05" width="3.30" height="3.30" fill="#4169e1"/>
<rect x="330.40" y="364.55" width="3.30" height="3.30" fill="#4169e1"/>
<rect x="339.05" y="369.75" width="3.30" height="3.30" fill="#4169e1"/>
<rect x="347.70" y="374.65" width="3.30" height="3.30" fill="#4169e1"/>
<rect x="356.35" y="380.75" width="3.30" height="3.30" fill="#4169e1"/>
<rect x="365.00" y="384.75" width="3.30" height="3.30" fill="#4169e1"/>
<rect x="373.65" y="387.95" width="3.30" height="3.30" fill="#4169e1"/>
<rect x="382.30" y="390.75" width="3.30" height="3.30" fill="#4169e1"/>
<rect x="390.95" y="393.35" width="3.30" height="3.30" fill="#4169e1"/>
<rect x="399.60" y="395.95" width="3.30" height="3.30" fill="#4169e1"/>
<rect x="408.25" y="398.75" width="3.30" height="3.30" fill="#4169e1"/>
<rect x="416.90" y="400.75" width="3.30" height="3.30" fill="#4169e1"/>
<rect x="425.55" y="402.75" width="3.30" height="3.30" fill="#4169e1"/>
<rect x="434.20" y="404.75" width="3.30" height="3.30" fill="#4169e1"/>
<rect x="442.85" y="406.95" width="3.30" height="3.30" fill="#4169e1"/>
<path d="M271.50 322.50 L280.15 325.20 L288.80 329.20 L297.45 332.60 L306.10 334.80 L314.75 342.20 L323.40 347.10 L332.05 351.20 L340.70 357.20 L349.35 361.70 L358.00 366.00 L366.65 369.00 L375.30 372.40 L383.95 377.00 L392.60 378.40 L401.25 380.40 L409.90 382.40 L418.55 384.00 L427.20 386.00 L435.85 388.00 L444.50 389.60" fill="none" stroke="#4b0082" stroke-opacity="0.75" stroke-width="1.15"/>
<circle cx="271.50" cy="322.50" r="1.70" fill="#4b0082"/>
<circle cx="280.15" cy="325.20" r="1.70" fill="#4b0082"/>
<circle cx="288.80" cy="329.20" r="1.70" fill="#4b0082"/>
<circle cx="297.45" cy="332.60" r="1.70" fill="#4b0082"/>
<circle cx="306.10" cy="334.80" r="1.70" fill="#4b0082"/>
<circle cx="314.75" cy="342.20" r="1.70" fill="#4b0082"/>
<circle cx="323.40" cy="347.10" r="1.70" fill="#4b0082"/>
<circle cx="332.05" cy="351.20" r="1.70" fill="#4b0082"/>
<circle cx="340.70" cy="357.20" r="1.70" fill="#4b0082"/>
<circle cx="349.35" cy="361.70" r="1.70" fill="#4b0082"/>
<circle cx="358.00" cy="366.00" r="1.70" fill="#4b0082"/>
<circle cx="366.65" cy="369.00" r="1.70" fill="#4b0082"/>
<circle cx="375.30" cy="372.40" r="1.70" fill="#4b0082"/>
<circle cx="383.95" cy="377.00" r="1.70" fill="#4b0082"/>
<circle cx="392.60" cy="378.40" r="1.70" fill="#4b0082"/>
<circle cx="401.25" cy="380.40" r="1.70" fill="#4b0082"/>
<circle cx="409.90" cy="382.40" r="1.70" fill="#4b0082"/>
<circle cx="418.55" cy="384.00" r="1.70" fill="#4b0082"/>
<circle cx="427.20" cy="386.00" r="1.70" fill="#4b0082"/>
<circle cx="435.85" cy="388.00" r="1.70" fill="#4b0082"/>
<circle cx="444.50" cy="389.60" r="1.70" fill="#4b0082"/>
<path d="M271.50 322.50 L280.15 337.00 L288.80 348.30 L297.45 359.50 L306.10 366.90 L314.75 374.10 L323.40 381.90 L332.05 385.50 L340.70 389.50 L349.35 394.00 L358.00 398.00 L366.65 401.50 L375.30 404.80 L383.95 408.50 L392.60 411.00 L401.25 414.00 L409.90 416.20 L418.55 418.00 L427.20 420.20 L435.85 422.50 L444.50 424.00" fill="none" stroke="#00c0c0" stroke-opacity="0.5" stroke-width="1.15"/>
<polygon points="271.50,324.60 273.39,321.03 269.61,321.03" fill="#20c0c0"/>
<polygon points="280.15,339.10 282.04,335.53 278.26,335.53" fill="#20c0c0"/>
<polygon points="288.80,350.40 290.69,346.83 286.91,346.83" fill="#20c0c0"/>
<polygon points="297.45,361.60 299.34,358.03 295.56,358.03" fill="#20c0c0"/>
<polygon points="306.10,369.00 307.99,365.43 304.21,365.43" fill="#20c0c0"/>
<polygon points="314.75,376.20 316.64,372.63 312.86,372.63" fill="#20c0c0"/>
<polygon points="323.40,384.00 325.29,380.43 321.51,380.43" fill="#20c0c0"/>
<polygon points="332.05,387.60 333.94,384.03 330.16,384.03" fill="#20c0c0"/>
<polygon points="340.70,391.60 342.59,388.03 338.81,388.03" fill="#20c0c0"/>
<polygon points="349.35,396.10 351.24,392.53 347.46,392.53" fill="#20c0c0"/>
<polygon points="358.00,400.10 359.89,396.53 356.11,396.53" fill="#20c0c0"/>
<polygon points="366.65,403.60 368.54,400.03 364.76,400.03" fill="#20c0c0"/>
<polygon points="375.30,406.90 377.19,403.33 373.41,403.33" fill="#20c0c0"/>
<polygon points="383.95,410.60 385.84,407.03 382.06,407.03" fill="#20c0c0"/>
<polygon points="392.60,413.10 394.49,409.53 390.71,409.53" fill="#20c0c0"/>
<polygon points="401.25,416.10 403.14,412.53 399.36,412.53" fill="#20c0c0"/>
<polygon points="409.90,418.30 411.79,414.73 408.01,414.73" fill="#20c0c0"/>
<polygon points="418.55,420.10 420.44,416.53 416.66,416.53" fill="#20c0c0"/>
<polygon points="427.20,422.30 429.09,418.73 425.31,418.73" fill="#20c0c0"/>
<polygon points="435.85,424.60 437.74,421.03 433.96,421.03" fill="#20c0c0"/>
<polygon points="444.50,426.10 446.39,422.53 442.61,422.53" fill="#20c0c0"/>
<path d="M271.50 322.50 L280.15 343.10 L288.80 352.80 L297.45 363.30 L306.10 370.00 L314.75 377.40 L323.40 384.10 L332.05 390.00 L340.70 393.50 L349.35 397.00 L358.00 400.00 L366.65 404.00 L375.30 408.00 L383.95 411.80 L392.60 414.50 L401.25 417.50 L409.90 420.00 L418.55 421.80 L427.20 423.30 L435.85 425.20 L444.50 426.50" fill="none" stroke="#ff0000" stroke-opacity="0.8" stroke-width="1.15"/>
<circle cx="271.50" cy="322.50" r="1.80" fill="#ff0000"/>
<circle cx="280.15" cy="343.10" r="1.80" fill="#ff0000"/>
<circle cx="288.80" cy="352.80" r="1.80" fill="#ff0000"/>
<circle cx="297.45" cy="363.30" r="1.80" fill="#ff0000"/>
<circle cx="306.10" cy="370.00" r="1.80" fill="#ff0000"/>
<circle cx="314.75" cy="377.40" r="1.80" fill="#ff0000"/>
<circle cx="323.40" cy="384.10" r="1.80" fill="#ff0000"/>
<circle cx="332.05" cy="390.00" r="1.80" fill="#ff0000"/>
<circle cx="340.70" cy="393.50" r="1.80" fill="#ff0000"/>
<circle cx="349.35" cy="397.00" r="1.80" fill="#ff0000"/>
<circle cx="358.00" cy="400.00" r="1.80" fill="#ff0000"/>
<circle cx="366.65" cy="404.00" r="1.80" fill="#ff0000"/>
<circle cx="375.30" cy="408.00" r="1.80" fill="#ff0000"/>
<circle cx="383.95" cy="411.80" r="1.80" fill="#ff0000"/>
<circle cx="392.60" cy="414.50" r="1.80" fill="#ff0000"/>
<circle cx="401.25" cy="417.50" r="1.80" fill="#ff0000"/>
<circle cx="409.90" cy="420.00" r="1.80" fill="#ff0000"/>
<circle cx="418.55" cy="421.80" r="1.80" fill="#ff0000"/>
<circle cx="427.20" cy="423.30" r="1.80" fill="#ff0000"/>
<circle cx="435.85" cy="425.20" r="1.80" fill="#ff0000"/>
<circle cx="444.50" cy="426.50" r="1.80" fill="#ff0000"/>
</g>
<rect x="262.8" y="318.4" width="190.80" height="110.60" fill="none" stroke="#333" stroke-width="1"/>
<line x1="271.50" y1="429.0" x2="271.50" y2="431.80" stroke="#333" stroke-width="0.9"/>
<text class="s" x="271.50" y="438.60" text-anchor="middle">0</text>
<line x1="296.21" y1="429.0" x2="296.21" y2="431.80" stroke="#333" stroke-width="0.9"/>
<text class="s" x="296.21" y="438.60" text-anchor="middle">20</text>
<line x1="320.93" y1="429.0" x2="320.93" y2="431.80" stroke="#333" stroke-width="0.9"/>
<text class="s" x="320.93" y="438.60" text-anchor="middle">40</text>
<line x1="345.64" y1="429.0" x2="345.64" y2="431.80" stroke="#333" stroke-width="0.9"/>
<text class="s" x="345.64" y="438.60" text-anchor="middle">60</text>
<line x1="370.36" y1="429.0" x2="370.36" y2="431.80" stroke="#333" stroke-width="0.9"/>
<text class="s" x="370.36" y="438.60" text-anchor="middle">80</text>
<line x1="395.07" y1="429.0" x2="395.07" y2="431.80" stroke="#333" stroke-width="0.9"/>
<text class="s" x="395.07" y="438.60" text-anchor="middle">100</text>
<line x1="419.79" y1="429.0" x2="419.79" y2="431.80" stroke="#333" stroke-width="0.9"/>
<text class="s" x="419.79" y="438.60" text-anchor="middle">120</text>
<line x1="444.50" y1="429.0" x2="444.50" y2="431.80" stroke="#333" stroke-width="0.9"/>
<text class="s" x="444.50" y="438.60" text-anchor="middle">140</text>
<line x1="260.00" y1="427.00" x2="262.8" y2="427.00" stroke="#333" stroke-width="0.9"/>
<text class="s" x="258.20" y="429.55" text-anchor="end">0.3</text>
<line x1="260.00" y1="404.19" x2="262.8" y2="404.19" stroke="#333" stroke-width="0.9"/>
<text class="s" x="258.20" y="406.74" text-anchor="end">0.4</text>
<line x1="260.00" y1="381.38" x2="262.8" y2="381.38" stroke="#333" stroke-width="0.9"/>
<text class="s" x="258.20" y="383.93" text-anchor="end">0.5</text>
<line x1="260.00" y1="358.56" x2="262.8" y2="358.56" stroke="#333" stroke-width="0.9"/>
<text class="s" x="258.20" y="361.11" text-anchor="end">0.6</text>
<line x1="260.00" y1="335.75" x2="262.8" y2="335.75" stroke="#333" stroke-width="0.9"/>
<text class="s" x="258.20" y="338.30" text-anchor="end">0.7</text>
<text class="t" x="358.20" y="314.80" text-anchor="middle">Obesity</text>
<text class="t xl" x="358.20" y="449.30" text-anchor="middle">Number of queries</text>
<text class="t" x="0" y="0" text-anchor="middle" transform="translate(243.85,373.70) rotate(-90)">MZE</text>
</g>
<g>
<line x1="499.50" y1="318.4" x2="499.50" y2="429.0" stroke="#b0b0b0" stroke-width="0.8"/>
<line x1="521.12" y1="318.4" x2="521.12" y2="429.0" stroke="#b0b0b0" stroke-width="0.8"/>
<line x1="542.75" y1="318.4" x2="542.75" y2="429.0" stroke="#b0b0b0" stroke-width="0.8"/>
<line x1="564.38" y1="318.4" x2="564.38" y2="429.0" stroke="#b0b0b0" stroke-width="0.8"/>
<line x1="586.00" y1="318.4" x2="586.00" y2="429.0" stroke="#b0b0b0" stroke-width="0.8"/>
<line x1="607.62" y1="318.4" x2="607.62" y2="429.0" stroke="#b0b0b0" stroke-width="0.8"/>
<line x1="629.25" y1="318.4" x2="629.25" y2="429.0" stroke="#b0b0b0" stroke-width="0.8"/>
<line x1="650.88" y1="318.4" x2="650.88" y2="429.0" stroke="#b0b0b0" stroke-width="0.8"/>
<line x1="672.50" y1="318.4" x2="672.50" y2="429.0" stroke="#b0b0b0" stroke-width="0.8"/>
<line x1="490.5" y1="424.50" x2="681.0" y2="424.50" stroke="#b0b0b0" stroke-width="0.8"/>
<line x1="490.5" y1="409.50" x2="681.0" y2="409.50" stroke="#b0b0b0" stroke-width="0.8"/>
<line x1="490.5" y1="394.50" x2="681.0" y2="394.50" stroke="#b0b0b0" stroke-width="0.8"/>
<line x1="490.5" y1="379.50" x2="681.0" y2="379.50" stroke="#b0b0b0" stroke-width="0.8"/>
<line x1="490.5" y1="364.50" x2="681.0" y2="364.50" stroke="#b0b0b0" stroke-width="0.8"/>
<line x1="490.5" y1="349.50" x2="681.0" y2="349.50" stroke="#b0b0b0" stroke-width="0.8"/>
<line x1="490.5" y1="334.50" x2="681.0" y2="334.50" stroke="#b0b0b0" stroke-width="0.8"/>
<line x1="490.5" y1="319.50" x2="681.0" y2="319.50" stroke="#b0b0b0" stroke-width="0.8"/>
<defs><clipPath id="c8"><rect x="490.5" y="318.4" width="190.5" height="110.60000000000002"/></clipPath></defs>
<g clip-path="url(#c8)">
<path d="M499.50 321.10 L508.15 341.00 L516.80 353.00 L525.45 365.27 L534.10 374.53 L542.75 381.80 L551.40 386.80 L560.05 391.30 L568.70 394.80 L577.35 397.80 L586.00 401.10 L594.65 403.40 L603.30 405.40 L611.95 407.20 L620.60 408.00 L629.25 408.70 L637.90 410.60 L646.55 413.03 L655.20 414.27 L663.85 415.50 L672.50 417.00" fill="none" stroke="#0000ff" stroke-opacity="0.7" stroke-width="1.15"/>
<circle cx="499.50" cy="321.10" r="1.10" fill="#0000ff"/>
<circle cx="508.15" cy="341.00" r="1.10" fill="#0000ff"/>
<circle cx="516.80" cy="353.00" r="1.10" fill="#0000ff"/>
<circle cx="525.45" cy="365.27" r="1.10" fill="#0000ff"/>
<circle cx="534.10" cy="374.53" r="1.10" fill="#0000ff"/>
<circle cx="542.75" cy="381.80" r="1.10" fill="#0000ff"/>
<circle cx="551.40" cy="386.80" r="1.10" fill="#0000ff"/>
<circle cx="560.05" cy="391.30" r="1.10" fill="#0000ff"/>
<circle cx="568.70" cy="394.80" r="1.10" fill="#0000ff"/>
<circle cx="577.35" cy="397.80" r="1.10" fill="#0000ff"/>
<circle cx="586.00" cy="401.10" r="1.10" fill="#0000ff"/>
<circle cx="594.65" cy="403.40" r="1.10" fill="#0000ff"/>
<circle cx="603.30" cy="405.40" r="1.10" fill="#0000ff"/>
<circle cx="611.95" cy="407.20" r="1.10" fill="#0000ff"/>
<circle cx="620.60" cy="408.00" r="1.10" fill="#0000ff"/>
<circle cx="629.25" cy="408.70" r="1.10" fill="#0000ff"/>
<circle cx="637.90" cy="410.60" r="1.10" fill="#0000ff"/>
<circle cx="646.55" cy="413.03" r="1.10" fill="#0000ff"/>
<circle cx="655.20" cy="414.27" r="1.10" fill="#0000ff"/>
<circle cx="663.85" cy="415.50" r="1.10" fill="#0000ff"/>
<circle cx="672.50" cy="417.00" r="1.10" fill="#0000ff"/>
<path d="M499.50 321.10 L508.15 345.00 L516.80 358.00 L525.45 369.53 L534.10 378.07 L542.75 384.60 L551.40 389.60 L560.05 394.10 L568.70 397.60 L577.35 401.10 L586.00 404.10 L594.65 406.60 L603.30 409.10 L611.95 411.10 L620.60 413.10 L629.25 415.10 L637.90 417.10 L646.55 418.57 L655.20 419.53 L663.85 420.50 L672.50 421.50" fill="none" stroke="#ff8c00" stroke-opacity="0.8" stroke-width="1.15"/>
<polygon points="497.40,321.10 500.97,319.21 500.97,322.99" fill="#ff8c00"/>
<polygon points="506.05,345.00 509.62,343.11 509.62,346.89" fill="#ff8c00"/>
<polygon points="514.70,358.00 518.27,356.11 518.27,359.89" fill="#ff8c00"/>
<polygon points="523.35,369.53 526.92,367.64 526.92,371.42" fill="#ff8c00"/>
<polygon points="532.00,378.07 535.57,376.18 535.57,379.96" fill="#ff8c00"/>
<polygon points="540.65,384.60 544.22,382.71 544.22,386.49" fill="#ff8c00"/>
<polygon points="549.30,389.60 552.87,387.71 552.87,391.49" fill="#ff8c00"/>
<polygon points="557.95,394.10 561.52,392.21 561.52,395.99" fill="#ff8c00"/>
<polygon points="566.60,397.60 570.17,395.71 570.17,399.49" fill="#ff8c00"/>
<polygon points="575.25,401.10 578.82,399.21 578.82,402.99" fill="#ff8c00"/>
<polygon points="583.90,404.10 587.47,402.21 587.47,405.99" fill="#ff8c00"/>
<polygon points="592.55,406.60 596.12,404.71 596.12,408.49" fill="#ff8c00"/>
<polygon points="601.20,409.10 604.77,407.21 604.77,410.99" fill="#ff8c00"/>
<polygon points="609.85,411.10 613.42,409.21 613.42,412.99" fill="#ff8c00"/>
<polygon points="618.50,413.10 622.07,411.21 622.07,414.99" fill="#ff8c00"/>
<polygon points="627.15,415.10 630.72,413.21 630.72,416.99" fill="#ff8c00"/>
<polygon points="635.80,417.10 639.37,415.21 639.37,418.99" fill="#ff8c00"/>
<polygon points="644.45,418.57 648.02,416.68 648.02,420.46" fill="#ff8c00"/>
<polygon points="653.10,419.53 656.67,417.64 656.67,421.42" fill="#ff8c00"/>
<polygon points="661.75,420.50 665.32,418.61 665.32,422.39" fill="#ff8c00"/>
<polygon points="670.40,421.50 673.97,419.61 673.97,423.39" fill="#ff8c00"/>
<path d="M499.50 321.10 L508.15 348.00 L516.80 361.00 L525.45 372.53 L534.10 381.07 L542.75 387.60 L551.40 393.10 L560.05 397.60 L568.70 401.10 L577.35 404.10 L586.00 407.10 L594.65 409.60 L603.30 412.10 L611.95 414.10 L620.60 416.10 L629.25 418.10 L637.90 420.10 L646.55 421.07 L655.20 422.03 L663.85 423.00 L672.50 423.90" fill="none" stroke="#bcbd22" stroke-opacity="0.6" stroke-width="1.15"/>
<polygon points="501.60,321.10 498.03,319.21 498.03,322.99" fill="#bcbd22"/>
<polygon points="510.25,348.00 506.68,346.11 506.68,349.89" fill="#bcbd22"/>
<polygon points="518.90,361.00 515.33,359.11 515.33,362.89" fill="#bcbd22"/>
<polygon points="527.55,372.53 523.98,370.64 523.98,374.42" fill="#bcbd22"/>
<polygon points="536.20,381.07 532.63,379.18 532.63,382.96" fill="#bcbd22"/>
<polygon points="544.85,387.60 541.28,385.71 541.28,389.49" fill="#bcbd22"/>
<polygon points="553.50,393.10 549.93,391.21 549.93,394.99" fill="#bcbd22"/>
<polygon points="562.15,397.60 558.58,395.71 558.58,399.49" fill="#bcbd22"/>
<polygon points="570.80,401.10 567.23,399.21 567.23,402.99" fill="#bcbd22"/>
<polygon points="579.45,404.10 575.88,402.21 575.88,405.99" fill="#bcbd22"/>
<polygon points="588.10,407.10 584.53,405.21 584.53,408.99" fill="#bcbd22"/>
<polygon points="596.75,409.60 593.18,407.71 593.18,411.49" fill="#bcbd22"/>
<polygon points="605.40,412.10 601.83,410.21 601.83,413.99" fill="#bcbd22"/>
<polygon points="614.05,414.10 610.48,412.21 610.48,415.99" fill="#bcbd22"/>
<polygon points="622.70,416.10 619.13,414.21 619.13,417.99" fill="#bcbd22"/>
<polygon points="631.35,418.10 627.78,416.21 627.78,419.99" fill="#bcbd22"/>
<polygon points="640.00,420.10 636.43,418.21 636.43,421.99" fill="#bcbd22"/>
<polygon points="648.65,421.07 645.08,419.18 645.08,422.96" fill="#bcbd22"/>
<polygon points="657.30,422.03 653.73,420.14 653.73,423.92" fill="#bcbd22"/>
<polygon points="665.95,423.00 662.38,421.11 662.38,424.89" fill="#bcbd22"/>
<polygon points="674.60,423.90 671.03,422.01 671.03,425.79" fill="#bcbd22"/>
<path d="M499.50 321.10 L508.15 347.00 L516.80 360.00 L525.45 371.53 L534.10 380.07 L542.75 386.60 L551.40 392.10 L560.05 396.60 L568.70 400.10 L577.35 403.60 L586.00 406.60 L594.65 409.10 L603.30 411.60 L611.95 413.60 L620.60 415.60 L629.25 417.60 L637.90 419.60 L646.55 420.57 L655.20 421.53 L663.85 422.30 L672.50 423.10" fill="none" stroke="#008000" stroke-opacity="0.75" stroke-width="1.15"/>
<polygon points="499.50,319.00 501.39,322.57 497.61,322.57" fill="#008000"/>
<polygon points="508.15,344.90 510.04,348.47 506.26,348.47" fill="#008000"/>
<polygon points="516.80,357.90 518.69,361.47 514.91,361.47" fill="#008000"/>
<polygon points="525.45,369.43 527.34,373.00 523.56,373.00" fill="#008000"/>
<polygon points="534.10,377.97 535.99,381.54 532.21,381.54" fill="#008000"/>
<polygon points="542.75,384.50 544.64,388.07 540.86,388.07" fill="#008000"/>
<polygon points="551.40,390.00 553.29,393.57 549.51,393.57" fill="#008000"/>
<polygon points="560.05,394.50 561.94,398.07 558.16,398.07" fill="#008000"/>
<polygon points="568.70,398.00 570.59,401.57 566.81,401.57" fill="#008000"/>
<polygon points="577.35,401.50 579.24,405.07 575.46,405.07" fill="#008000"/>
<polygon points="586.00,404.50 587.89,408.07 584.11,408.07" fill="#008000"/>
<polygon points="594.65,407.00 596.54,410.57 592.76,410.57" fill="#008000"/>
<polygon points="603.30,409.50 605.19,413.07 601.41,413.07" fill="#008000"/>
<polygon points="611.95,411.50 613.84,415.07 610.06,415.07" fill="#008000"/>
<polygon points="620.60,413.50 622.49,417.07 618.71,417.07" fill="#008000"/>
<polygon points="629.25,415.50 631.14,419.07 627.36,419.07" fill="#008000"/>
<polygon points="637.90,417.50 639.79,421.07 636.01,421.07" fill="#008000"/>
<polygon points="646.55,418.47 648.44,422.04 644.66,422.04" fill="#008000"/>
<polygon points="655.20,419.43 657.09,423.00 653.31,423.00" fill="#008000"/>
<polygon points="663.85,420.20 665.74,423.77 661.96,423.77" fill="#008000"/>
<polygon points="672.50,421.00 674.39,424.57 670.61,424.57" fill="#008000"/>
<path d="M499.50 321.10 L508.15 339.30 L516.80 349.13 L525.45 364.07 L534.10 372.10 L542.75 378.20 L551.40 382.70 L560.05 387.20 L568.70 390.70 L577.35 393.70 L586.00 396.20 L594.65 399.50 L603.30 401.80 L611.95 405.17 L620.60 406.13 L629.25 407.60 L637.90 409.80 L646.55 411.00 L655.20 411.70 L663.85 414.00 L672.50 415.50" fill="none" stroke="#a0522d" stroke-opacity="0.5" stroke-width="1.15"/>
<polygon points="500.98,321.71 500.11,322.58 498.89,322.58 498.02,321.71 498.02,320.49 498.89,319.62 500.11,319.62 500.98,320.49" fill="#a0522d"/>
<polygon points="509.63,339.91 508.76,340.78 507.54,340.78 506.67,339.91 506.67,338.69 507.54,337.82 508.76,337.82 509.63,338.69" fill="#a0522d"/>
<polygon points="518.28,349.75 517.41,350.61 516.19,350.61 515.32,349.75 515.32,348.52 516.19,347.66 517.41,347.66 518.28,348.52" fill="#a0522d"/>
<polygon points="526.93,364.68 526.06,365.54 524.84,365.54 523.97,364.68 523.97,363.45 524.84,362.59 526.06,362.59 526.93,363.45" fill="#a0522d"/>
<polygon points="535.58,372.71 534.71,373.58 533.49,373.58 532.62,372.71 532.62,371.49 533.49,370.62 534.71,370.62 535.58,371.49" fill="#a0522d"/>
<polygon points="544.23,378.81 543.36,379.68 542.14,379.68 541.27,378.81 541.27,377.59 542.14,376.72 543.36,376.72 544.23,377.59" fill="#a0522d"/>
<polygon points="552.88,383.31 552.01,384.18 550.79,384.18 549.92,383.31 549.92,382.09 550.79,381.22 552.01,381.22 552.88,382.09" fill="#a0522d"/>
<polygon points="561.53,387.81 560.66,388.68 559.44,388.68 558.57,387.81 558.57,386.59 559.44,385.72 560.66,385.72 561.53,386.59" fill="#a0522d"/>
<polygon points="570.18,391.31 569.31,392.18 568.09,392.18 567.22,391.31 567.22,390.09 568.09,389.22 569.31,389.22 570.18,390.09" fill="#a0522d"/>
<polygon points="578.83,394.31 577.96,395.18 576.74,395.18 575.87,394.31 575.87,393.09 576.74,392.22 577.96,392.22 578.83,393.09" fill="#a0522d"/>
<polygon points="587.48,396.81 586.61,397.68 585.39,397.68 584.52,396.81 584.52,395.59 585.39,394.72 586.61,394.72 587.48,395.59" fill="#a0522d"/>
<polygon points="596.13,400.11 595.26,400.98 594.04,400.98 593.17,400.11 593.17,398.89 594.04,398.02 595.26,398.02 596.13,398.89" fill="#a0522d"/>
<polygon points="604.78,402.41 603.91,403.28 602.69,403.28 601.82,402.41 601.82,401.19 602.69,400.32 603.91,400.32 604.78,401.19" fill="#a0522d"/>
<polygon points="613.43,405.78 612.56,406.64 611.34,406.64 610.47,405.78 610.47,404.55 611.34,403.69 612.56,403.69 613.43,404.55" fill="#a0522d"/>
<polygon points="622.08,406.75 621.21,407.61 619.99,407.61 619.12,406.75 619.12,405.52 619.99,404.66 621.21,404.66 622.08,405.52" fill="#a0522d"/>
<polygon points="630.73,408.21 629.86,409.08 628.64,409.08 627.77,408.21 627.77,406.99 628.64,406.12 629.86,406.12 630.73,406.99" fill="#a0522d"/>
<polygon points="639.38,410.41 638.51,411.28 637.29,411.28 636.42,410.41 636.42,409.19 637.29,408.32 638.51,408.32 639.38,409.19" fill="#a0522d"/>
<polygon points="648.03,411.61 647.16,412.48 645.94,412.48 645.07,411.61 645.07,410.39 645.94,409.52 647.16,409.52 648.03,410.39" fill="#a0522d"/>
<polygon points="656.68,412.31 655.81,413.18 654.59,413.18 653.72,412.31 653.72,411.09 654.59,410.22 655.81,410.22 656.68,411.09" fill="#a0522d"/>
<polygon points="665.33,414.61 664.46,415.48 663.24,415.48 662.37,414.61 662.37,413.39 663.24,412.52 664.46,412.52 665.33,413.39" fill="#a0522d"/>
<polygon points="673.98,416.11 673.11,416.98 671.89,416.98 671.02,416.11 671.02,414.89 671.89,414.02 673.11,414.02 673.98,414.89" fill="#a0522d"/>
<path d="M499.50 321.10 L508.15 342.00 L516.80 354.00 L525.45 366.00 L534.10 374.00 L542.75 380.00 L551.40 385.00 L560.05 389.00 L568.70 392.50 L577.35 395.50 L586.00 396.60 L594.65 401.10 L603.30 401.90 L611.95 402.60 L620.60 404.60 L629.25 406.40 L637.90 407.20 L646.55 408.70 L655.20 409.20 L663.85 409.80 L672.50 410.70" fill="none" stroke="#ee82ee" stroke-opacity="0.9" stroke-width="1.15"/>
<polygon points="498.78,319.10 500.22,319.10 500.22,320.38 501.50,320.38 501.50,321.82 500.22,321.82 500.22,323.10 498.78,323.10 498.78,321.82 497.50,321.82 497.50,320.38 498.78,320.38" fill="#ee82ee"/>
<polygon points="507.43,340.00 508.87,340.00 508.87,341.28 510.15,341.28 510.15,342.72 508.87,342.72 508.87,344.00 507.43,344.00 507.43,342.72 506.15,342.72 506.15,341.28 507.43,341.28" fill="#ee82ee"/>
<polygon points="516.08,352.00 517.52,352.00 517.52,353.28 518.80,353.28 518.80,354.72 517.52,354.72 517.52,356.00 516.08,356.00 516.08,354.72 514.80,354.72 514.80,353.28 516.08,353.28" fill="#ee82ee"/>
<polygon points="524.73,364.00 526.17,364.00 526.17,365.28 527.45,365.28 527.45,366.72 526.17,366.72 526.17,368.00 524.73,368.00 524.73,366.72 523.45,366.72 523.45,365.28 524.73,365.28" fill="#ee82ee"/>
<polygon points="533.38,372.00 534.82,372.00 534.82,373.28 536.10,373.28 536.10,374.72 534.82,374.72 534.82,376.00 533.38,376.00 533.38,374.72 532.10,374.72 532.10,373.28 533.38,373.28" fill="#ee82ee"/>
<polygon points="542.03,378.00 543.47,378.00 543.47,379.28 544.75,379.28 544.75,380.72 543.47,380.72 543.47,382.00 542.03,382.00 542.03,380.72 540.75,380.72 540.75,379.28 542.03,379.28" fill="#ee82ee"/>
<polygon points="550.68,383.00 552.12,383.00 552.12,384.28 553.40,384.28 553.40,385.72 552.12,385.72 552.12,387.00 550.68,387.00 550.68,385.72 549.40,385.72 549.40,384.28 550.68,384.28" fill="#ee82ee"/>
<polygon points="559.33,387.00 560.77,387.00 560.77,388.28 562.05,388.28 562.05,389.72 560.77,389.72 560.77,391.00 559.33,391.00 559.33,389.72 558.05,389.72 558.05,388.28 559.33,388.28" fill="#ee82ee"/>
<polygon points="567.98,390.50 569.42,390.50 569.42,391.78 570.70,391.78 570.70,393.22 569.42,393.22 569.42,394.50 567.98,394.50 567.98,393.22 566.70,393.22 566.70,391.78 567.98,391.78" fill="#ee82ee"/>
<polygon points="576.63,393.50 578.07,393.50 578.07,394.78 579.35,394.78 579.35,396.22 578.07,396.22 578.07,397.50 576.63,397.50 576.63,396.22 575.35,396.22 575.35,394.78 576.63,394.78" fill="#ee82ee"/>
<polygon points="585.28,394.60 586.72,394.60 586.72,395.88 588.00,395.88 588.00,397.32 586.72,397.32 586.72,398.60 585.28,398.60 585.28,397.32 584.00,397.32 584.00,395.88 585.28,395.88" fill="#ee82ee"/>
<polygon points="593.93,399.10 595.37,399.10 595.37,400.38 596.65,400.38 596.65,401.82 595.37,401.82 595.37,403.10 593.93,403.10 593.93,401.82 592.65,401.82 592.65,400.38 593.93,400.38" fill="#ee82ee"/>
<polygon points="602.58,399.90 604.02,399.90 604.02,401.18 605.30,401.18 605.30,402.62 604.02,402.62 604.02,403.90 602.58,403.90 602.58,402.62 601.30,402.62 601.30,401.18 602.58,401.18" fill="#ee82ee"/>
<polygon points="611.23,400.60 612.67,400.60 612.67,401.88 613.95,401.88 613.95,403.32 612.67,403.32 612.67,404.60 611.23,404.60 611.23,403.32 609.95,403.32 609.95,401.88 611.23,401.88" fill="#ee82ee"/>
<polygon points="619.88,402.60 621.32,402.60 621.32,403.88 622.60,403.88 622.60,405.32 621.32,405.32 621.32,406.60 619.88,406.60 619.88,405.32 618.60,405.32 618.60,403.88 619.88,403.88" fill="#ee82ee"/>
<polygon points="628.53,404.40 629.97,404.40 629.97,405.68 631.25,405.68 631.25,407.12 629.97,407.12 629.97,408.40 628.53,408.40 628.53,407.12 627.25,407.12 627.25,405.68 628.53,405.68" fill="#ee82ee"/>
<polygon points="637.18,405.20 638.62,405.20 638.62,406.48 639.90,406.48 639.90,407.92 638.62,407.92 638.62,409.20 637.18,409.20 637.18,407.92 635.90,407.92 635.90,406.48 637.18,406.48" fill="#ee82ee"/>
<polygon points="645.83,406.70 647.27,406.70 647.27,407.98 648.55,407.98 648.55,409.42 647.27,409.42 647.27,410.70 645.83,410.70 645.83,409.42 644.55,409.42 644.55,407.98 645.83,407.98" fill="#ee82ee"/>
<polygon points="654.48,407.20 655.92,407.20 655.92,408.48 657.20,408.48 657.20,409.92 655.92,409.92 655.92,411.20 654.48,411.20 654.48,409.92 653.20,409.92 653.20,408.48 654.48,408.48" fill="#ee82ee"/>
<polygon points="663.13,407.80 664.57,407.80 664.57,409.08 665.85,409.08 665.85,410.52 664.57,410.52 664.57,411.80 663.13,411.80 663.13,410.52 661.85,410.52 661.85,409.08 663.13,409.08" fill="#ee82ee"/>
<polygon points="671.78,408.70 673.22,408.70 673.22,409.98 674.50,409.98 674.50,411.42 673.22,411.42 673.22,412.70 671.78,412.70 671.78,411.42 670.50,411.42 670.50,409.98 671.78,409.98" fill="#ee82ee"/>
<path d="M499.50 321.10 L508.15 352.80 L516.80 363.00 L525.45 373.53 L534.10 381.07 L542.75 387.60 L551.40 392.60 L560.05 397.10 L568.70 400.60 L577.35 403.60 L586.00 406.10 L594.65 408.60 L603.30 411.10 L611.95 413.10 L620.60 415.10 L629.25 417.10 L637.90 419.10 L646.55 420.07 L655.20 421.03 L663.85 422.00 L672.50 423.00" fill="none" stroke="#707070" stroke-opacity="0.8" stroke-width="1.15"/>
<path d="M498.07 319.68L500.93 322.53M498.07 322.53L500.93 319.68" stroke="#555555" stroke-width="1.1"/>
<path d="M506.72 351.38L509.57 354.23M506.72 354.23L509.57 351.38" stroke="#555555" stroke-width="1.1"/>
<path d="M515.38 361.57L518.22 364.43M515.38 364.43L518.22 361.57" stroke="#555555" stroke-width="1.1"/>
<path d="M524.03 372.11L526.88 374.96M524.03 374.96L526.88 372.11" stroke="#555555" stroke-width="1.1"/>
<path d="M532.68 379.64L535.52 382.49M532.68 382.49L535.52 379.64" stroke="#555555" stroke-width="1.1"/>
<path d="M541.33 386.18L544.17 389.03M541.33 389.03L544.17 386.18" stroke="#555555" stroke-width="1.1"/>
<path d="M549.98 391.18L552.82 394.03M549.98 394.03L552.82 391.18" stroke="#555555" stroke-width="1.1"/>
<path d="M558.62 395.68L561.47 398.53M558.62 398.53L561.47 395.68" stroke="#555555" stroke-width="1.1"/>
<path d="M567.28 399.18L570.12 402.03M567.28 402.03L570.12 399.18" stroke="#555555" stroke-width="1.1"/>
<path d="M575.93 402.18L578.77 405.03M575.93 405.03L578.77 402.18" stroke="#555555" stroke-width="1.1"/>
<path d="M584.58 404.68L587.42 407.53M584.58 407.53L587.42 404.68" stroke="#555555" stroke-width="1.1"/>
<path d="M593.23 407.18L596.07 410.03M593.23 410.03L596.07 407.18" stroke="#555555" stroke-width="1.1"/>
<path d="M601.88 409.68L604.72 412.53M601.88 412.53L604.72 409.68" stroke="#555555" stroke-width="1.1"/>
<path d="M610.53 411.68L613.38 414.53M610.53 414.53L613.38 411.68" stroke="#555555" stroke-width="1.1"/>
<path d="M619.18 413.68L622.02 416.53M619.18 416.53L622.02 413.68" stroke="#555555" stroke-width="1.1"/>
<path d="M627.83 415.68L630.67 418.53M627.83 418.53L630.67 415.68" stroke="#555555" stroke-width="1.1"/>
<path d="M636.48 417.68L639.32 420.53M636.48 420.53L639.32 417.68" stroke="#555555" stroke-width="1.1"/>
<path d="M645.12 418.64L647.97 421.49M645.12 421.49L647.97 418.64" stroke="#555555" stroke-width="1.1"/>
<path d="M653.78 419.61L656.62 422.46M653.78 422.46L656.62 419.61" stroke="#555555" stroke-width="1.1"/>
<path d="M662.43 420.57L665.27 423.43M662.43 423.43L665.27 420.57" stroke="#555555" stroke-width="1.1"/>
<path d="M671.08 421.57L673.92 424.43M671.08 424.43L673.92 421.57" stroke="#555555" stroke-width="1.1"/>
<path d="M499.50 321.10 L508.15 342.00 L516.80 355.00 L525.45 366.20 L534.10 375.80 L542.75 380.50 L551.40 384.00 L560.05 387.40 L568.70 391.80 L577.35 395.00 L586.00 398.60 L594.65 400.60 L603.30 403.00 L611.95 405.00 L620.60 407.00 L629.25 408.50 L637.90 410.00 L646.55 411.00 L655.20 412.00 L663.85 413.00 L672.50 413.50" fill="none" stroke="#c000c0" stroke-opacity="0.8" stroke-width="1.15"/>
<polygon points="499.50,319.00 500.76,321.10 499.50,323.20 498.24,321.10" fill="#c000c0"/>
<polygon points="508.15,339.90 509.41,342.00 508.15,344.10 506.89,342.00" fill="#c000c0"/>
<polygon points="516.80,352.90 518.06,355.00 516.80,357.10 515.54,355.00" fill="#c000c0"/>
<polygon points="525.45,364.10 526.71,366.20 525.45,368.30 524.19,366.20" fill="#c000c0"/>
<polygon points="534.10,373.70 535.36,375.80 534.10,377.90 532.84,375.80" fill="#c000c0"/>
<polygon points="542.75,378.40 544.01,380.50 542.75,382.60 541.49,380.50" fill="#c000c0"/>
<polygon points="551.40,381.90 552.66,384.00 551.40,386.10 550.14,384.00" fill="#c000c0"/>
<polygon points="560.05,385.30 561.31,387.40 560.05,389.50 558.79,387.40" fill="#c000c0"/>
<polygon points="568.70,389.70 569.96,391.80 568.70,393.90 567.44,391.80" fill="#c000c0"/>
<polygon points="577.35,392.90 578.61,395.00 577.35,397.10 576.09,395.00" fill="#c000c0"/>
<polygon points="586.00,396.50 587.26,398.60 586.00,400.70 584.74,398.60" fill="#c000c0"/>
<polygon points="594.65,398.50 595.91,400.60 594.65,402.70 593.39,400.60" fill="#c000c0"/>
<polygon points="603.30,400.90 604.56,403.00 603.30,405.10 602.04,403.00" fill="#c000c0"/>
<polygon points="611.95,402.90 613.21,405.00 611.95,407.10 610.69,405.00" fill="#c000c0"/>
<polygon points="620.60,404.90 621.86,407.00 620.60,409.10 619.34,407.00" fill="#c000c0"/>
<polygon points="629.25,406.40 630.51,408.50 629.25,410.60 627.99,408.50" fill="#c000c0"/>
<polygon points="637.90,407.90 639.16,410.00 637.90,412.10 636.64,410.00" fill="#c000c0"/>
<polygon points="646.55,408.90 647.81,411.00 646.55,413.10 645.29,411.00" fill="#c000c0"/>
<polygon points="655.20,409.90 656.46,412.00 655.20,414.10 653.94,412.00" fill="#c000c0"/>
<polygon points="663.85,410.90 665.11,413.00 663.85,415.10 662.59,413.00" fill="#c000c0"/>
<polygon points="672.50,411.40 673.76,413.50 672.50,415.60 671.24,413.50" fill="#c000c0"/>
<path d="M499.50 321.10 L508.15 344.00 L516.80 357.00 L525.45 368.27 L534.10 376.53 L542.75 382.80 L551.40 387.80 L560.05 391.80 L568.70 395.30 L577.35 398.30 L586.00 400.80 L594.65 402.80 L603.30 404.80 L611.95 406.80 L620.60 408.30 L629.25 409.30 L637.90 410.80 L646.55 412.53 L655.20 413.77 L663.85 415.00 L672.50 416.50" fill="none" stroke="#4169e1" stroke-opacity="0.6" stroke-width="1.15"/>
<rect x="497.85" y="319.45" width="3.30" height="3.30" fill="#4169e1"/>
<rect x="506.50" y="342.35" width="3.30" height="3.30" fill="#4169e1"/>
<rect x="515.15" y="355.35" width="3.30" height="3.30" fill="#4169e1"/>
<rect x="523.80" y="366.62" width="3.30" height="3.30" fill="#4169e1"/>
<rect x="532.45" y="374.88" width="3.30" height="3.30" fill="#4169e1"/>
<rect x="541.10" y="381.15" width="3.30" height="3.30" fill="#4169e1"/>
<rect x="549.75" y="386.15" width="3.30" height="3.30" fill="#4169e1"/>
<rect x="558.40" y="390.15" width="3.30" height="3.30" fill="#4169e1"/>
<rect x="567.05" y="393.65" width="3.30" height="3.30" fill="#4169e1"/>
<rect x="575.70" y="396.65" width="3.30" height="3.30" fill="#4169e1"/>
<rect x="584.35" y="399.15" width="3.30" height="3.30" fill="#4169e1"/>
<rect x="593.00" y="401.15" width="3.30" height="3.30" fill="#4169e1"/>
<rect x="601.65" y="403.15" width="3.30" height="3.30" fill="#4169e1"/>
<rect x="610.30" y="405.15" width="3.30" height="3.30" fill="#4169e1"/>
<rect x="618.95" y="406.65" width="3.30" height="3.30" fill="#4169e1"/>
<rect x="627.60" y="407.65" width="3.30" height="3.30" fill="#4169e1"/>
<rect x="636.25" y="409.15" width="3.30" height="3.30" fill="#4169e1"/>
<rect x="644.90" y="410.88" width="3.30" height="3.30" fill="#4169e1"/>
<rect x="653.55" y="412.12" width="3.30" height="3.30" fill="#4169e1"/>
<rect x="662.20" y="413.35" width="3.30" height="3.30" fill="#4169e1"/>
<rect x="670.85" y="414.85" width="3.30" height="3.30" fill="#4169e1"/>
<path d="M499.50 321.10 L508.15 343.00 L516.80 356.00 L525.45 367.00 L534.10 375.50 L542.75 382.00 L551.40 387.50 L560.05 392.00 L568.70 396.00 L577.35 398.50 L586.00 400.50 L594.65 403.00 L603.30 404.60 L611.95 406.60 L620.60 408.70 L629.25 409.80 L637.90 411.70 L646.55 413.70 L655.20 414.30 L663.85 415.20 L672.50 416.30" fill="none" stroke="#4b0082" stroke-opacity="0.75" stroke-width="1.15"/>
<circle cx="499.50" cy="321.10" r="1.70" fill="#4b0082"/>
<circle cx="508.15" cy="343.00" r="1.70" fill="#4b0082"/>
<circle cx="516.80" cy="356.00" r="1.70" fill="#4b0082"/>
<circle cx="525.45" cy="367.00" r="1.70" fill="#4b0082"/>
<circle cx="534.10" cy="375.50" r="1.70" fill="#4b0082"/>
<circle cx="542.75" cy="382.00" r="1.70" fill="#4b0082"/>
<circle cx="551.40" cy="387.50" r="1.70" fill="#4b0082"/>
<circle cx="560.05" cy="392.00" r="1.70" fill="#4b0082"/>
<circle cx="568.70" cy="396.00" r="1.70" fill="#4b0082"/>
<circle cx="577.35" cy="398.50" r="1.70" fill="#4b0082"/>
<circle cx="586.00" cy="400.50" r="1.70" fill="#4b0082"/>
<circle cx="594.65" cy="403.00" r="1.70" fill="#4b0082"/>
<circle cx="603.30" cy="404.60" r="1.70" fill="#4b0082"/>
<circle cx="611.95" cy="406.60" r="1.70" fill="#4b0082"/>
<circle cx="620.60" cy="408.70" r="1.70" fill="#4b0082"/>
<circle cx="629.25" cy="409.80" r="1.70" fill="#4b0082"/>
<circle cx="637.90" cy="411.70" r="1.70" fill="#4b0082"/>
<circle cx="646.55" cy="413.70" r="1.70" fill="#4b0082"/>
<circle cx="655.20" cy="414.30" r="1.70" fill="#4b0082"/>
<circle cx="663.85" cy="415.20" r="1.70" fill="#4b0082"/>
<circle cx="672.50" cy="416.30" r="1.70" fill="#4b0082"/>
<path d="M499.50 321.10 L508.15 346.00 L516.80 359.00 L525.45 370.53 L534.10 379.07 L542.75 385.60 L551.40 391.10 L560.05 395.60 L568.70 399.10 L577.35 402.60 L586.00 407.30 L594.65 408.80 L603.30 411.10 L611.95 412.90 L620.60 414.80 L629.25 416.40 L637.90 418.30 L646.55 418.87 L655.20 419.83 L663.85 421.30 L672.50 422.40" fill="none" stroke="#00c0c0" stroke-opacity="0.5" stroke-width="1.15"/>
<polygon points="499.50,323.20 501.39,319.63 497.61,319.63" fill="#20c0c0"/>
<polygon points="508.15,348.10 510.04,344.53 506.26,344.53" fill="#20c0c0"/>
<polygon points="516.80,361.10 518.69,357.53 514.91,357.53" fill="#20c0c0"/>
<polygon points="525.45,372.63 527.34,369.06 523.56,369.06" fill="#20c0c0"/>
<polygon points="534.10,381.17 535.99,377.60 532.21,377.60" fill="#20c0c0"/>
<polygon points="542.75,387.70 544.64,384.13 540.86,384.13" fill="#20c0c0"/>
<polygon points="551.40,393.20 553.29,389.63 549.51,389.63" fill="#20c0c0"/>
<polygon points="560.05,397.70 561.94,394.13 558.16,394.13" fill="#20c0c0"/>
<polygon points="568.70,401.20 570.59,397.63 566.81,397.63" fill="#20c0c0"/>
<polygon points="577.35,404.70 579.24,401.13 575.46,401.13" fill="#20c0c0"/>
<polygon points="586.00,409.40 587.89,405.83 584.11,405.83" fill="#20c0c0"/>
<polygon points="594.65,410.90 596.54,407.33 592.76,407.33" fill="#20c0c0"/>
<polygon points="603.30,413.20 605.19,409.63 601.41,409.63" fill="#20c0c0"/>
<polygon points="611.95,415.00 613.84,411.43 610.06,411.43" fill="#20c0c0"/>
<polygon points="620.60,416.90 622.49,413.33 618.71,413.33" fill="#20c0c0"/>
<polygon points="629.25,418.50 631.14,414.93 627.36,414.93" fill="#20c0c0"/>
<polygon points="637.90,420.40 639.79,416.83 636.01,416.83" fill="#20c0c0"/>
<polygon points="646.55,420.97 648.44,417.40 644.66,417.40" fill="#20c0c0"/>
<polygon points="655.20,421.93 657.09,418.36 653.31,418.36" fill="#20c0c0"/>
<polygon points="663.85,423.40 665.74,419.83 661.96,419.83" fill="#20c0c0"/>
<polygon points="672.50,424.50 674.39,420.93 670.61,420.93" fill="#20c0c0"/>
<path d="M499.50 321.10 L508.15 349.40 L516.80 364.00 L525.45 375.20 L534.10 382.60 L542.75 388.60 L551.40 395.40 L560.05 399.20 L568.70 402.80 L577.35 407.20 L586.00 410.70 L594.65 413.70 L603.30 414.30 L611.95 417.30 L620.60 419.30 L629.25 420.80 L637.90 422.40 L646.55 422.40 L655.20 422.80 L663.85 425.00 L672.50 425.80" fill="none" stroke="#ff0000" stroke-opacity="0.8" stroke-width="1.15"/>
<circle cx="499.50" cy="321.10" r="1.80" fill="#ff0000"/>
<circle cx="508.15" cy="349.40" r="1.80" fill="#ff0000"/>
<circle cx="516.80" cy="364.00" r="1.80" fill="#ff0000"/>
<circle cx="525.45" cy="375.20" r="1.80" fill="#ff0000"/>
<circle cx="534.10" cy="382.60" r="1.80" fill="#ff0000"/>
<circle cx="542.75" cy="388.60" r="1.80" fill="#ff0000"/>
<circle cx="551.40" cy="395.40" r="1.80" fill="#ff0000"/>
<circle cx="560.05" cy="399.20" r="1.80" fill="#ff0000"/>
<circle cx="568.70" cy="402.80" r="1.80" fill="#ff0000"/>
<circle cx="577.35" cy="407.20" r="1.80" fill="#ff0000"/>
<circle cx="586.00" cy="410.70" r="1.80" fill="#ff0000"/>
<circle cx="594.65" cy="413.70" r="1.80" fill="#ff0000"/>
<circle cx="603.30" cy="414.30" r="1.80" fill="#ff0000"/>
<circle cx="611.95" cy="417.30" r="1.80" fill="#ff0000"/>
<circle cx="620.60" cy="419.30" r="1.80" fill="#ff0000"/>
<circle cx="629.25" cy="420.80" r="1.80" fill="#ff0000"/>
<circle cx="637.90" cy="422.40" r="1.80" fill="#ff0000"/>
<circle cx="646.55" cy="422.40" r="1.80" fill="#ff0000"/>
<circle cx="655.20" cy="422.80" r="1.80" fill="#ff0000"/>
<circle cx="663.85" cy="425.00" r="1.80" fill="#ff0000"/>
<circle cx="672.50" cy="425.80" r="1.80" fill="#ff0000"/>
</g>
<rect x="490.5" y="318.4" width="190.50" height="110.60" fill="none" stroke="#333" stroke-width="1"/>
<line x1="499.50" y1="429.0" x2="499.50" y2="431.80" stroke="#333" stroke-width="0.9"/>
<text class="s" x="499.50" y="438.60" text-anchor="middle">0</text>
<line x1="521.12" y1="429.0" x2="521.12" y2="431.80" stroke="#333" stroke-width="0.9"/>
<text class="s" x="521.12" y="438.60" text-anchor="middle">25</text>
<line x1="542.75" y1="429.0" x2="542.75" y2="431.80" stroke="#333" stroke-width="0.9"/>
<text class="s" x="542.75" y="438.60" text-anchor="middle">50</text>
<line x1="564.38" y1="429.0" x2="564.38" y2="431.80" stroke="#333" stroke-width="0.9"/>
<text class="s" x="564.38" y="438.60" text-anchor="middle">75</text>
<line x1="586.00" y1="429.0" x2="586.00" y2="431.80" stroke="#333" stroke-width="0.9"/>
<text class="s" x="586.00" y="438.60" text-anchor="middle">100</text>
<line x1="607.62" y1="429.0" x2="607.62" y2="431.80" stroke="#333" stroke-width="0.9"/>
<text class="s" x="607.62" y="438.60" text-anchor="middle">125</text>
<line x1="629.25" y1="429.0" x2="629.25" y2="431.80" stroke="#333" stroke-width="0.9"/>
<text class="s" x="629.25" y="438.60" text-anchor="middle">150</text>
<line x1="650.88" y1="429.0" x2="650.88" y2="431.80" stroke="#333" stroke-width="0.9"/>
<text class="s" x="650.88" y="438.60" text-anchor="middle">175</text>
<line x1="672.50" y1="429.0" x2="672.50" y2="431.80" stroke="#333" stroke-width="0.9"/>
<text class="s" x="672.50" y="438.60" text-anchor="middle">200</text>
<line x1="487.70" y1="424.50" x2="490.5" y2="424.50" stroke="#333" stroke-width="0.9"/>
<text class="s" x="485.90" y="427.05" text-anchor="end">0.30</text>
<line x1="487.70" y1="409.50" x2="490.5" y2="409.50" stroke="#333" stroke-width="0.9"/>
<text class="s" x="485.90" y="412.05" text-anchor="end">0.35</text>
<line x1="487.70" y1="394.50" x2="490.5" y2="394.50" stroke="#333" stroke-width="0.9"/>
<text class="s" x="485.90" y="397.05" text-anchor="end">0.40</text>
<line x1="487.70" y1="379.50" x2="490.5" y2="379.50" stroke="#333" stroke-width="0.9"/>
<text class="s" x="485.90" y="382.05" text-anchor="end">0.45</text>
<line x1="487.70" y1="364.50" x2="490.5" y2="364.50" stroke="#333" stroke-width="0.9"/>
<text class="s" x="485.90" y="367.05" text-anchor="end">0.50</text>
<line x1="487.70" y1="349.50" x2="490.5" y2="349.50" stroke="#333" stroke-width="0.9"/>
<text class="s" x="485.90" y="352.05" text-anchor="end">0.55</text>
<line x1="487.70" y1="334.50" x2="490.5" y2="334.50" stroke="#333" stroke-width="0.9"/>
<text class="s" x="485.90" y="337.05" text-anchor="end">0.60</text>
<line x1="487.70" y1="319.50" x2="490.5" y2="319.50" stroke="#333" stroke-width="0.9"/>
<text class="s" x="485.90" y="322.05" text-anchor="end">0.65</text>
<text class="t" x="585.75" y="314.80" text-anchor="middle">Stock</text>
<text class="t xl" x="585.75" y="449.30" text-anchor="middle">Number of queries</text>
<text class="t" x="0" y="0" text-anchor="middle" transform="translate(467.35,373.70) rotate(-90)">MZE</text>
</g>
<rect x="79.3" y="463.5" width="491.1" height="31.4" rx="2" ry="2" fill="#fff" stroke="#d6d6d6" stroke-width="0.8"/>
<line x1="83.30" y1="471.4" x2="104.30" y2="471.4" stroke="#0000ff" stroke-opacity="0.4" stroke-width="1.3"/>
<circle cx="93.80" cy="471.40" r="1.10" fill="#0000ff"/>
<text class="t lg" x="112.50" y="474.80">Random</text>
<line x1="83.30" y1="485.4" x2="104.30" y2="485.4" stroke="#ff8c00" stroke-opacity="0.8" stroke-width="1.3"/>
<polygon points="91.70,485.40 95.27,483.51 95.27,487.29" fill="#ff8c00"/>
<text class="t lg" x="112.50" y="488.80">USME</text>
<line x1="167.00" y1="471.4" x2="188.00" y2="471.4" stroke="#bcbd22" stroke-opacity="0.5" stroke-width="1.3"/>
<polygon points="179.60,471.40 176.03,469.51 176.03,473.29" fill="#bcbd22"/>
<text class="t lg" x="196.20" y="474.80">USLC</text>
<line x1="167.00" y1="485.4" x2="188.00" y2="485.4" stroke="#008000" stroke-opacity="0.75" stroke-width="1.3"/>
<polygon points="177.50,483.30 179.39,486.87 175.61,486.87" fill="#008000"/>
<text class="t lg" x="196.20" y="488.80">USMS</text>
<line x1="244.00" y1="471.4" x2="265.00" y2="471.4" stroke="#a0522d" stroke-opacity="0.35" stroke-width="1.3"/>
<polygon points="255.98,472.01 255.11,472.88 253.89,472.88 253.02,472.01 253.02,470.79 253.89,469.92 255.11,469.92 255.98,470.79" fill="#a0522d"/>
<text class="t lg" x="273.30" y="474.80">MCSVMA</text>
<line x1="244.00" y1="485.4" x2="265.00" y2="485.4" stroke="#ee82ee" stroke-opacity="0.8" stroke-width="1.3"/>
<polygon points="253.78,483.40 255.22,483.40 255.22,484.68 256.50,484.68 256.50,486.12 255.22,486.12 255.22,487.40 253.78,487.40 253.78,486.12 252.50,486.12 252.50,484.68 253.78,484.68" fill="#ee82ee"/>
<text class="t lg" x="273.30" y="488.80">McPAL</text>
<line x1="338.70" y1="471.4" x2="359.70" y2="471.4" stroke="#707070" stroke-opacity="0.35" stroke-width="1.3"/>
<path d="M347.77 469.97L350.62 472.82M347.77 472.82L350.62 469.97" stroke="#555555" stroke-width="1.1"/>
<text class="t lg" x="367.70" y="474.80">iGS</text>
<line x1="338.70" y1="485.4" x2="359.70" y2="485.4" stroke="#c000c0" stroke-opacity="0.8" stroke-width="1.3"/>
<polygon points="349.20,483.30 350.46,485.40 349.20,487.50 347.94,485.40" fill="#c000c0"/>
<text class="t lg" x="367.70" y="488.80">FISTA</text>
<line x1="415.10" y1="471.4" x2="436.10" y2="471.4" stroke="#4169e1" stroke-opacity="0.4" stroke-width="1.3"/>
<rect x="423.95" y="469.75" width="3.30" height="3.30" fill="#4169e1"/>
<text class="t lg" x="444.30" y="474.80">ALCE</text>
<line x1="415.10" y1="485.4" x2="436.10" y2="485.4" stroke="#4b0082" stroke-opacity="0.7" stroke-width="1.3"/>
<circle cx="425.60" cy="485.40" r="1.70" fill="#4b0082"/>
<text class="t lg" x="444.30" y="488.80">LogitA</text>
<line x1="494.00" y1="471.4" x2="515.00" y2="471.4" stroke="#00c0c0" stroke-opacity="0.45" stroke-width="1.3"/>
<polygon points="504.50,473.50 506.39,469.93 502.61,469.93" fill="#20c0c0"/>
<text class="t lg" x="522.80" y="474.80">ALOR</text>
<line x1="494.00" y1="485.4" x2="515.00" y2="485.4" stroke="#ff0000" stroke-opacity="0.8" stroke-width="1.3"/>
<circle cx="504.50" cy="485.40" r="1.80" fill="#ff0000"/>
<text class="t lg" x="522.80" y="488.80">AOCECM</text>
</svg></body></html>
